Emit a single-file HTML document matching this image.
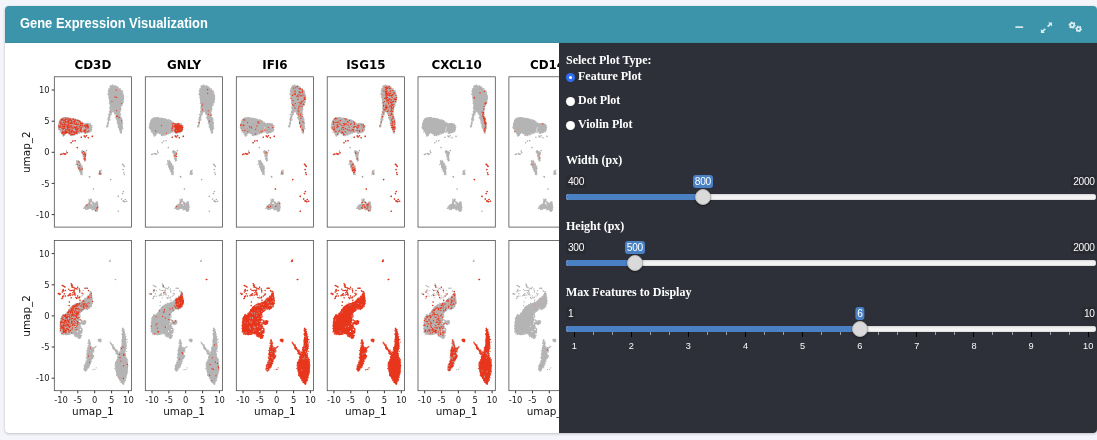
<!DOCTYPE html>
<html lang="en">
<head>
<meta charset="utf-8">
<title>Gene Expression Visualization</title>
<style>
html,body{margin:0;padding:0;}
body{width:1097px;height:440px;overflow:hidden;background:#f4f5fa;position:relative;font-family:"Liberation Sans",sans-serif;}
.card{will-change:transform;position:absolute;left:5px;top:6px;width:1092px;height:426.5px;background:#fff;border-radius:4px;box-shadow:0 0 1px rgba(0,0,0,.13),0 1px 3px rgba(0,0,0,.2);overflow:hidden;}
.hdr{position:absolute;left:0;top:0;right:0;height:37px;background:#3c94ab;border-bottom:1px solid #3a8ba1;box-sizing:border-box;}
.title{position:absolute;left:15px;top:7.6px;color:#fff;font-family:"Liberation Sans",sans-serif;font-weight:bold;font-size:14.6px;line-height:18px;white-space:nowrap;transform-origin:0 50%;transform:scaleX(.885);}
.tools svg{position:absolute;}
.plot{position:absolute;left:-5px;top:37px;}
.side{position:absolute;left:554px;top:37px;right:0;bottom:0;background:#2e3039;color:#fff;font-family:"Liberation Serif",serif;font-weight:bold;font-size:12px;}
.lab{position:absolute;left:7px;white-space:nowrap;line-height:14px;}
.radio{position:absolute;left:6.9px;width:9px;height:9px;border-radius:50%;background:#fff;box-sizing:border-box;}
.radio.on{background:#2f6df6;}
.radio.on:after{content:"";position:absolute;left:3px;top:3px;width:3px;height:3px;border-radius:50%;background:#fff;}
.rl{position:absolute;left:19px;white-space:nowrap;line-height:14px;}
.irs{position:absolute;left:7.2px;width:530px;height:50px;font-family:"Liberation Sans",sans-serif;font-weight:normal;}
.irs .mm{position:absolute;top:-.3px;height:12.2px;line-height:14px;font-size:10.2px;letter-spacing:-.3px;color:#fafafa;background:#292a32;border-radius:3px;padding:0 1.5px 0 1.8px;overflow:hidden;}
.irs .min{left:0;}
.irs .max{right:0;}
.irs .val{position:absolute;top:-.3px;height:12.2px;line-height:14px;font-size:10.2px;letter-spacing:-.3px;color:#fff;background:#4a80c4;border-radius:3px;padding:0 1.8px 0 2.1px;transform:translateX(-50%);overflow:hidden;}
.irs .line{position:absolute;left:0;right:0;top:18.3px;height:6px;border-radius:4px;background:linear-gradient(#e4e4e4,#f4f4f4 50%,#f0f0f0);box-shadow:inset 0 0 0 .5px #d0d0d0;}
.irs .bar{position:absolute;left:0;top:18.3px;height:6px;border-radius:4px 0 0 4px;background:#4a80c4;}
.irs .h{position:absolute;top:13.2px;width:16px;height:16px;margin-left:-8px;border-radius:50%;background:#dadada;box-sizing:border-box;border:1px solid #b9b9b9;box-shadow:0 1px 2px rgba(0,0,0,.45);}
.tk{position:absolute;top:24.4px;width:1px;}
.tk.M{height:5.2px;background:#000;}
.tk.m{height:3px;background:#9a9a9a;}
.tl{position:absolute;top:33.6px;font-size:9.2px;line-height:10px;color:#fafafa;transform:translateX(-50%);}
</style>
</head>
<body>
<div class="card">
  <div class="hdr">
    <div class="title">Gene Expression Visualization</div>
    <div class="tools">
      <svg style="left:1009.5px;top:19.8px" width="9" height="3" viewBox="0 0 9 3"><rect x=".3" y=".3" width="7.9" height="1.7" rx=".5" fill="#cfe6ec"/></svg>
      <svg style="left:1035px;top:15.5px" width="13" height="12" viewBox="0 0 13 12"><g fill="#dcedf1"><path d="M8.1.5H12V4.4zM.9 7.1V11H4.8z"/></g><path d="M10.4 2.1L7.6 4.7M2.5 9.4L5.3 6.8" stroke="#dcedf1" stroke-width="1.6" fill="none"/></svg>
      <svg style="left:1063px;top:15.3px" width="15" height="12" viewBox="0 0 15 12"><g fill="none" stroke="#dcedf1"><circle cx="4.2" cy="4.2" r="2" stroke-width="1.7"/><circle cx="4.2" cy="4.2" r="3" stroke-width="1.2" stroke-dasharray="1.57 1.57" stroke-dashoffset=".4"/><circle cx="10.6" cy="7.9" r="1.85" stroke-width="1.6"/><circle cx="10.6" cy="7.9" r="2.8" stroke-width="1.1" stroke-dasharray="1.466 1.466" stroke-dashoffset=".4"/></g></svg>
    </div>
  </div>
<svg class="plot" width="560" height="390" viewBox="0 43 560 390" font-family="'DejaVu Sans',sans-serif" fill="#000">
<defs><clipPath id="cl"><rect x="0" y="43" width="559.5" height="389"/></clipPath></defs><g clip-path="url(#cl)">
<text x="92.9" y="69" font-size="11.9" font-weight="bold" text-anchor="middle">CD3D</text>
<text x="184.0" y="69" font-size="11.9" font-weight="bold" text-anchor="middle">GNLY</text>
<text x="274.9" y="69" font-size="11.9" font-weight="bold" text-anchor="middle">IFI6</text>
<text x="365.8" y="69" font-size="11.9" font-weight="bold" text-anchor="middle">ISG15</text>
<text x="456.6" y="69" font-size="11.9" font-weight="bold" text-anchor="middle">CXCL10</text>
<text x="547.5" y="69" font-size="11.9" font-weight="bold" text-anchor="middle">CD14</text>
<text transform="translate(30.3 152.2) rotate(-90)" font-size="10.45" text-anchor="middle" fill="#111">umap_2</text>
<text x="49.6" y="93.1" font-size="8.4" text-anchor="end" fill="#222">10</text>
<path d="M51.7 90.0H54.3" stroke="#000" stroke-width=".8"/>
<text x="49.6" y="124.2" font-size="8.4" text-anchor="end" fill="#222">5</text>
<path d="M51.7 121.2H54.3" stroke="#000" stroke-width=".8"/>
<text x="49.6" y="155.4" font-size="8.4" text-anchor="end" fill="#222">0</text>
<path d="M51.7 152.3H54.3" stroke="#000" stroke-width=".8"/>
<text x="49.6" y="186.5" font-size="8.4" text-anchor="end" fill="#222">-5</text>
<path d="M51.7 183.4H54.3" stroke="#000" stroke-width=".8"/>
<text x="49.6" y="217.7" font-size="8.4" text-anchor="end" fill="#222">-10</text>
<path d="M51.7 214.6H54.3" stroke="#000" stroke-width=".8"/>
<text transform="translate(30.3 315.9) rotate(-90)" font-size="10.45" text-anchor="middle" fill="#111">umap_2</text>
<text x="49.6" y="256.7" font-size="8.4" text-anchor="end" fill="#222">10</text>
<path d="M51.7 253.6H54.3" stroke="#000" stroke-width=".8"/>
<text x="49.6" y="287.9" font-size="8.4" text-anchor="end" fill="#222">5</text>
<path d="M51.7 284.8H54.3" stroke="#000" stroke-width=".8"/>
<text x="49.6" y="319.0" font-size="8.4" text-anchor="end" fill="#222">0</text>
<path d="M51.7 315.9H54.3" stroke="#000" stroke-width=".8"/>
<text x="49.6" y="350.1" font-size="8.4" text-anchor="end" fill="#222">-5</text>
<path d="M51.7 347.0H54.3" stroke="#000" stroke-width=".8"/>
<text x="49.6" y="381.3" font-size="8.4" text-anchor="end" fill="#222">-10</text>
<path d="M51.7 378.2H54.3" stroke="#000" stroke-width=".8"/>
<path d="M61.0 390.7V393.3" stroke="#000" stroke-width=".8"/>
<text x="61.0" y="402.6" font-size="8.4" text-anchor="middle" fill="#222">-10</text>
<path d="M77.8 390.7V393.3" stroke="#000" stroke-width=".8"/>
<text x="77.8" y="402.6" font-size="8.4" text-anchor="middle" fill="#222">-5</text>
<path d="M94.7 390.7V393.3" stroke="#000" stroke-width=".8"/>
<text x="94.7" y="402.6" font-size="8.4" text-anchor="middle" fill="#222">0</text>
<path d="M111.6 390.7V393.3" stroke="#000" stroke-width=".8"/>
<text x="111.6" y="402.6" font-size="8.4" text-anchor="middle" fill="#222">5</text>
<path d="M128.4 390.7V393.3" stroke="#000" stroke-width=".8"/>
<text x="128.4" y="402.6" font-size="8.4" text-anchor="middle" fill="#222">10</text>
<text x="92.9" y="414.5" font-size="10.45" text-anchor="middle" fill="#111">umap_1</text>
<path d="M152.0 390.7V393.3" stroke="#000" stroke-width=".8"/>
<text x="152.0" y="402.6" font-size="8.4" text-anchor="middle" fill="#222">-10</text>
<path d="M168.8 390.7V393.3" stroke="#000" stroke-width=".8"/>
<text x="168.8" y="402.6" font-size="8.4" text-anchor="middle" fill="#222">-5</text>
<path d="M185.7 390.7V393.3" stroke="#000" stroke-width=".8"/>
<text x="185.7" y="402.6" font-size="8.4" text-anchor="middle" fill="#222">0</text>
<path d="M202.6 390.7V393.3" stroke="#000" stroke-width=".8"/>
<text x="202.6" y="402.6" font-size="8.4" text-anchor="middle" fill="#222">5</text>
<path d="M219.4 390.7V393.3" stroke="#000" stroke-width=".8"/>
<text x="219.4" y="402.6" font-size="8.4" text-anchor="middle" fill="#222">10</text>
<text x="184.0" y="414.5" font-size="10.45" text-anchor="middle" fill="#111">umap_1</text>
<path d="M243.0 390.7V393.3" stroke="#000" stroke-width=".8"/>
<text x="243.0" y="402.6" font-size="8.4" text-anchor="middle" fill="#222">-10</text>
<path d="M259.9 390.7V393.3" stroke="#000" stroke-width=".8"/>
<text x="259.9" y="402.6" font-size="8.4" text-anchor="middle" fill="#222">-5</text>
<path d="M276.7 390.7V393.3" stroke="#000" stroke-width=".8"/>
<text x="276.7" y="402.6" font-size="8.4" text-anchor="middle" fill="#222">0</text>
<path d="M293.6 390.7V393.3" stroke="#000" stroke-width=".8"/>
<text x="293.6" y="402.6" font-size="8.4" text-anchor="middle" fill="#222">5</text>
<path d="M310.4 390.7V393.3" stroke="#000" stroke-width=".8"/>
<text x="310.4" y="402.6" font-size="8.4" text-anchor="middle" fill="#222">10</text>
<text x="274.9" y="414.5" font-size="10.45" text-anchor="middle" fill="#111">umap_1</text>
<path d="M333.9 390.7V393.3" stroke="#000" stroke-width=".8"/>
<text x="333.9" y="402.6" font-size="8.4" text-anchor="middle" fill="#222">-10</text>
<path d="M350.8 390.7V393.3" stroke="#000" stroke-width=".8"/>
<text x="350.8" y="402.6" font-size="8.4" text-anchor="middle" fill="#222">-5</text>
<path d="M367.6 390.7V393.3" stroke="#000" stroke-width=".8"/>
<text x="367.6" y="402.6" font-size="8.4" text-anchor="middle" fill="#222">0</text>
<path d="M384.4 390.7V393.3" stroke="#000" stroke-width=".8"/>
<text x="384.4" y="402.6" font-size="8.4" text-anchor="middle" fill="#222">5</text>
<path d="M401.3 390.7V393.3" stroke="#000" stroke-width=".8"/>
<text x="401.3" y="402.6" font-size="8.4" text-anchor="middle" fill="#222">10</text>
<text x="365.8" y="414.5" font-size="10.45" text-anchor="middle" fill="#111">umap_1</text>
<path d="M424.7 390.7V393.3" stroke="#000" stroke-width=".8"/>
<text x="424.7" y="402.6" font-size="8.4" text-anchor="middle" fill="#222">-10</text>
<path d="M441.6 390.7V393.3" stroke="#000" stroke-width=".8"/>
<text x="441.6" y="402.6" font-size="8.4" text-anchor="middle" fill="#222">-5</text>
<path d="M458.4 390.7V393.3" stroke="#000" stroke-width=".8"/>
<text x="458.4" y="402.6" font-size="8.4" text-anchor="middle" fill="#222">0</text>
<path d="M475.2 390.7V393.3" stroke="#000" stroke-width=".8"/>
<text x="475.2" y="402.6" font-size="8.4" text-anchor="middle" fill="#222">5</text>
<path d="M492.1 390.7V393.3" stroke="#000" stroke-width=".8"/>
<text x="492.1" y="402.6" font-size="8.4" text-anchor="middle" fill="#222">10</text>
<text x="456.6" y="414.5" font-size="10.45" text-anchor="middle" fill="#111">umap_1</text>
<path d="M515.6 390.7V393.3" stroke="#000" stroke-width=".8"/>
<text x="515.6" y="402.6" font-size="8.4" text-anchor="middle" fill="#222">-10</text>
<path d="M532.5 390.7V393.3" stroke="#000" stroke-width=".8"/>
<text x="532.5" y="402.6" font-size="8.4" text-anchor="middle" fill="#222">-5</text>
<path d="M549.3 390.7V393.3" stroke="#000" stroke-width=".8"/>
<text x="549.3" y="402.6" font-size="8.4" text-anchor="middle" fill="#222">0</text>
<path d="M566.1 390.7V393.3" stroke="#000" stroke-width=".8"/>
<text x="566.1" y="402.6" font-size="8.4" text-anchor="middle" fill="#222">5</text>
<path d="M583.0 390.7V393.3" stroke="#000" stroke-width=".8"/>
<text x="583.0" y="402.6" font-size="8.4" text-anchor="middle" fill="#222">10</text>
<text x="547.5" y="414.5" font-size="10.45" text-anchor="middle" fill="#111">umap_1</text>
<path d="M112.3 85.2C113.4 85.2 114.8 85.4 116.2 86.1C117.6 86.8 119.0 87.9 120.2 89.2C121.4 90.5 122.1 91.6 122.8 93.2C123.5 94.7 123.8 96.0 123.9 97.7C123.9 99.4 123.5 100.8 123.1 102.4C122.6 104.0 121.9 104.9 121.4 106.4C120.8 108.0 120.3 109.1 120.1 110.6C119.8 112.2 120.0 113.3 120.3 114.9C120.5 116.4 121.0 117.4 121.4 119.0C121.8 120.6 122.3 122.0 122.5 123.8C122.7 125.5 122.6 126.7 122.5 128.3C122.3 130.0 121.7 132.2 121.4 133.0C121.1 133.8 121.3 133.5 120.9 132.6C120.4 131.8 119.4 129.9 118.8 128.2C118.2 126.6 118.0 125.3 117.5 123.6C117.1 121.9 117.0 120.6 116.5 118.8C116.1 117.0 115.8 115.5 115.1 113.9C114.5 112.4 113.8 110.4 113.1 110.3C112.4 110.1 111.8 111.8 111.2 113.2C110.6 114.7 110.3 116.3 109.8 118.1C109.3 119.8 109.0 121.3 108.5 122.9C108.0 124.5 107.4 126.2 107.1 126.8C106.9 127.5 106.8 127.5 107.0 126.4C107.1 125.3 107.6 122.8 107.9 121.0C108.3 119.1 108.6 118.0 108.9 116.3C109.3 114.5 109.5 113.1 109.7 111.5C110.0 109.8 110.3 108.8 110.2 107.3C110.2 105.8 110.0 104.6 109.7 103.1C109.5 101.6 109.2 100.6 108.9 99.0C108.7 97.4 108.4 96.0 108.3 94.3C108.3 92.6 108.6 91.1 108.9 89.6C109.3 88.2 109.5 87.2 110.1 86.4C110.8 85.6 111.2 85.3 112.3 85.2ZM58.5 125.5C58.6 124.1 58.9 122.4 59.4 121.1C60.0 119.8 60.6 119.2 61.6 118.6C62.5 117.9 63.3 117.6 64.5 117.5C65.8 117.5 67.1 118.0 68.4 118.1C69.8 118.3 70.7 118.2 72.1 118.4C73.5 118.7 74.8 119.1 76.2 119.5C77.5 120.0 78.6 120.3 79.7 120.9C80.8 121.5 81.4 122.1 82.4 122.7C83.3 123.3 83.9 123.9 84.8 124.0C85.8 124.2 86.6 123.4 87.6 123.4C88.5 123.5 89.4 123.9 90.1 124.5C90.9 125.0 91.5 125.6 91.8 126.5C92.0 127.4 91.9 128.5 91.6 129.4C91.3 130.3 90.9 130.9 90.1 131.4C89.4 132.0 88.4 132.0 87.5 132.3C86.5 132.5 85.8 132.9 85.0 132.8C84.2 132.6 83.9 131.4 83.2 131.4C82.5 131.3 82.0 132.0 81.2 132.3C80.3 132.5 79.3 132.5 78.4 132.8C77.5 133.0 77.0 133.3 76.1 133.7C75.2 134.1 74.4 134.8 73.4 135.1C72.4 135.3 71.3 135.3 70.5 135.1C69.8 134.8 69.9 134.1 69.2 133.7C68.5 133.3 67.5 133.0 66.6 133.2C65.7 133.3 64.7 134.1 64.2 134.7C63.7 135.2 64.0 136.1 63.7 136.0C63.4 135.8 63.1 134.6 62.6 133.8C62.0 133.1 61.4 132.9 60.8 132.0C60.1 131.1 59.3 130.1 58.9 129.0C58.5 127.8 58.5 127.0 58.5 125.5ZM81.9 151.5C82.1 151.1 83.0 150.9 83.7 151.1C84.5 151.3 85.6 151.6 85.9 152.4C86.3 153.3 85.7 154.5 85.6 155.8C85.5 157.0 85.3 158.3 85.2 159.3C85.1 160.2 85.1 160.7 84.9 160.9C84.8 161.0 84.7 160.9 84.4 160.2C84.1 159.4 83.8 157.9 83.4 156.7C83.0 155.5 82.7 154.7 82.4 153.7C82.1 152.8 81.6 152.0 81.9 151.5ZM76.5 161.0C76.7 160.0 77.6 160.4 78.4 160.9C79.1 161.3 79.8 162.4 80.5 163.5C81.3 164.6 82.0 165.5 82.3 166.9C82.6 168.2 82.4 169.5 82.4 170.8C82.4 172.1 82.4 173.4 82.1 173.9C81.7 174.4 81.1 174.3 80.5 173.6C80.0 172.9 79.6 171.5 79.1 170.2C78.5 168.8 77.9 168.0 77.4 166.3C76.9 164.6 76.3 162.0 76.5 161.0ZM99.1 170.8C99.4 170.1 100.4 169.9 100.8 170.3C101.2 170.7 101.4 172.0 101.3 172.8C101.2 173.6 100.9 174.4 100.5 174.6C100.1 174.8 99.4 174.7 99.1 174.0C98.8 173.3 98.8 171.5 99.1 170.8ZM84.4 207.5C84.7 206.8 85.1 205.6 85.8 204.8C86.6 204.0 87.9 203.9 88.6 203.0C89.2 202.0 89.0 200.5 89.5 199.8C89.9 199.1 90.5 198.7 91.1 199.1C91.6 199.5 91.6 201.3 92.4 202.1C93.1 202.9 94.2 203.6 95.0 203.5C95.7 203.5 95.9 201.9 96.5 201.7C97.0 201.6 97.5 202.0 97.8 202.9C98.1 203.7 98.3 205.0 98.3 206.4C98.2 207.8 97.9 209.8 97.4 210.7C96.9 211.6 96.3 211.6 95.6 211.4C95.0 211.1 94.8 209.7 93.8 209.2C92.8 208.7 91.3 208.7 90.0 208.7C88.7 208.6 87.5 209.2 86.4 209.2C85.4 209.1 84.7 208.5 84.3 208.2C83.9 207.9 84.1 208.1 84.4 207.5Z" fill="#b4b4b4"/>
<path d="M117.5 121.4h.01M108.8 91.4h.01M108.6 94.3h.01M108.3 91.6h.01M122.1 120.8h.01M108.6 117.4h.01M121.7 90.6h.01M109.0 91.3h.01M110.2 105.3h.01M121.4 118.6h.01M120.0 130.9h.01M110.8 114.8h.01M110.5 108.7h.01M120.2 88.7h.01M122.2 127.4h.01M120.6 110.1h.01M115.2 113.2h.01M108.5 93.5h.01M121.0 119.3h.01M120.0 110.8h.01M108.0 124.9h.01M116.5 118.9h.01M123.0 92.9h.01M117.1 118.2h.01M109.8 120.4h.01M107.9 118.8h.01M121.0 108.9h.01M109.7 103.8h.01M109.3 103.2h.01M115.7 85.9h.01M108.5 118.0h.01M107.7 124.4h.01M113.8 111.2h.01M120.0 89.5h.01M109.8 119.5h.01M115.6 117.8h.01M120.0 88.9h.01M110.7 85.9h.01M121.6 131.4h.01M108.4 122.4h.01M122.4 123.9h.01M109.6 101.9h.01M121.5 132.5h.01M114.5 112.5h.01M106.6 126.8h.01M114.0 112.0h.01M109.5 111.4h.01M109.7 89.1h.01M110.6 104.9h.01M122.4 91.7h.01M112.6 111.4h.01M112.9 110.7h.01M112.8 84.8h.01M122.8 93.0h.01M111.3 114.5h.01M123.5 97.2h.01M114.5 113.9h.01M123.3 95.2h.01M120.3 110.5h.01M121.7 118.3h.01M108.9 116.3h.01M109.9 107.7h.01M123.7 96.7h.01M109.0 89.6h.01M111.3 85.9h.01M108.3 117.8h.01M120.7 132.7h.01M115.0 86.0h.01M121.9 128.7h.01M109.3 118.2h.01M122.6 94.9h.01M110.2 107.5h.01M119.7 130.1h.01M110.2 106.4h.01M109.8 119.5h.01M116.0 117.4h.01M108.6 117.4h.01M120.2 109.4h.01M116.9 119.9h.01M120.0 109.7h.01M107.9 126.7h.01M109.3 90.2h.01M123.1 102.1h.01M117.4 122.2h.01M123.5 95.5h.01M123.8 99.1h.01M108.4 114.5h.01M110.0 107.6h.01M110.6 107.9h.01M107.8 94.0h.01M122.4 123.3h.01M109.4 100.6h.01M120.4 132.9h.01M112.1 111.9h.01M113.2 110.9h.01M107.9 119.9h.01M109.5 91.6h.01M108.9 91.5h.01M118.0 86.9h.01M109.7 112.4h.01M117.3 123.6h.01M123.3 102.0h.01M121.3 133.1h.01M122.5 93.5h.01M110.1 119.3h.01M120.2 110.8h.01M107.0 126.3h.01M117.1 87.3h.01M119.5 129.4h.01M121.1 117.3h.01M110.8 106.3h.01M120.5 108.1h.01M107.5 122.8h.01M116.7 118.2h.01M120.1 113.5h.01M111.6 112.2h.01M122.0 119.5h.01M119.3 110.8h.01M109.8 108.8h.01M110.0 116.9h.01M121.1 131.7h.01M107.1 126.9h.01M120.0 115.0h.01M110.7 86.3h.01M123.7 99.2h.01M113.7 111.3h.01M120.2 111.8h.01M109.6 111.8h.01M122.4 122.6h.01M122.5 126.6h.01M113.3 109.6h.01M108.5 119.3h.01M110.0 86.2h.01M108.6 94.7h.01M120.1 109.3h.01M108.9 97.8h.01M112.3 85.3h.01M111.4 113.0h.01M122.4 105.0h.01M118.1 125.9h.01M108.4 123.7h.01M120.7 114.6h.01M122.0 91.7h.01M119.2 128.2h.01M118.3 126.1h.01M123.1 101.3h.01M108.4 90.9h.01M108.7 88.8h.01M109.2 114.2h.01M115.7 117.3h.01M109.4 115.2h.01M106.8 125.7h.01M120.4 132.3h.01M116.4 86.3h.01M122.8 128.7h.01M109.7 111.1h.01M122.2 90.9h.01M118.3 127.3h.01M107.5 125.5h.01M123.4 97.9h.01M88.5 132.0h.01M82.8 131.1h.01M91.0 125.3h.01M63.4 118.0h.01M61.2 118.5h.01M78.7 120.3h.01M65.7 133.1h.01M73.1 135.6h.01M91.6 127.5h.01M66.1 117.7h.01M64.7 135.1h.01M68.5 133.4h.01M73.4 119.0h.01M64.5 134.8h.01M83.2 131.4h.01M91.8 129.3h.01M65.9 133.3h.01M71.3 135.5h.01M64.4 135.0h.01M89.3 131.4h.01M90.4 125.1h.01M58.7 128.5h.01M64.1 118.3h.01M72.6 119.3h.01M65.7 117.6h.01M81.3 131.8h.01M89.3 124.2h.01M75.3 119.3h.01M78.6 132.7h.01M60.6 131.5h.01M62.3 133.8h.01M64.9 133.8h.01M72.7 135.5h.01M77.2 133.3h.01M58.9 123.3h.01M90.5 124.0h.01M70.8 135.3h.01M77.2 134.0h.01M60.0 120.3h.01M77.3 119.7h.01M79.8 120.7h.01M58.9 126.2h.01M79.8 120.6h.01M63.7 134.7h.01M60.3 120.2h.01M64.9 117.9h.01M61.4 119.6h.01M84.0 123.5h.01M78.8 120.7h.01M87.1 123.6h.01M85.3 131.7h.01M63.6 136.0h.01M86.0 123.7h.01M80.8 121.3h.01M88.7 132.3h.01M68.6 133.5h.01M70.8 118.4h.01M60.1 121.0h.01M92.0 125.5h.01M60.5 120.2h.01M60.6 131.1h.01M66.3 118.4h.01M86.4 132.6h.01M91.7 129.4h.01M64.7 134.6h.01M64.0 134.8h.01M88.9 124.2h.01M59.6 123.6h.01M88.5 131.1h.01M62.2 133.8h.01M75.9 134.5h.01M62.8 135.0h.01M89.4 132.0h.01M84.5 133.0h.01M90.9 130.8h.01M79.9 132.7h.01M83.4 131.9h.01M64.9 134.9h.01M89.6 124.6h.01M63.2 135.4h.01M75.1 119.0h.01M60.9 120.1h.01M89.0 124.0h.01M91.4 129.9h.01M82.2 122.0h.01M67.7 117.5h.01M63.7 133.7h.01M70.4 135.4h.01M82.9 123.0h.01M85.6 133.4h.01M74.5 119.3h.01M59.3 125.1h.01M73.3 118.6h.01M69.1 118.0h.01M91.4 128.8h.01M58.9 124.4h.01M70.3 118.1h.01M60.1 127.8h.01M86.3 133.1h.01M87.5 132.0h.01M68.3 132.8h.01M79.7 132.4h.01M70.5 118.1h.01M77.7 132.4h.01M87.6 123.3h.01M84.8 124.2h.01M60.4 119.9h.01M59.0 125.1h.01M78.6 132.5h.01M62.6 117.9h.01M79.3 133.0h.01M90.7 125.5h.01M64.9 134.3h.01M63.6 135.2h.01M72.0 118.6h.01M89.4 124.6h.01M83.0 123.4h.01M61.9 133.2h.01M77.8 133.1h.01M77.3 133.8h.01M92.1 127.3h.01M60.9 119.4h.01M61.8 133.1h.01M90.7 125.7h.01M74.6 134.9h.01M87.8 124.1h.01M71.8 118.8h.01M75.4 119.4h.01M81.9 132.2h.01M63.2 136.1h.01M66.8 117.7h.01M71.7 118.7h.01M63.8 135.3h.01M64.7 135.2h.01M74.2 119.2h.01M74.6 133.9h.01M90.8 129.5h.01M60.0 132.0h.01M88.2 123.5h.01M91.1 131.0h.01M74.3 133.9h.01M78.6 120.4h.01M85.4 132.5h.01M79.2 133.3h.01M62.4 134.1h.01M88.1 131.9h.01M85.3 123.6h.01M90.7 126.3h.01M58.6 126.5h.01M89.7 131.6h.01M78.1 120.0h.01M68.8 118.7h.01M91.3 129.5h.01M88.3 124.4h.01M62.9 134.8h.01M80.2 121.5h.01M69.2 133.5h.01M85.8 123.7h.01M70.4 134.4h.01M80.2 120.8h.01M82.5 132.0h.01M90.4 123.8h.01M87.6 132.7h.01M90.7 131.5h.01M87.1 132.4h.01M71.9 118.9h.01M71.0 118.6h.01M61.9 133.1h.01M58.3 127.4h.01M62.5 134.2h.01M81.6 152.1h.01M85.8 160.1h.01M84.5 161.0h.01M84.5 160.7h.01M84.7 160.2h.01M84.9 152.2h.01M83.0 156.4h.01M83.4 158.7h.01M83.0 155.1h.01M83.1 151.0h.01M82.0 152.7h.01M85.0 160.6h.01M84.8 159.1h.01M85.0 159.6h.01M81.7 151.4h.01M84.9 159.7h.01M85.7 152.4h.01M83.6 156.2h.01M85.7 152.7h.01M82.7 153.2h.01M83.7 158.1h.01M83.6 159.1h.01M84.6 159.7h.01M82.3 151.0h.01M85.2 158.4h.01M76.8 160.5h.01M82.3 174.7h.01M79.4 161.9h.01M77.3 164.0h.01M81.8 170.7h.01M80.5 163.3h.01M75.9 164.6h.01M78.6 169.1h.01M82.1 172.9h.01M80.8 174.6h.01M78.5 161.0h.01M76.8 163.6h.01M82.4 168.6h.01M82.2 167.9h.01M81.0 174.0h.01M82.4 168.0h.01M81.3 174.0h.01M79.5 170.9h.01M79.7 171.2h.01M78.9 168.8h.01M82.4 166.0h.01M80.6 164.2h.01M79.2 162.2h.01M81.0 173.6h.01M78.4 160.3h.01M76.9 161.6h.01M78.5 169.2h.01M79.1 161.8h.01M82.5 168.1h.01M77.8 166.4h.01M82.3 172.4h.01M79.0 161.8h.01M80.9 174.0h.01M76.6 161.0h.01M77.9 167.5h.01M101.1 174.0h.01M100.7 171.8h.01M98.8 174.1h.01M101.4 173.4h.01M100.5 173.8h.01M100.5 174.5h.01M99.9 174.1h.01M101.3 170.2h.01M85.3 205.6h.01M91.7 209.2h.01M87.7 209.0h.01M95.0 204.2h.01M91.5 199.6h.01M88.9 199.2h.01M98.1 209.0h.01M91.1 199.1h.01M83.5 208.3h.01M97.7 204.6h.01M93.2 209.3h.01M96.3 202.2h.01M97.3 210.6h.01M97.7 209.5h.01M93.4 208.6h.01M97.7 202.1h.01M89.1 200.7h.01M94.6 208.8h.01M90.2 199.9h.01M92.6 209.9h.01M95.7 203.1h.01M89.0 202.4h.01M94.2 209.4h.01M90.6 199.5h.01M97.0 211.2h.01M90.6 199.1h.01M96.8 211.1h.01M84.3 208.2h.01M93.5 202.4h.01M96.0 202.3h.01M94.6 209.6h.01M84.5 207.8h.01M98.3 207.2h.01M92.9 202.1h.01M89.2 201.8h.01M96.0 211.3h.01M92.9 208.8h.01M94.7 208.4h.01M86.7 209.0h.01M89.2 201.0h.01M89.4 200.9h.01M85.5 209.1h.01M94.5 203.3h.01M97.6 209.6h.01M96.0 202.2h.01M89.8 208.4h.01M88.0 209.5h.01M97.5 210.3h.01M93.4 203.5h.01M97.0 202.0h.01M96.8 210.7h.01M96.1 210.9h.01M86.0 208.7h.01M96.3 201.9h.01M95.3 210.6h.01M97.6 205.1h.01M84.4 206.9h.01M97.9 206.1h.01M86.0 209.4h.01M92.5 201.8h.01" stroke="#b4b4b4" stroke-width="1.25" stroke-linecap="round" fill="none"/>
<path d="M60.7 154.5h.01M62.0 154.0h.01M63.8 153.6h.01M65.6 154.0h.01M67.1 152.7h.01M64.7 154.2h.01M81.3 137.3h.01M84.3 136.1h.01M86.5 135.7h.01M88.3 137.8h.01M92.3 136.4h.01M85.3 137.0h.01M72.8 141.0h.01M75.1 140.7h.01M71.1 142.8h.01M77.3 147.6h.01M66.6 151.1h.01M82.6 151.1h.01M86.5 150.6h.01M122.5 164.2h.01M124.3 166.4h.01M123.1 169.6h.01M123.8 172.7h.01M124.3 174.5h.01M123.3 165.1h.01M123.4 191.5h.01M122.5 193.6h.01M118.3 196.4h.01M121.6 199.1h.01M123.1 200.9h.01M124.9 201.8h.01M126.7 201.3h.01M125.3 199.5h.01M124.1 201.4h.01M118.3 211.3h.01M89.4 176.5h.01M89.8 177.1h.01M110.7 179.6h.01M93.4 189.1h.01" stroke="#ababab" stroke-width="1.6" stroke-linecap="round" fill="none"/>
<path d="M60.7 154.5h.01M62.0 154.0h.01M63.8 153.6h.01M65.6 154.0h.01M67.1 152.7h.01M64.7 154.2h.01M81.3 137.3h.01M84.3 136.1h.01M86.5 135.7h.01M88.3 137.8h.01M92.3 136.4h.01M85.3 137.0h.01M72.8 141.0h.01M75.1 140.7h.01M71.1 142.8h.01M77.3 147.6h.01" stroke="#e8361d" stroke-width="1.6" stroke-linecap="round" fill="none"/>
<path d="M67.1 129.7h.01M72.3 125.2h.01M74.2 131.6h.01M66.8 132.1h.01M80.0 124.3h.01M77.7 130.6h.01M81.1 123.0h.01M78.8 124.1h.01M76.3 131.0h.01M65.0 120.9h.01M68.6 131.9h.01M66.1 132.8h.01M76.4 131.3h.01M67.0 130.8h.01M71.4 120.4h.01M64.8 118.5h.01M73.7 132.8h.01M81.6 129.2h.01M67.2 120.6h.01M73.7 132.4h.01M79.4 130.8h.01M77.2 124.3h.01M79.9 123.4h.01M63.9 125.5h.01M78.5 127.0h.01M63.4 133.7h.01M75.8 130.9h.01M66.6 121.4h.01M85.2 132.2h.01M79.6 124.2h.01M80.1 129.8h.01M64.1 119.2h.01M70.3 130.6h.01M68.6 126.5h.01M69.7 130.6h.01M64.3 125.1h.01M80.7 123.3h.01M70.2 131.3h.01M66.5 124.2h.01M66.5 123.7h.01M70.3 133.6h.01M59.9 122.2h.01M73.5 126.2h.01M80.6 123.2h.01M84.1 131.2h.01M78.3 131.2h.01M67.9 118.1h.01M81.3 126.6h.01M72.2 121.2h.01M61.5 121.5h.01M76.3 120.8h.01M67.6 118.4h.01M86.6 131.4h.01M67.5 125.9h.01M66.3 122.1h.01M79.4 128.6h.01M71.9 125.6h.01M75.7 132.7h.01M73.3 126.8h.01M64.0 121.4h.01M62.4 119.9h.01M86.5 129.1h.01M84.2 130.5h.01M81.4 126.8h.01M87.3 126.3h.01M74.3 126.6h.01M72.6 127.1h.01M67.8 126.5h.01M74.8 127.8h.01M70.9 126.8h.01M65.9 129.9h.01M63.7 127.2h.01M64.7 118.9h.01M70.1 119.6h.01M71.7 128.5h.01M60.6 121.1h.01M88.2 125.0h.01M62.7 126.4h.01M63.5 132.0h.01M81.8 123.3h.01M73.9 123.1h.01M73.4 129.9h.01M74.8 119.3h.01M77.4 129.5h.01M62.1 126.0h.01M67.1 119.6h.01M63.3 118.6h.01M74.9 127.5h.01M74.3 124.7h.01M85.4 130.2h.01M67.2 130.8h.01M72.2 130.3h.01M64.0 133.7h.01M70.9 121.2h.01M60.8 119.5h.01M75.8 130.6h.01M64.4 125.9h.01M74.3 125.3h.01M63.2 119.3h.01M72.4 131.1h.01M73.8 125.1h.01M67.7 120.9h.01M83.9 126.0h.01M72.0 132.4h.01M71.4 121.4h.01M61.8 124.3h.01M65.7 130.5h.01M69.1 131.6h.01M59.3 128.6h.01M75.6 123.2h.01M71.4 132.1h.01M71.5 132.0h.01M59.0 127.6h.01M69.6 126.1h.01M71.7 129.7h.01M62.8 119.4h.01M78.8 130.4h.01M68.6 121.2h.01M61.7 128.8h.01M75.5 129.3h.01M59.8 129.6h.01M71.6 126.1h.01M60.9 126.4h.01M63.1 132.7h.01M110.3 111.8h.01M120.2 108.6h.01M85.4 156.9h.01M85.6 155.0h.01M84.1 156.0h.01M84.7 160.1h.01M83.0 152.9h.01M78.3 168.0h.01M77.1 162.4h.01M97.5 204.0h.01M91.2 200.6h.01" stroke="#e38a73" stroke-width="1.05" stroke-linecap="round" fill="none"/>
<path d="M67.5 121.0h.01M74.5 123.3h.01M71.5 120.3h.01M76.8 132.3h.01M72.2 126.5h.01M66.5 132.3h.01M61.1 122.4h.01M69.7 120.3h.01M70.1 126.2h.01M69.5 133.5h.01M58.8 125.7h.01M65.0 123.7h.01M70.9 133.9h.01M82.7 125.4h.01M60.4 123.4h.01M76.7 124.4h.01M81.3 128.2h.01M67.0 127.8h.01M78.8 126.8h.01M61.3 120.1h.01M69.2 129.5h.01M65.6 132.2h.01M60.2 121.7h.01M68.6 130.9h.01M65.6 119.4h.01M69.7 127.5h.01M87.5 124.7h.01M60.4 121.4h.01M63.1 126.4h.01M64.5 126.0h.01M71.4 123.0h.01M87.5 125.1h.01M76.2 124.6h.01M71.8 121.4h.01M74.0 131.9h.01M60.8 125.0h.01M59.5 126.7h.01M73.7 123.0h.01M63.8 132.9h.01M78.3 128.2h.01M68.0 129.3h.01M71.4 131.8h.01M76.7 127.0h.01M67.2 119.6h.01M70.4 129.2h.01M63.4 123.2h.01M77.3 124.2h.01M70.4 120.5h.01M65.5 122.3h.01M76.0 122.8h.01M72.0 127.7h.01M87.4 127.8h.01M63.7 134.7h.01M65.6 117.9h.01M71.9 124.1h.01M61.9 127.0h.01M60.7 125.0h.01M69.2 121.8h.01M67.5 129.0h.01M73.1 134.3h.01M80.5 122.3h.01M70.6 119.2h.01M65.1 133.6h.01M67.7 125.0h.01M62.2 133.5h.01M75.0 124.2h.01M62.8 128.5h.01M74.8 124.1h.01M82.3 127.4h.01M68.0 119.9h.01M71.2 133.5h.01M80.4 129.5h.01M75.9 128.1h.01M66.8 132.1h.01M64.0 118.2h.01M63.8 128.1h.01M69.8 128.4h.01M81.8 132.0h.01M70.0 123.0h.01M75.6 129.0h.01M76.5 129.5h.01M61.5 123.1h.01M87.5 126.8h.01M76.8 133.0h.01M72.4 130.2h.01M69.9 118.9h.01M62.3 131.8h.01M62.2 132.9h.01M78.1 120.7h.01M69.6 129.9h.01M85.5 125.1h.01M80.7 125.6h.01M74.1 132.9h.01M65.2 120.2h.01M64.6 132.6h.01M62.8 127.3h.01M78.7 131.5h.01M62.8 120.0h.01M77.1 124.5h.01M69.4 128.8h.01M65.0 133.2h.01M69.4 132.8h.01M75.4 127.2h.01M66.3 124.5h.01M76.7 127.1h.01M81.9 129.9h.01M73.3 118.9h.01M79.2 121.0h.01M71.0 123.4h.01M75.2 121.4h.01M68.1 123.7h.01M70.7 124.0h.01M67.0 118.8h.01M70.1 133.0h.01M73.6 122.2h.01M67.5 132.5h.01M74.6 127.5h.01M73.2 134.6h.01M71.1 134.8h.01M79.6 121.7h.01M73.0 119.1h.01M64.0 119.8h.01M74.4 121.7h.01M75.7 119.5h.01M76.7 122.9h.01M80.1 125.6h.01M82.6 123.5h.01M63.9 127.3h.01M80.2 131.6h.01M69.4 129.1h.01M60.0 127.2h.01M64.8 121.1h.01M74.1 126.9h.01M80.2 125.8h.01M63.3 132.3h.01M81.1 127.6h.01M61.8 133.0h.01M64.3 128.4h.01M63.6 120.3h.01M66.0 128.2h.01M85.9 130.8h.01M62.7 131.6h.01M87.0 126.6h.01M59.3 122.1h.01M63.5 122.2h.01M75.4 120.1h.01M81.3 129.5h.01M76.6 127.9h.01M67.2 127.9h.01M64.3 119.3h.01M77.3 132.9h.01M71.9 134.4h.01M70.5 125.3h.01M75.6 133.1h.01M77.2 125.0h.01M61.1 127.0h.01M75.7 122.6h.01M77.3 120.6h.01M74.0 123.0h.01M76.8 125.5h.01M86.5 124.8h.01M66.7 132.5h.01M62.4 119.3h.01M63.7 127.7h.01M66.1 122.0h.01M63.0 131.3h.01M63.9 126.1h.01M69.1 133.7h.01M68.6 124.2h.01M82.1 127.9h.01M62.7 124.2h.01M73.2 121.3h.01M65.0 123.8h.01M75.3 123.6h.01M76.8 123.9h.01M66.5 131.7h.01M68.6 125.5h.01M81.4 131.2h.01M75.9 130.8h.01M60.0 127.4h.01M80.2 130.5h.01M68.3 118.3h.01M71.2 122.4h.01M64.6 124.2h.01M69.2 132.5h.01M74.6 120.2h.01M59.0 126.8h.01M81.3 129.1h.01M67.4 126.6h.01M60.2 121.1h.01M65.1 118.5h.01M63.1 129.6h.01M86.8 125.9h.01M64.7 132.3h.01M63.7 127.3h.01M69.5 125.2h.01M66.0 130.7h.01M78.1 123.2h.01M82.7 127.1h.01M68.3 128.4h.01M73.0 128.2h.01M63.9 122.5h.01M87.5 125.4h.01M84.7 125.9h.01M83.0 126.8h.01M63.7 122.7h.01M74.9 122.6h.01M72.6 127.1h.01M84.8 125.3h.01M76.3 129.4h.01M71.7 126.7h.01M67.7 126.5h.01M88.7 130.9h.01M85.5 127.0h.01M66.0 122.4h.01M82.3 126.4h.01M59.2 129.5h.01M78.0 129.2h.01M80.8 124.0h.01M64.2 127.7h.01M85.4 129.7h.01M80.1 121.9h.01M61.8 127.8h.01M76.8 127.9h.01M67.4 121.1h.01M68.1 123.7h.01M67.7 122.8h.01M71.8 125.9h.01M62.1 120.0h.01M70.1 126.4h.01M88.3 127.7h.01M79.9 125.2h.01M68.1 125.0h.01M65.0 130.9h.01M62.5 125.1h.01M75.2 131.2h.01M72.5 134.5h.01M75.7 123.2h.01M76.6 131.7h.01M80.6 123.1h.01M64.8 120.6h.01M71.7 132.4h.01M64.6 126.8h.01M75.3 132.7h.01M62.0 119.1h.01M63.8 123.2h.01M82.3 131.1h.01M68.4 127.4h.01M66.2 129.5h.01M65.1 131.8h.01M72.2 126.9h.01M72.9 121.8h.01M76.9 131.5h.01M87.5 131.8h.01M78.8 128.2h.01M69.3 129.7h.01M79.5 126.8h.01M68.3 121.7h.01M65.9 133.0h.01M62.8 132.5h.01M70.1 131.2h.01M67.3 130.9h.01M69.5 127.4h.01M71.8 120.2h.01M65.2 118.1h.01M85.5 131.2h.01M83.7 131.1h.01M67.0 126.2h.01M69.0 130.4h.01M61.5 127.8h.01M68.0 127.4h.01M64.4 126.7h.01M84.5 131.2h.01M64.1 119.5h.01M59.3 129.2h.01M66.6 132.5h.01M71.6 130.9h.01M74.4 127.8h.01M78.3 124.2h.01M82.1 125.3h.01M77.6 130.0h.01M77.1 126.8h.01M70.0 127.7h.01M67.8 122.6h.01M64.1 119.4h.01M82.4 127.5h.01M64.1 124.4h.01M86.4 127.8h.01M68.7 121.1h.01M66.3 118.8h.01M76.4 133.4h.01M71.9 129.8h.01M68.6 121.1h.01M65.6 125.7h.01M74.3 134.2h.01M61.4 119.4h.01M77.6 131.0h.01M70.8 120.7h.01M73.0 126.3h.01M84.5 131.8h.01M73.0 119.6h.01M65.9 130.0h.01M74.1 127.6h.01M75.2 124.1h.01M80.8 127.9h.01M73.4 119.1h.01M62.2 120.8h.01M61.3 124.9h.01M64.4 119.8h.01M68.8 123.7h.01M63.0 124.3h.01M70.4 127.8h.01M81.9 123.7h.01M77.2 127.7h.01M87.8 125.1h.01M84.4 130.2h.01M82.7 123.2h.01M63.1 129.5h.01M85.5 132.5h.01M88.2 126.4h.01M72.3 123.1h.01M69.2 120.0h.01M65.6 124.6h.01M70.5 129.5h.01M72.2 132.0h.01M73.6 131.6h.01M65.3 118.5h.01M67.6 126.2h.01M86.4 126.4h.01M59.2 125.9h.01M65.7 129.6h.01M65.7 121.3h.01M77.2 120.5h.01M87.6 125.3h.01M76.3 129.3h.01M63.0 129.4h.01M111.9 101.6h.01M116.5 116.2h.01M116.3 90.1h.01M121.8 103.6h.01M117.5 116.2h.01M115.0 96.9h.01M116.5 110.6h.01M116.5 97.4h.01M119.1 117.5h.01M121.7 120.9h.01M84.6 158.8h.01M84.4 153.1h.01M84.6 154.1h.01M85.0 159.8h.01M85.8 154.1h.01M85.1 158.9h.01M84.5 158.8h.01M85.6 154.8h.01M85.1 155.6h.01M85.5 155.6h.01M84.3 158.6h.01M83.6 154.3h.01M84.8 157.1h.01M83.6 151.6h.01M85.6 155.2h.01M82.3 152.9h.01M85.4 156.1h.01M79.0 162.0h.01M82.3 168.8h.01M81.7 169.6h.01M78.6 168.1h.01M77.2 164.6h.01M79.8 167.9h.01M80.0 169.7h.01M79.7 165.3h.01M99.3 173.6h.01M100.1 173.9h.01M99.6 171.8h.01M96.8 208.2h.01M86.9 205.0h.01M95.7 210.6h.01M97.4 207.4h.01M90.2 203.4h.01" stroke="#e8361d" stroke-width="1.35" stroke-linecap="round" fill="none"/>
<path d="M78.1 127.4h.01M59.9 121.2h.01M73.8 122.0h.01M64.1 119.2h.01M86.7 127.3h.01M79.0 125.4h.01M59.9 121.9h.01M61.4 127.0h.01M66.5 128.5h.01M66.5 123.2h.01M74.4 125.5h.01M62.3 120.7h.01M63.0 127.4h.01M76.4 125.2h.01M59.3 129.3h.01M65.7 125.1h.01M67.7 119.9h.01M59.1 124.3h.01M71.7 124.7h.01M63.6 123.6h.01M78.5 127.8h.01M75.4 131.0h.01M59.5 128.4h.01M78.4 130.8h.01M70.3 124.6h.01M65.9 118.1h.01M70.7 129.6h.01M77.8 122.9h.01M72.6 126.3h.01M82.2 126.6h.01M71.3 133.5h.01M66.4 128.2h.01M75.1 123.1h.01M78.2 130.8h.01M71.5 118.8h.01M79.8 131.4h.01M72.4 120.9h.01M74.2 130.5h.01M64.8 118.4h.01M70.1 121.1h.01M77.7 123.8h.01M67.1 130.6h.01M69.9 125.0h.01M70.1 127.9h.01M77.9 131.0h.01M75.9 122.8h.01M67.8 124.2h.01M85.6 132.0h.01M69.0 128.6h.01M73.2 127.1h.01" stroke="#b4b4b4" stroke-width="1.05" stroke-linecap="round" fill="none"/>
<path d="M82.9 127.0q-1.3 2.6 -.6 5.6" stroke="#fff" stroke-width=".7" fill="none" opacity=".75"/>
<path d="M91.1 203.2h.01" stroke="#fff" stroke-width="1.7" stroke-linecap="round"/>
<path d="M92.3 205.0h.01" stroke="#fff" stroke-width="1" stroke-linecap="round"/>
<rect x="54.3" y="76.8" width="77.3" height="150.3" fill="none" stroke="#444" stroke-width=".75"/>
<path d="M90.7 292.5C90.9 292.7 91.1 294.8 91.5 296.3C91.9 297.9 92.7 299.4 92.7 301.1C92.7 302.8 92.3 304.6 91.6 305.8C90.9 307.0 89.8 307.1 89.0 307.7C88.1 308.3 87.9 309.0 87.2 309.0C86.5 309.0 85.9 307.4 85.0 307.6C84.1 307.8 83.4 309.0 82.5 309.9C81.7 310.9 81.1 311.7 80.4 312.8C79.7 313.9 79.0 314.7 78.9 315.8C78.8 317.0 79.1 318.0 79.7 319.0C80.3 320.0 81.2 321.1 82.1 321.4C83.1 321.7 84.2 320.5 84.9 320.7C85.5 320.8 85.8 321.5 85.6 322.2C85.5 322.9 84.8 323.8 84.0 324.3C83.2 324.9 82.1 324.7 81.3 325.3C80.5 325.8 79.5 326.7 79.6 327.3C79.7 328.0 81.3 328.2 81.8 328.9C82.3 329.7 82.5 330.4 82.4 331.3C82.3 332.3 81.4 332.9 81.0 334.0C80.7 335.1 80.8 336.6 80.4 337.4C80.0 338.2 79.4 338.5 78.8 338.3C78.2 338.2 77.9 337.3 77.0 336.5C76.1 335.8 75.4 334.9 74.0 334.3C72.7 333.8 71.2 333.6 69.6 333.6C68.0 333.6 66.8 334.3 65.4 334.3C64.0 334.3 63.1 334.4 62.2 333.7C61.2 333.0 60.7 332.1 60.3 330.6C59.9 329.0 60.0 327.1 60.1 325.1C60.2 323.1 60.2 321.3 60.6 319.5C61.0 317.8 61.2 316.7 62.2 315.6C63.2 314.6 64.8 314.9 66.0 313.9C67.2 312.8 67.6 311.4 68.6 310.1C69.6 308.7 70.2 307.7 71.3 306.6C72.4 305.6 73.3 305.2 74.7 304.5C76.0 303.9 77.3 303.9 78.9 303.1C80.4 302.4 81.7 301.3 83.2 300.3C84.8 299.3 86.2 298.4 87.5 297.5C88.7 296.5 89.6 296.0 90.2 295.1C90.8 294.2 90.4 292.3 90.7 292.5ZM88.9 339.0C89.1 339.2 89.8 341.2 90.3 342.8C90.7 344.4 90.7 346.8 91.4 347.7C92.1 348.6 93.1 348.1 93.9 347.8C94.7 347.6 95.5 345.9 95.6 346.3C95.6 346.6 94.5 348.4 94.0 349.7C93.4 350.9 92.7 351.8 92.7 353.0C92.6 354.2 93.6 355.0 93.5 356.2C93.3 357.3 92.5 358.1 91.9 359.2C91.3 360.4 90.7 361.3 90.3 362.5C89.9 363.6 90.2 364.6 89.8 365.6C89.3 366.6 88.5 367.0 87.9 367.9C87.3 368.8 86.9 369.7 86.4 370.2C85.8 370.8 85.3 371.2 84.9 371.0C84.4 370.7 83.9 370.0 83.8 368.9C83.8 367.8 84.2 366.4 84.6 365.1C85.1 363.8 85.7 363.2 86.1 361.9C86.6 360.6 86.9 359.3 86.9 357.8C87.0 356.3 86.6 355.3 86.6 353.8C86.7 352.4 87.0 351.3 87.3 349.9C87.7 348.4 88.2 347.4 88.5 346.0C88.8 344.5 88.9 343.2 88.9 341.9C89.0 340.7 88.6 338.9 88.9 339.0ZM101.7 340.1C101.7 340.5 101.4 341.0 101.1 341.3C100.8 341.6 100.3 341.9 99.9 341.9C99.5 341.9 99.0 341.6 98.7 341.3C98.4 341.0 98.2 340.5 98.2 340.1C98.2 339.7 98.4 339.2 98.7 338.9C99.0 338.6 99.5 338.4 99.9 338.4C100.3 338.4 100.8 338.6 101.1 338.9C101.4 339.2 101.7 339.7 101.7 340.1ZM122.9 327.2C123.2 327.2 123.6 329.1 124.1 330.8C124.6 332.5 125.3 334.2 125.7 336.4C126.1 338.6 126.2 340.4 126.3 342.7C126.4 345.0 126.2 346.9 126.0 349.0C125.8 351.0 125.1 351.9 125.2 353.8C125.4 355.8 126.3 357.7 126.8 359.5C127.3 361.3 127.7 361.7 127.9 363.4C128.1 365.2 128.1 366.9 127.9 368.9C127.7 370.9 127.3 372.4 126.8 374.4C126.3 376.4 125.9 378.3 125.2 380.0C124.6 381.7 124.0 383.1 123.4 383.7C122.7 384.2 122.7 383.8 121.9 382.9C121.1 382.1 120.1 380.7 119.1 379.1C118.1 377.5 117.2 376.2 116.5 374.4C115.8 372.5 115.5 370.9 115.4 368.9C115.3 366.9 115.3 365.3 115.7 363.5C116.0 361.6 116.8 360.2 117.3 358.7C117.7 357.2 118.4 356.5 118.1 355.3C117.8 354.1 116.6 353.4 115.6 352.0C114.7 350.5 113.7 348.9 112.7 347.3C111.8 345.7 110.8 344.2 110.4 343.4C110.0 342.6 110.0 342.5 110.6 343.0C111.1 343.5 112.3 344.7 113.4 346.1C114.5 347.6 115.5 349.5 116.6 350.8C117.7 352.2 118.7 353.7 119.5 353.4C120.2 353.0 120.4 351.0 120.8 349.1C121.2 347.1 121.5 345.1 121.7 342.7C121.9 340.4 121.9 338.5 122.0 336.3C122.1 334.1 122.3 332.4 122.5 330.8C122.7 329.1 122.6 327.2 122.9 327.2Z" fill="#b4b4b4"/>
<path d="M84.5 320.5h.01M83.6 300.2h.01M74.0 305.2h.01M68.0 311.3h.01M81.7 331.9h.01M80.1 336.9h.01M89.4 308.2h.01M88.5 308.2h.01M80.7 320.1h.01M80.0 326.2h.01M91.5 296.8h.01M79.0 317.5h.01M75.5 335.6h.01M65.9 333.9h.01M85.0 308.0h.01M83.2 309.8h.01M60.1 331.9h.01M80.2 326.6h.01M82.0 329.6h.01M74.3 333.7h.01M89.7 294.1h.01M67.7 334.3h.01M83.0 324.4h.01M81.0 320.6h.01M65.9 313.4h.01M60.9 320.8h.01M81.8 328.5h.01M85.7 323.5h.01M84.8 299.0h.01M66.9 333.8h.01M75.2 336.5h.01M90.5 293.4h.01M63.4 334.5h.01M72.3 305.9h.01M80.2 325.5h.01M81.5 311.4h.01M89.2 295.7h.01M76.9 304.2h.01M79.9 315.7h.01M83.7 320.9h.01M68.5 334.4h.01M89.5 295.5h.01M76.5 336.3h.01M89.9 307.0h.01M64.5 333.8h.01M89.5 297.0h.01M87.2 308.8h.01M81.1 327.8h.01M76.0 335.7h.01M79.2 338.2h.01M83.3 300.6h.01M84.8 308.7h.01M80.6 319.9h.01M83.2 310.2h.01M60.8 331.4h.01M87.7 309.1h.01M85.3 321.5h.01M87.2 308.9h.01M80.5 325.8h.01M89.3 307.8h.01M74.2 334.4h.01M92.1 298.2h.01M83.2 309.1h.01M78.9 337.9h.01M91.4 297.9h.01M81.6 325.4h.01M90.8 293.6h.01M72.7 306.6h.01M61.5 334.1h.01M76.4 303.8h.01M62.6 315.5h.01M91.0 292.8h.01M61.2 318.2h.01M76.1 335.6h.01M80.4 337.6h.01M81.1 332.9h.01M91.7 295.2h.01M69.0 334.3h.01M76.4 335.7h.01M88.3 296.4h.01M68.4 333.5h.01M70.4 307.4h.01M73.0 305.8h.01M82.2 324.6h.01M81.4 333.3h.01M83.8 301.3h.01M70.1 334.2h.01M60.2 322.6h.01M66.1 334.7h.01M90.4 293.7h.01M67.0 334.5h.01M82.0 310.1h.01M63.2 315.6h.01M66.5 313.1h.01M90.0 294.8h.01M79.6 314.7h.01M63.2 315.4h.01M60.2 326.3h.01M61.3 333.1h.01M84.3 321.3h.01M74.9 335.7h.01M88.2 296.8h.01M66.7 334.1h.01M82.0 328.9h.01M80.0 338.2h.01M91.4 294.0h.01M79.3 302.9h.01M69.0 309.8h.01M91.6 297.9h.01M79.1 303.2h.01M81.7 311.0h.01M84.6 320.6h.01M75.8 335.9h.01M83.2 321.3h.01M84.2 324.3h.01M80.2 336.1h.01M65.3 334.4h.01M84.0 300.1h.01M82.1 320.7h.01M85.2 298.1h.01M85.8 321.1h.01M81.4 325.1h.01M90.8 293.8h.01M72.3 333.8h.01M80.4 334.9h.01M82.8 309.3h.01M80.4 328.3h.01M80.2 335.4h.01M84.2 309.0h.01M83.3 321.4h.01M81.8 329.3h.01M79.8 327.7h.01M79.7 316.8h.01M71.9 306.5h.01M85.6 309.0h.01M82.2 310.6h.01M79.3 314.4h.01M79.8 338.3h.01M87.7 309.2h.01M74.4 304.4h.01M69.7 309.1h.01M91.3 306.6h.01M79.9 302.1h.01M76.9 336.3h.01M84.7 323.5h.01M61.0 330.5h.01M81.2 324.9h.01M69.6 309.2h.01M90.0 293.2h.01M91.8 299.9h.01M82.0 320.9h.01M91.5 297.5h.01M90.0 294.7h.01M71.3 306.6h.01M66.2 313.7h.01M60.4 330.3h.01M78.5 338.3h.01M74.3 334.3h.01M90.0 293.3h.01M62.9 334.2h.01M87.1 297.3h.01M83.9 321.2h.01M88.5 308.4h.01M65.2 334.0h.01M91.0 294.3h.01M89.4 295.5h.01M84.6 307.6h.01M82.5 310.8h.01M89.5 294.9h.01M66.9 313.2h.01M87.8 296.2h.01M74.3 334.9h.01M84.9 321.5h.01M81.9 330.9h.01M61.0 318.9h.01M60.6 322.2h.01M76.0 335.9h.01M80.1 327.5h.01M89.0 307.8h.01M89.9 295.2h.01M91.5 296.3h.01M61.1 318.0h.01M90.3 293.2h.01M84.7 321.7h.01M85.3 321.2h.01M87.3 309.6h.01M81.1 336.8h.01M81.3 311.4h.01M81.5 325.5h.01M80.6 326.4h.01M79.7 315.1h.01M89.3 306.7h.01M60.1 328.6h.01M90.0 294.2h.01M79.4 326.4h.01M90.1 295.1h.01M79.7 302.7h.01M86.3 307.9h.01M77.0 337.3h.01M79.9 314.0h.01M73.0 306.0h.01M84.4 299.5h.01M86.0 298.2h.01M85.4 321.5h.01M74.1 304.4h.01M77.3 303.7h.01M84.3 323.4h.01M90.4 294.8h.01M84.9 298.4h.01M68.9 334.2h.01M90.5 294.5h.01M91.1 306.8h.01M60.5 318.5h.01M76.3 335.5h.01M90.8 294.9h.01M76.0 303.2h.01M90.8 296.5h.01M85.0 307.5h.01M81.3 328.8h.01M82.8 309.4h.01M78.3 303.4h.01M80.6 333.3h.01M91.7 296.9h.01M59.9 328.3h.01M87.2 297.0h.01M85.5 322.5h.01M85.1 307.6h.01M80.2 337.2h.01M92.4 300.6h.01M92.3 303.6h.01M84.3 307.4h.01M85.3 322.8h.01M63.3 314.4h.01M92.0 301.7h.01M87.2 308.9h.01M59.9 325.0h.01M71.4 333.3h.01M61.9 316.7h.01M69.6 333.5h.01M61.9 317.6h.01M80.5 312.6h.01M85.2 308.4h.01M62.6 315.1h.01M81.7 329.0h.01M81.6 332.9h.01M82.0 332.5h.01M68.6 309.7h.01M87.7 308.8h.01M68.6 310.6h.01M83.9 324.5h.01M70.5 307.9h.01M79.3 326.5h.01M84.2 300.0h.01M80.3 316.8h.01M86.0 321.5h.01M74.9 336.0h.01M81.4 335.4h.01M92.3 298.0h.01M86.7 308.6h.01M82.1 329.0h.01M92.0 358.4h.01M90.6 343.5h.01M88.0 347.6h.01M91.0 346.8h.01M84.5 366.9h.01M87.0 357.5h.01M84.6 369.9h.01M84.5 368.3h.01M93.5 356.6h.01M86.1 360.9h.01M85.8 370.7h.01M89.9 362.4h.01M87.6 358.4h.01M85.4 370.9h.01M84.4 368.0h.01M89.3 341.6h.01M91.5 361.2h.01M94.4 347.6h.01M88.9 343.8h.01M89.5 342.1h.01M93.5 355.5h.01M88.3 345.3h.01M87.0 368.8h.01M93.9 350.9h.01M86.6 350.5h.01M84.4 369.5h.01M88.5 367.8h.01M90.0 363.5h.01M84.3 365.6h.01M93.0 347.5h.01M93.3 356.3h.01M93.7 352.0h.01M86.8 369.7h.01M93.3 350.7h.01M86.7 354.6h.01M83.8 369.1h.01M96.0 346.3h.01M92.6 350.9h.01M90.7 363.3h.01M87.5 348.2h.01M90.5 361.6h.01M90.7 346.7h.01M86.2 357.2h.01M87.7 357.4h.01M87.2 357.2h.01M90.0 363.9h.01M89.3 342.2h.01M85.0 370.3h.01M94.8 347.1h.01M84.6 369.8h.01M93.7 356.9h.01M87.0 357.6h.01M89.1 366.9h.01M89.5 365.5h.01M91.9 353.0h.01M91.8 347.8h.01M92.8 357.9h.01M92.4 358.7h.01M90.1 363.8h.01M88.5 340.3h.01M90.5 342.1h.01M85.5 362.5h.01M95.3 347.1h.01M89.1 342.2h.01M92.8 347.6h.01M90.9 359.0h.01M84.9 364.5h.01M84.3 366.2h.01M89.1 340.9h.01M88.1 346.0h.01M92.9 347.9h.01M92.2 353.6h.01M90.6 361.2h.01M85.2 371.1h.01M88.1 348.4h.01M93.7 355.5h.01M90.5 363.7h.01M89.0 339.9h.01M87.0 353.9h.01M87.9 349.4h.01M88.2 342.0h.01M88.5 347.3h.01M84.0 369.2h.01M86.6 358.6h.01M88.0 343.3h.01M89.3 339.9h.01M95.1 347.3h.01M91.9 347.8h.01M93.9 350.5h.01M86.9 370.0h.01M100.4 341.4h.01M98.6 339.3h.01M100.3 341.9h.01M100.6 339.5h.01M100.8 341.4h.01M98.5 339.8h.01M98.1 340.1h.01M98.8 341.0h.01M116.2 361.6h.01M116.6 375.3h.01M119.6 352.1h.01M126.9 373.9h.01M126.2 345.0h.01M122.8 333.6h.01M126.3 359.3h.01M125.4 334.0h.01M112.7 346.6h.01M113.0 345.2h.01M121.5 341.0h.01M126.1 358.7h.01M113.6 347.5h.01M125.9 339.7h.01M115.4 364.2h.01M122.1 330.8h.01M121.7 382.7h.01M112.7 347.7h.01M110.2 342.2h.01M117.0 359.7h.01M123.7 331.1h.01M111.6 344.5h.01M120.0 379.9h.01M120.3 350.8h.01M122.3 328.7h.01M124.2 329.6h.01M122.1 330.3h.01M112.5 345.0h.01M117.5 356.8h.01M117.9 357.4h.01M126.7 357.9h.01M123.6 329.7h.01M127.7 371.3h.01M116.4 350.2h.01M113.2 348.4h.01M114.0 347.7h.01M117.7 357.7h.01M122.8 328.9h.01M115.3 363.2h.01M127.9 365.4h.01M127.3 342.1h.01M117.9 356.2h.01M116.7 374.5h.01M114.7 368.3h.01M120.8 348.0h.01M110.4 343.0h.01M122.6 328.4h.01M123.6 383.3h.01M113.9 348.7h.01M112.5 345.0h.01M111.2 343.3h.01M127.5 359.6h.01M127.3 372.9h.01M125.6 355.5h.01M118.8 378.6h.01M122.9 329.9h.01M118.8 351.9h.01M126.3 351.3h.01M115.6 362.4h.01M125.5 348.7h.01M116.2 363.0h.01M121.0 348.4h.01M116.4 353.3h.01M127.0 339.6h.01M125.9 376.7h.01M114.9 365.8h.01M117.5 354.3h.01M125.6 379.5h.01M116.0 353.4h.01M125.1 356.0h.01M116.8 361.6h.01M116.2 352.1h.01M127.2 362.4h.01M125.2 354.8h.01M113.3 345.0h.01M113.2 346.6h.01M125.9 336.5h.01M120.8 347.5h.01M126.3 348.3h.01M119.8 380.7h.01M126.2 377.7h.01M124.4 331.7h.01M127.3 372.8h.01M123.9 383.0h.01M127.0 369.9h.01M111.5 344.2h.01M125.2 376.3h.01M119.9 352.3h.01M124.0 332.9h.01M122.5 383.7h.01M115.8 367.4h.01M120.5 349.3h.01M118.3 353.9h.01M126.3 375.2h.01M116.6 361.0h.01M113.2 344.9h.01M120.8 382.2h.01M112.8 348.2h.01M126.3 346.7h.01M117.1 351.9h.01M118.1 356.0h.01M126.0 339.0h.01M115.7 362.1h.01M125.6 353.6h.01M122.2 334.6h.01M113.0 347.9h.01M127.8 365.6h.01M115.6 367.9h.01M125.9 343.4h.01M120.8 348.2h.01M122.1 333.5h.01M127.0 362.4h.01M123.4 382.9h.01M114.3 347.5h.01M119.1 352.6h.01M123.8 384.0h.01M115.8 351.3h.01M124.8 381.2h.01M126.2 344.9h.01M122.9 331.1h.01M111.3 344.1h.01M117.0 350.1h.01M113.5 349.0h.01M117.0 354.4h.01M120.0 380.6h.01M123.2 329.4h.01M117.3 351.8h.01M124.3 332.9h.01M123.3 384.3h.01M127.2 365.7h.01M111.9 344.8h.01M125.8 377.5h.01M125.6 380.3h.01M121.4 381.4h.01M114.3 349.5h.01M115.8 369.8h.01M117.4 350.8h.01M122.0 334.5h.01M115.1 349.0h.01M115.8 365.3h.01M121.4 381.9h.01M113.1 345.6h.01M123.2 384.0h.01M127.7 360.9h.01M124.0 382.6h.01M125.2 337.7h.01M120.7 347.4h.01M122.2 339.4h.01M121.7 347.1h.01M117.3 376.1h.01M109.8 260.6h.01M110.4 260.0h.01M109.5 261.4h.01M110.2 261.3h.01M115.3 279.4h.01M115.8 279.5h.01M96.2 367.8h.01M94.9 369.4h.01M93.0 369.7h.01" stroke="#b4b4b4" stroke-width="1.25" stroke-linecap="round" fill="none"/>
<path d="M90.6 291.6h.01M80.0 300.2h.01M59.6 294.4h.01M70.1 295.4h.01M75.9 297.4h.01M62.3 292.0h.01M71.5 285.6h.01M69.1 305.6h.01M81.4 296.1h.01M77.6 287.2h.01M69.4 301.9h.01M73.9 291.6h.01M79.7 290.6h.01M62.6 296.4h.01M74.6 292.7h.01M75.2 295.1h.01M72.0 286.9h.01M83.4 294.0h.01M70.1 290.6h.01M89.6 294.4h.01M58.9 293.3h.01M63.3 289.6h.01M73.2 287.5h.01M69.1 294.7h.01M68.1 295.7h.01M91.3 293.3h.01M68.8 289.3h.01M79.7 292.0h.01M63.6 296.1h.01M74.9 293.8h.01M69.7 294.2h.01M63.6 291.0h.01M88.5 290.6h.01M86.2 288.2h.01M64.3 293.7h.01M70.5 293.7h.01M63.3 286.0h.01M65.4 290.6h.01M77.0 288.9h.01M89.2 291.6h.01M65.0 286.9h.01M71.2 283.8h.01M72.2 295.1h.01M62.3 285.4h.01M79.7 297.1h.01M75.9 288.4h.01M85.1 288.2h.01M61.9 298.5h.01M82.7 295.1h.01M79.3 288.9h.01M79.3 297.8h.01M74.6 289.9h.01M65.4 296.1h.01M64.3 286.5h.01M62.6 297.8h.01M83.1 290.6h.01M87.2 288.2h.01M73.9 294.4h.01M72.0 284.8h.01M74.6 288.1h.01M60.2 294.0h.01M72.9 292.7h.01M72.4 286.0h.01M62.8 290.3h.01M78.0 297.8h.01M74.0 290.8h.01M71.5 290.6h.01M72.9 290.3h.01M58.2 293.8h.01M82.1 293.3h.01M76.6 298.5h.01M77.6 295.9h.01M71.2 297.8h.01" stroke="#b0b0b0" stroke-width="1.35" stroke-linecap="round" fill="none"/>
<path d="M80.0 300.2h.01M59.6 294.4h.01M70.1 295.4h.01M75.9 297.4h.01M62.3 292.0h.01M71.5 285.6h.01M69.1 305.6h.01M77.6 287.2h.01M69.4 301.9h.01M73.9 291.6h.01M79.7 290.6h.01M62.6 296.4h.01M74.6 292.7h.01M75.2 295.1h.01M72.0 286.9h.01M70.1 290.6h.01M58.9 293.3h.01M63.3 289.6h.01M73.2 287.5h.01M69.1 294.7h.01M68.1 295.7h.01M91.3 293.3h.01M68.8 289.3h.01M79.7 292.0h.01M63.6 296.1h.01M74.9 293.8h.01M69.7 294.2h.01M63.6 291.0h.01M88.5 290.6h.01M64.3 293.7h.01M70.5 293.7h.01M63.3 286.0h.01M65.4 290.6h.01M77.0 288.9h.01M65.0 286.9h.01M71.2 283.8h.01M72.2 295.1h.01M62.3 285.4h.01M79.7 297.1h.01M75.9 288.4h.01M85.1 288.2h.01M61.9 298.5h.01M79.3 288.9h.01M79.3 297.8h.01M74.6 289.9h.01M65.4 296.1h.01M64.3 286.5h.01M62.6 297.8h.01M87.2 288.2h.01M73.9 294.4h.01M72.0 284.8h.01M74.6 288.1h.01M60.2 294.0h.01M72.9 292.7h.01M72.4 286.0h.01M62.8 290.3h.01M78.0 297.8h.01M74.0 290.8h.01M71.5 290.6h.01M72.9 290.3h.01M58.2 293.8h.01M82.1 293.3h.01M76.6 298.5h.01M77.6 295.9h.01M71.2 297.8h.01" stroke="#e8361d" stroke-width="1.5" stroke-linecap="round" fill="none"/>
<path d="M76.7 318.9h.01M75.2 318.0h.01M68.4 328.8h.01M88.5 298.6h.01M90.8 306.0h.01M61.8 332.8h.01M72.6 310.5h.01M72.3 320.8h.01M71.8 310.9h.01M70.6 309.9h.01M76.6 324.9h.01M67.6 323.0h.01M81.3 320.7h.01M65.6 320.6h.01M72.1 325.5h.01M70.2 322.5h.01M69.8 317.5h.01M77.7 312.3h.01M70.0 322.9h.01M70.3 324.3h.01M68.2 327.0h.01M76.6 314.3h.01M64.2 321.4h.01M86.0 306.1h.01M61.4 328.3h.01M88.6 303.9h.01M64.0 333.8h.01M61.5 327.8h.01M62.0 329.8h.01M70.8 311.3h.01M68.7 322.5h.01M78.1 328.1h.01M71.4 319.7h.01M63.8 330.7h.01M75.8 307.7h.01M84.5 304.2h.01M69.4 315.4h.01M70.6 308.7h.01M73.3 306.2h.01M77.9 310.7h.01M74.6 307.4h.01M69.7 321.6h.01M75.3 316.3h.01M67.9 314.6h.01M76.9 308.4h.01M74.9 314.3h.01M78.3 312.7h.01M66.1 323.8h.01M63.6 332.3h.01M76.7 323.3h.01M84.3 306.5h.01M80.2 305.9h.01M64.4 321.8h.01M72.2 309.8h.01M91.2 298.9h.01M66.5 314.7h.01M77.2 319.3h.01M74.8 327.1h.01M65.6 322.4h.01M74.7 309.1h.01M90.0 295.5h.01M65.8 330.8h.01M64.4 327.3h.01M76.5 323.7h.01M74.0 306.0h.01M70.5 326.6h.01M70.3 328.3h.01M79.5 319.6h.01M70.8 315.1h.01M76.7 310.6h.01M65.6 324.7h.01M74.0 305.4h.01M76.3 309.2h.01M77.1 309.1h.01M78.0 327.7h.01M76.4 313.2h.01M75.9 316.4h.01M69.4 318.3h.01M70.4 323.6h.01M82.7 303.0h.01M89.8 298.6h.01M77.5 303.7h.01M63.9 328.7h.01M64.3 314.9h.01M71.9 319.6h.01M66.6 320.0h.01M66.1 315.5h.01M72.2 332.8h.01M74.6 310.6h.01M71.7 311.0h.01M67.7 314.8h.01M65.2 331.3h.01M68.4 328.6h.01M64.2 328.4h.01M61.7 318.8h.01M69.3 329.5h.01M64.0 315.8h.01M73.8 325.4h.01M79.8 309.2h.01M66.4 316.5h.01M70.9 318.5h.01M60.3 329.9h.01M67.2 326.8h.01M64.3 316.5h.01M77.5 309.1h.01M85.5 304.1h.01M72.3 310.7h.01M86.1 303.7h.01M77.1 312.7h.01M88.2 296.8h.01M62.6 318.0h.01M68.9 326.2h.01M71.9 307.2h.01M69.1 309.5h.01M65.3 321.5h.01M74.9 306.7h.01M67.5 333.7h.01M73.0 308.3h.01M75.0 305.9h.01M75.2 322.6h.01M70.9 308.4h.01M66.9 320.8h.01M71.4 311.5h.01M75.0 316.7h.01M77.3 320.8h.01M64.3 315.0h.01M70.3 311.9h.01M78.4 305.5h.01M76.4 308.4h.01M63.2 326.3h.01M67.6 314.7h.01M78.3 321.9h.01M70.0 316.5h.01M81.4 310.0h.01M74.0 313.9h.01M73.7 307.2h.01M74.3 314.4h.01M66.5 330.1h.01M73.4 323.3h.01M91.4 296.3h.01M87.5 302.8h.01M70.6 325.2h.01M64.7 324.8h.01M88.3 302.9h.01M84.5 306.7h.01M65.1 322.0h.01M65.6 321.6h.01M76.4 322.3h.01M70.9 307.8h.01M61.9 321.4h.01M69.6 320.5h.01M62.8 325.6h.01M70.1 323.5h.01M66.3 321.5h.01M68.5 319.7h.01M70.0 313.3h.01M64.9 329.8h.01M69.5 324.0h.01M63.2 320.9h.01M74.3 324.2h.01M74.4 330.4h.01M64.5 316.4h.01M85.8 301.6h.01M62.2 323.5h.01M83.3 307.2h.01M75.0 313.4h.01M70.0 321.5h.01M91.2 356.0h.01M89.7 359.3h.01M90.9 346.5h.01M88.9 353.3h.01M121.4 353.2h.01M116.0 350.2h.01M119.1 378.1h.01M119.9 377.8h.01M124.3 365.3h.01M127.4 367.0h.01M126.2 362.7h.01" stroke="#e38a73" stroke-width="1.05" stroke-linecap="round" fill="none"/>
<path d="M67.0 328.5h.01M67.7 324.3h.01M69.4 319.9h.01M64.6 330.9h.01M71.3 318.7h.01M72.7 308.0h.01M82.0 304.2h.01M79.0 304.4h.01M60.7 324.5h.01M66.5 328.4h.01M68.7 324.8h.01M74.3 321.4h.01M61.6 327.9h.01M88.9 302.6h.01M64.4 328.8h.01M70.8 325.7h.01M75.3 308.7h.01M78.5 312.5h.01M76.6 311.7h.01M75.0 306.0h.01M77.6 313.5h.01M83.7 306.3h.01M78.1 312.0h.01M70.1 330.8h.01M75.6 305.5h.01M86.8 305.1h.01M63.1 317.6h.01M72.7 311.3h.01M63.7 332.4h.01M79.2 309.9h.01M72.5 309.5h.01M60.8 321.3h.01M72.0 322.9h.01M61.9 318.2h.01M70.6 330.6h.01M76.7 308.6h.01M64.9 321.2h.01M62.2 320.1h.01M79.2 311.9h.01M63.1 329.8h.01M76.7 320.8h.01M64.8 331.7h.01M63.4 328.7h.01M69.4 315.1h.01M72.8 306.9h.01M63.7 322.3h.01M78.0 314.5h.01M72.4 328.0h.01M70.2 319.0h.01M71.2 311.7h.01M62.8 317.8h.01M70.3 323.7h.01M78.9 305.0h.01M83.0 309.3h.01M68.9 330.7h.01M76.3 320.6h.01M63.6 331.9h.01M71.1 312.4h.01M68.8 322.9h.01M77.9 325.2h.01M68.2 313.8h.01M78.9 323.7h.01M65.8 320.4h.01M67.9 314.7h.01M64.9 321.7h.01M63.0 319.5h.01M67.7 317.5h.01M88.5 297.4h.01M68.3 316.3h.01M73.5 320.1h.01M71.2 309.9h.01M72.7 324.4h.01M61.1 325.2h.01M72.0 321.6h.01M92.6 301.5h.01M85.3 305.8h.01M68.6 329.4h.01M67.0 316.1h.01M63.3 330.4h.01M67.6 327.5h.01M64.2 315.3h.01M91.1 297.4h.01M73.2 305.9h.01M71.2 321.5h.01M65.0 315.7h.01M67.8 325.2h.01M75.4 319.0h.01M79.0 317.5h.01M68.8 326.2h.01M66.3 320.1h.01M72.7 314.0h.01M82.8 306.7h.01M66.1 318.4h.01M69.5 327.2h.01M91.1 295.1h.01M76.5 317.4h.01M83.9 304.5h.01M75.3 310.8h.01M65.9 314.6h.01M71.5 315.1h.01M81.4 310.7h.01M74.3 312.4h.01M65.3 317.0h.01M68.1 324.6h.01M83.9 303.3h.01M76.2 326.5h.01M69.0 332.0h.01M72.3 314.1h.01M68.5 312.2h.01M78.3 322.8h.01M77.9 318.2h.01M79.8 303.6h.01M65.6 315.7h.01M67.4 312.1h.01M78.0 304.0h.01M63.6 325.6h.01M77.6 305.0h.01M63.9 327.9h.01M64.6 325.4h.01M65.7 317.2h.01M64.8 316.4h.01M75.8 312.9h.01M72.6 318.4h.01M77.8 324.2h.01M69.7 311.1h.01M68.9 311.0h.01M67.4 324.2h.01M76.6 317.5h.01M71.2 310.5h.01M79.4 322.7h.01M70.7 312.6h.01M70.4 316.9h.01M82.6 301.1h.01M75.2 322.8h.01M72.9 315.6h.01M75.6 307.4h.01M74.8 306.5h.01M81.2 309.5h.01M60.7 322.2h.01M65.9 332.7h.01M76.2 316.5h.01M73.0 308.6h.01M63.1 323.8h.01M65.7 331.5h.01M66.1 325.6h.01M85.3 303.8h.01M76.5 315.0h.01M61.3 326.6h.01M75.3 325.8h.01M67.8 325.1h.01M67.5 329.0h.01M74.7 311.2h.01M71.8 321.2h.01M74.3 314.7h.01M76.2 304.5h.01M68.1 320.7h.01M66.1 332.0h.01M77.3 304.5h.01M64.1 327.6h.01M65.2 329.4h.01M69.9 326.5h.01M70.9 315.4h.01M68.9 321.5h.01M64.4 321.0h.01M62.4 316.9h.01M87.9 306.3h.01M71.4 308.7h.01M64.8 320.2h.01M74.7 306.7h.01M61.3 326.1h.01M66.6 316.8h.01M76.1 312.8h.01M62.9 326.6h.01M70.5 316.7h.01M77.9 313.0h.01M77.4 323.2h.01M75.5 306.9h.01M61.3 327.0h.01M86.8 307.8h.01M67.9 312.6h.01M64.1 322.2h.01M77.5 329.8h.01M70.0 316.9h.01M70.7 312.0h.01M66.7 322.2h.01M67.5 320.0h.01M67.8 318.6h.01M63.6 324.3h.01M82.2 302.0h.01M63.4 326.3h.01M76.9 305.8h.01M68.9 321.9h.01M77.8 312.9h.01M61.8 322.3h.01M75.9 308.4h.01M73.3 324.8h.01M61.1 322.6h.01M82.3 306.4h.01M65.4 315.6h.01M73.1 306.0h.01M67.7 321.0h.01M75.0 315.5h.01M65.3 331.1h.01M66.5 322.3h.01M71.7 322.7h.01M69.5 311.0h.01M70.3 311.4h.01M89.2 302.7h.01M73.6 315.8h.01M73.7 305.7h.01M76.9 304.5h.01M67.1 324.5h.01M83.6 300.7h.01M85.2 304.5h.01M79.5 303.7h.01M62.2 333.4h.01M67.5 317.4h.01M62.1 327.4h.01M87.1 305.2h.01M65.6 330.5h.01M89.3 297.3h.01M84.2 308.2h.01M71.7 316.8h.01M77.9 303.6h.01M65.5 316.7h.01M73.5 307.9h.01M74.5 319.3h.01M78.0 308.9h.01M89.0 296.2h.01M77.1 317.1h.01M78.5 308.3h.01M77.7 322.7h.01M67.7 329.4h.01M76.3 313.6h.01M72.9 309.2h.01M71.1 323.4h.01M74.7 325.2h.01M63.7 326.5h.01M65.1 325.1h.01M75.6 309.0h.01M72.4 312.4h.01M65.4 321.8h.01M75.3 315.6h.01M76.5 307.0h.01M77.6 308.9h.01M75.6 327.3h.01M60.7 326.7h.01M72.2 314.9h.01M71.9 309.7h.01M88.4 296.9h.01M72.2 322.7h.01M80.5 319.8h.01M60.6 323.1h.01M71.5 332.8h.01M70.5 311.8h.01M72.5 314.0h.01M63.4 331.1h.01M69.4 314.9h.01M77.4 321.7h.01M73.8 323.4h.01M80.7 305.9h.01M65.5 317.0h.01M77.0 305.1h.01M87.7 298.1h.01M60.8 328.3h.01M71.7 322.7h.01M66.0 326.5h.01M76.0 329.6h.01M77.4 306.0h.01M63.0 325.3h.01M66.5 328.6h.01M73.2 314.0h.01M83.8 301.4h.01M62.0 328.0h.01M63.3 315.5h.01M77.2 303.9h.01M71.3 310.6h.01M70.2 313.2h.01M81.5 306.1h.01M63.1 322.4h.01M81.0 310.5h.01M73.4 310.2h.01M66.2 317.6h.01M65.7 318.2h.01M74.3 319.1h.01M83.8 307.4h.01M86.4 306.1h.01M78.3 313.4h.01M64.8 319.9h.01M66.4 324.1h.01M75.2 307.7h.01M69.0 317.4h.01M66.3 330.4h.01M83.9 303.7h.01M74.6 318.8h.01M70.3 311.7h.01M61.8 321.7h.01M83.5 305.6h.01M77.0 315.5h.01M76.1 314.0h.01M87.1 304.0h.01M78.0 322.1h.01M65.2 314.7h.01M79.2 323.8h.01M64.6 323.3h.01M60.4 330.2h.01M62.7 327.8h.01M74.0 315.7h.01M72.7 325.5h.01M63.3 319.5h.01M76.9 317.3h.01M62.3 318.1h.01M72.0 329.3h.01M88.5 356.0h.01M90.5 348.1h.01M89.6 362.3h.01M119.5 354.2h.01M121.5 348.3h.01M124.3 354.8h.01M123.0 347.0h.01M123.6 354.2h.01M123.5 365.9h.01M127.4 364.4h.01M120.0 357.7h.01M123.8 355.2h.01M123.4 378.4h.01M120.9 361.1h.01" stroke="#e8361d" stroke-width="1.35" stroke-linecap="round" fill="none"/>
<path d="M89.6 302.0h.01M75.0 334.2h.01M70.7 323.6h.01M67.4 327.2h.01M87.5 304.8h.01M76.2 333.1h.01M77.7 330.4h.01M70.5 321.3h.01M73.3 322.8h.01M78.7 321.1h.01M80.0 312.1h.01M82.0 323.1h.01M76.5 332.4h.01M77.9 307.1h.01M68.6 318.2h.01M73.4 325.8h.01M80.7 302.0h.01M76.3 321.1h.01M82.7 307.0h.01M77.8 320.0h.01M77.0 307.4h.01M86.9 300.7h.01M81.9 329.8h.01M85.8 304.5h.01M70.1 318.6h.01M80.9 309.1h.01M71.1 333.1h.01M75.1 332.3h.01M68.9 328.2h.01M75.4 307.2h.01M66.0 327.4h.01M77.4 320.2h.01M73.0 326.4h.01M89.5 297.0h.01M83.6 302.5h.01M89.8 299.5h.01M68.5 317.4h.01M78.0 329.5h.01M78.3 325.2h.01M90.6 305.1h.01M71.7 312.9h.01M71.0 325.3h.01M88.0 301.2h.01M78.1 304.8h.01M87.9 302.6h.01M78.6 332.6h.01M91.3 302.3h.01M70.6 315.9h.01M74.5 313.3h.01M82.7 301.6h.01M75.0 315.0h.01M78.9 322.3h.01M79.0 306.2h.01M78.7 325.1h.01M80.4 311.2h.01M77.4 316.6h.01M82.3 306.4h.01M81.4 310.5h.01M68.3 318.7h.01M62.2 317.3h.01" stroke="#b4b4b4" stroke-width="1.05" stroke-linecap="round" fill="none"/>
<path d="M79.9 321.6h.01" stroke="#fff" stroke-width="2.0" stroke-linecap="round"/>
<path d="M81.6 325.3h.01" stroke="#fff" stroke-width="2.2" stroke-linecap="round"/>
<path d="M80.3 318.2h.01" stroke="#fff" stroke-width="1.1" stroke-linecap="round"/>
<path d="M77.5 331.4h.01" stroke="#fff" stroke-width="1.2" stroke-linecap="round"/>
<path d="M80.5 329.4h.01" stroke="#fff" stroke-width="1.5" stroke-linecap="round"/>
<path d="M81.1 334.0h.01" stroke="#fff" stroke-width="1.2" stroke-linecap="round"/>
<path d="M75.6 326.4h.01" stroke="#fff" stroke-width="0.9" stroke-linecap="round"/>
<path d="M82.9 327.4h.01" stroke="#fff" stroke-width="1.3" stroke-linecap="round"/>
<path d="M78.9 323.8h.01" stroke="#fff" stroke-width="1.2" stroke-linecap="round"/>
<rect x="54.3" y="240.4" width="77.3" height="150.3" fill="none" stroke="#444" stroke-width=".75"/>
<path d="M203.3 85.2C204.4 85.2 205.8 85.4 207.2 86.1C208.6 86.8 210.0 87.9 211.2 89.2C212.4 90.5 213.1 91.6 213.8 93.2C214.5 94.7 214.8 96.0 214.9 97.7C214.9 99.4 214.5 100.8 214.1 102.4C213.6 104.0 212.9 104.9 212.4 106.4C211.8 108.0 211.3 109.1 211.1 110.6C210.8 112.2 211.0 113.3 211.3 114.9C211.5 116.4 212.0 117.4 212.4 119.0C212.8 120.6 213.3 122.0 213.5 123.8C213.7 125.5 213.6 126.7 213.5 128.3C213.3 130.0 212.7 132.2 212.4 133.0C212.1 133.8 212.3 133.5 211.9 132.6C211.4 131.8 210.4 129.9 209.8 128.2C209.2 126.6 209.0 125.3 208.5 123.6C208.1 121.9 208.0 120.6 207.5 118.8C207.1 117.0 206.8 115.5 206.1 113.9C205.5 112.4 204.8 110.4 204.1 110.3C203.4 110.1 202.8 111.8 202.2 113.2C201.6 114.7 201.3 116.3 200.8 118.1C200.3 119.8 200.0 121.3 199.5 122.9C199.0 124.5 198.4 126.2 198.1 126.8C197.9 127.5 197.8 127.5 198.0 126.4C198.1 125.3 198.6 122.8 198.9 121.0C199.3 119.1 199.6 118.0 199.9 116.3C200.3 114.5 200.5 113.1 200.7 111.5C201.0 109.8 201.3 108.8 201.2 107.3C201.2 105.8 201.0 104.6 200.7 103.1C200.5 101.6 200.2 100.6 199.9 99.0C199.7 97.4 199.4 96.0 199.4 94.3C199.3 92.6 199.6 91.1 199.9 89.6C200.3 88.2 200.5 87.2 201.1 86.4C201.8 85.6 202.2 85.3 203.3 85.2ZM149.5 125.5C149.6 124.1 149.9 122.4 150.4 121.1C151.0 119.8 151.6 119.2 152.6 118.6C153.5 117.9 154.3 117.6 155.5 117.5C156.8 117.5 158.1 118.0 159.4 118.1C160.8 118.3 161.7 118.2 163.1 118.4C164.5 118.7 165.8 119.1 167.2 119.5C168.5 120.0 169.6 120.3 170.7 120.9C171.8 121.5 172.4 122.1 173.4 122.7C174.3 123.3 174.9 123.9 175.8 124.0C176.8 124.2 177.6 123.4 178.6 123.4C179.5 123.5 180.4 123.9 181.1 124.5C181.9 125.0 182.5 125.6 182.8 126.5C183.0 127.4 182.9 128.5 182.6 129.4C182.3 130.3 181.9 130.9 181.1 131.4C180.4 132.0 179.4 132.0 178.5 132.3C177.5 132.5 176.8 132.9 176.0 132.8C175.2 132.6 174.9 131.4 174.2 131.4C173.5 131.3 173.0 132.0 172.2 132.3C171.3 132.5 170.3 132.5 169.4 132.8C168.5 133.0 168.0 133.3 167.1 133.7C166.2 134.1 165.4 134.8 164.4 135.1C163.4 135.3 162.3 135.3 161.5 135.1C160.8 134.8 160.9 134.1 160.2 133.7C159.5 133.3 158.5 133.0 157.6 133.2C156.7 133.3 155.7 134.1 155.2 134.7C154.7 135.2 155.0 136.1 154.7 136.0C154.4 135.8 154.1 134.6 153.6 133.8C153.0 133.1 152.4 132.9 151.8 132.0C151.1 131.1 150.3 130.1 149.9 129.0C149.5 127.8 149.5 127.0 149.5 125.5ZM172.9 151.5C173.1 151.1 174.0 150.9 174.7 151.1C175.5 151.3 176.6 151.6 176.9 152.4C177.3 153.3 176.7 154.5 176.6 155.8C176.5 157.0 176.3 158.3 176.2 159.3C176.1 160.2 176.1 160.7 175.9 160.9C175.8 161.0 175.7 160.9 175.4 160.2C175.1 159.4 174.8 157.9 174.4 156.7C174.0 155.5 173.7 154.7 173.4 153.7C173.1 152.8 172.6 152.0 172.9 151.5ZM167.5 161.0C167.7 160.0 168.6 160.4 169.4 160.9C170.1 161.3 170.8 162.4 171.5 163.5C172.3 164.6 173.0 165.5 173.3 166.9C173.6 168.2 173.4 169.5 173.4 170.8C173.4 172.1 173.4 173.4 173.1 173.9C172.7 174.4 172.1 174.3 171.5 173.6C171.0 172.9 170.6 171.5 170.1 170.2C169.5 168.8 168.9 168.0 168.4 166.3C167.9 164.6 167.3 162.0 167.5 161.0ZM190.1 170.8C190.4 170.1 191.4 169.9 191.8 170.3C192.2 170.7 192.4 172.0 192.3 172.8C192.2 173.6 191.9 174.4 191.5 174.6C191.1 174.8 190.4 174.7 190.1 174.0C189.8 173.3 189.8 171.5 190.1 170.8ZM175.4 207.5C175.7 206.8 176.1 205.6 176.8 204.8C177.6 204.0 178.9 203.9 179.6 203.0C180.2 202.0 180.0 200.5 180.5 199.8C180.9 199.1 181.5 198.7 182.1 199.1C182.6 199.5 182.6 201.3 183.4 202.1C184.1 202.9 185.2 203.6 186.0 203.5C186.7 203.5 186.9 201.9 187.5 201.7C188.0 201.6 188.5 202.0 188.8 202.9C189.1 203.7 189.3 205.0 189.3 206.4C189.2 207.8 188.9 209.8 188.4 210.7C187.9 211.6 187.3 211.6 186.6 211.4C186.0 211.1 185.8 209.7 184.8 209.2C183.8 208.7 182.3 208.7 181.0 208.7C179.7 208.6 178.5 209.2 177.4 209.2C176.4 209.1 175.7 208.5 175.3 208.2C174.9 207.9 175.1 208.1 175.4 207.5Z" fill="#b4b4b4"/>
<path d="M208.5 121.4h.01M199.8 91.4h.01M199.6 94.3h.01M199.3 91.6h.01M213.1 120.8h.01M199.6 117.4h.01M212.7 90.6h.01M200.0 91.3h.01M201.2 105.3h.01M212.4 118.6h.01M211.0 130.9h.01M201.8 114.8h.01M201.5 108.7h.01M211.2 88.7h.01M213.2 127.4h.01M211.6 110.1h.01M206.2 113.2h.01M199.5 93.5h.01M212.0 119.3h.01M211.0 110.8h.01M199.0 124.9h.01M207.5 118.9h.01M214.0 92.9h.01M208.1 118.2h.01M200.8 120.4h.01M198.9 118.8h.01M212.0 108.9h.01M200.7 103.8h.01M200.3 103.2h.01M206.7 85.9h.01M199.5 118.0h.01M198.7 124.4h.01M204.8 111.2h.01M211.0 89.5h.01M200.8 119.5h.01M206.6 117.8h.01M211.0 88.9h.01M201.7 85.9h.01M212.6 131.4h.01M199.4 122.4h.01M213.4 123.9h.01M200.6 101.9h.01M212.5 132.5h.01M205.5 112.5h.01M197.6 126.8h.01M205.0 112.0h.01M200.5 111.4h.01M200.7 89.1h.01M201.6 104.9h.01M213.4 91.7h.01M203.6 111.4h.01M203.9 110.7h.01M203.8 84.8h.01M213.8 93.0h.01M202.3 114.5h.01M214.5 97.2h.01M205.5 113.9h.01M214.3 95.2h.01M211.3 110.5h.01M212.7 118.3h.01M199.9 116.3h.01M200.9 107.7h.01M214.7 96.7h.01M200.0 89.6h.01M202.3 85.9h.01M199.3 117.8h.01M211.7 132.7h.01M206.0 86.0h.01M212.9 128.7h.01M200.3 118.2h.01M213.6 94.9h.01M201.2 107.5h.01M210.7 130.1h.01M201.2 106.4h.01M200.8 119.5h.01M207.0 117.4h.01M199.6 117.4h.01M211.2 109.4h.01M207.9 119.9h.01M211.0 109.7h.01M198.9 126.7h.01M200.3 90.2h.01M214.1 102.1h.01M208.4 122.2h.01M214.5 95.5h.01M214.8 99.1h.01M199.4 114.5h.01M201.0 107.6h.01M201.6 107.9h.01M198.8 94.0h.01M213.4 123.3h.01M200.4 100.6h.01M211.4 132.9h.01M203.1 111.9h.01M204.2 110.9h.01M198.9 119.9h.01M200.5 91.6h.01M199.9 91.5h.01M209.0 86.9h.01M200.7 112.4h.01M208.3 123.6h.01M214.3 102.0h.01M212.3 133.1h.01M213.5 93.5h.01M201.1 119.3h.01M211.2 110.8h.01M198.0 126.3h.01M208.1 87.3h.01M210.5 129.4h.01M212.1 117.3h.01M201.8 106.3h.01M211.5 108.1h.01M198.5 122.8h.01M207.7 118.2h.01M211.1 113.5h.01M202.6 112.2h.01M213.0 119.5h.01M210.3 110.8h.01M200.8 108.8h.01M201.0 116.9h.01M212.1 131.7h.01M198.1 126.9h.01M211.0 115.0h.01M201.7 86.3h.01M214.7 99.2h.01M204.7 111.3h.01M211.2 111.8h.01M200.6 111.8h.01M213.4 122.6h.01M213.5 126.6h.01M204.3 109.6h.01M199.5 119.3h.01M201.0 86.2h.01M199.6 94.7h.01M211.1 109.3h.01M199.9 97.8h.01M203.3 85.3h.01M202.4 113.0h.01M213.4 105.0h.01M209.1 125.9h.01M199.4 123.7h.01M211.7 114.6h.01M213.0 91.7h.01M210.2 128.2h.01M209.3 126.1h.01M214.1 101.3h.01M199.4 90.9h.01M199.7 88.8h.01M200.2 114.2h.01M206.7 117.3h.01M200.4 115.2h.01M197.8 125.7h.01M211.4 132.3h.01M207.4 86.3h.01M213.8 128.7h.01M200.7 111.1h.01M213.2 90.9h.01M209.3 127.3h.01M198.5 125.5h.01M214.4 97.9h.01M179.5 132.0h.01M173.8 131.1h.01M182.0 125.3h.01M154.4 118.0h.01M152.2 118.5h.01M169.7 120.3h.01M156.7 133.1h.01M164.1 135.6h.01M182.6 127.5h.01M157.1 117.7h.01M155.7 135.1h.01M159.5 133.4h.01M164.4 119.0h.01M155.5 134.8h.01M174.2 131.4h.01M182.8 129.3h.01M156.9 133.3h.01M162.3 135.5h.01M155.4 135.0h.01M180.3 131.4h.01M181.4 125.1h.01M149.7 128.5h.01M155.1 118.3h.01M163.6 119.3h.01M156.7 117.6h.01M172.3 131.8h.01M180.3 124.2h.01M166.3 119.3h.01M169.6 132.7h.01M151.6 131.5h.01M153.3 133.8h.01M155.9 133.8h.01M163.7 135.5h.01M168.2 133.3h.01M149.9 123.3h.01M181.5 124.0h.01M161.8 135.3h.01M168.2 134.0h.01M151.0 120.3h.01M168.3 119.7h.01M170.8 120.7h.01M149.9 126.2h.01M170.8 120.6h.01M154.7 134.7h.01M151.3 120.2h.01M155.9 117.9h.01M152.4 119.6h.01M175.0 123.5h.01M169.8 120.7h.01M178.1 123.6h.01M176.3 131.7h.01M154.6 136.0h.01M177.0 123.7h.01M171.8 121.3h.01M179.7 132.3h.01M159.6 133.5h.01M161.8 118.4h.01M151.1 121.0h.01M183.0 125.5h.01M151.5 120.2h.01M151.6 131.1h.01M157.3 118.4h.01M177.4 132.6h.01M182.7 129.4h.01M155.7 134.6h.01M155.0 134.8h.01M179.9 124.2h.01M150.6 123.6h.01M179.5 131.1h.01M153.2 133.8h.01M166.9 134.5h.01M153.8 135.0h.01M180.4 132.0h.01M175.5 133.0h.01M181.9 130.8h.01M170.9 132.7h.01M174.4 131.9h.01M155.9 134.9h.01M180.6 124.6h.01M154.2 135.4h.01M166.1 119.0h.01M151.9 120.1h.01M180.0 124.0h.01M182.4 129.9h.01M173.2 122.0h.01M158.7 117.5h.01M154.7 133.7h.01M161.4 135.4h.01M173.9 123.0h.01M176.6 133.4h.01M165.5 119.3h.01M150.3 125.1h.01M164.3 118.6h.01M160.1 118.0h.01M182.4 128.8h.01M149.9 124.4h.01M161.3 118.1h.01M151.1 127.8h.01M177.3 133.1h.01M178.5 132.0h.01M159.3 132.8h.01M170.7 132.4h.01M161.5 118.1h.01M168.7 132.4h.01M178.6 123.3h.01M175.8 124.2h.01M151.4 119.9h.01M150.0 125.1h.01M169.6 132.5h.01M153.6 117.9h.01M170.3 133.0h.01M181.7 125.5h.01M155.9 134.3h.01M154.6 135.2h.01M163.0 118.6h.01M180.4 124.6h.01M174.0 123.4h.01M152.9 133.2h.01M168.8 133.1h.01M168.3 133.8h.01M183.1 127.3h.01M151.9 119.4h.01M152.8 133.1h.01M181.7 125.7h.01M165.6 134.9h.01M178.8 124.1h.01M162.8 118.8h.01M166.4 119.4h.01M172.9 132.2h.01M154.2 136.1h.01M157.8 117.7h.01M162.7 118.7h.01M154.8 135.3h.01M155.7 135.2h.01M165.2 119.2h.01M165.6 133.9h.01M181.8 129.5h.01M151.0 132.0h.01M179.2 123.5h.01M182.1 131.0h.01M165.3 133.9h.01M169.6 120.4h.01M176.4 132.5h.01M170.2 133.3h.01M153.4 134.1h.01M179.1 131.9h.01M176.3 123.6h.01M181.7 126.3h.01M149.6 126.5h.01M180.7 131.6h.01M169.1 120.0h.01M159.8 118.7h.01M182.3 129.5h.01M179.3 124.4h.01M153.9 134.8h.01M171.2 121.5h.01M160.2 133.5h.01M176.8 123.7h.01M161.4 134.4h.01M171.2 120.8h.01M173.5 132.0h.01M181.4 123.8h.01M178.6 132.7h.01M181.7 131.5h.01M178.1 132.4h.01M162.9 118.9h.01M162.0 118.6h.01M152.9 133.1h.01M149.3 127.4h.01M153.5 134.2h.01M172.6 152.1h.01M176.8 160.1h.01M175.5 161.0h.01M175.5 160.7h.01M175.7 160.2h.01M175.9 152.2h.01M174.0 156.4h.01M174.4 158.7h.01M174.0 155.1h.01M174.1 151.0h.01M173.0 152.7h.01M176.0 160.6h.01M175.8 159.1h.01M176.0 159.6h.01M172.7 151.4h.01M175.9 159.7h.01M176.7 152.4h.01M174.6 156.2h.01M176.7 152.7h.01M173.7 153.2h.01M174.7 158.1h.01M174.6 159.1h.01M175.6 159.7h.01M173.3 151.0h.01M176.2 158.4h.01M167.8 160.5h.01M173.3 174.7h.01M170.4 161.9h.01M168.3 164.0h.01M172.8 170.7h.01M171.5 163.3h.01M166.9 164.6h.01M169.6 169.1h.01M173.1 172.9h.01M171.8 174.6h.01M169.5 161.0h.01M167.8 163.6h.01M173.4 168.6h.01M173.2 167.9h.01M172.0 174.0h.01M173.4 168.0h.01M172.3 174.0h.01M170.5 170.9h.01M170.7 171.2h.01M169.9 168.8h.01M173.4 166.0h.01M171.6 164.2h.01M170.2 162.2h.01M172.0 173.6h.01M169.4 160.3h.01M167.9 161.6h.01M169.5 169.2h.01M170.1 161.8h.01M173.5 168.1h.01M168.8 166.4h.01M173.3 172.4h.01M170.0 161.8h.01M171.9 174.0h.01M167.6 161.0h.01M168.9 167.5h.01M192.1 174.0h.01M191.7 171.8h.01M189.8 174.1h.01M192.4 173.4h.01M191.5 173.8h.01M191.5 174.5h.01M190.9 174.1h.01M192.3 170.2h.01M176.3 205.6h.01M182.7 209.2h.01M178.7 209.0h.01M186.0 204.2h.01M182.5 199.6h.01M179.9 199.2h.01M189.1 209.0h.01M182.1 199.1h.01M174.5 208.3h.01M188.7 204.6h.01M184.2 209.3h.01M187.3 202.2h.01M188.3 210.6h.01M188.7 209.5h.01M184.4 208.6h.01M188.7 202.1h.01M180.1 200.7h.01M185.6 208.8h.01M181.2 199.9h.01M183.6 209.9h.01M186.7 203.1h.01M180.0 202.4h.01M185.2 209.4h.01M181.6 199.5h.01M188.0 211.2h.01M181.6 199.1h.01M187.8 211.1h.01M175.3 208.2h.01M184.5 202.4h.01M187.0 202.3h.01M185.6 209.6h.01M175.5 207.8h.01M189.3 207.2h.01M183.9 202.1h.01M180.2 201.8h.01M187.0 211.3h.01M183.9 208.8h.01M185.7 208.4h.01M177.7 209.0h.01M180.2 201.0h.01M180.4 200.9h.01M176.5 209.1h.01M185.5 203.3h.01M188.6 209.6h.01M187.0 202.2h.01M180.8 208.4h.01M179.0 209.5h.01M188.5 210.3h.01M184.4 203.5h.01M188.0 202.0h.01M187.8 210.7h.01M187.1 210.9h.01M177.0 208.7h.01M187.3 201.9h.01M186.3 210.6h.01M188.6 205.1h.01M175.4 206.9h.01M188.9 206.1h.01M177.0 209.4h.01M183.5 201.8h.01" stroke="#b4b4b4" stroke-width="1.25" stroke-linecap="round" fill="none"/>
<path d="M151.7 154.5h.01M153.0 154.0h.01M154.8 153.6h.01M156.6 154.0h.01M158.1 152.7h.01M155.7 154.2h.01M172.3 137.3h.01M175.3 136.1h.01M177.5 135.7h.01M179.3 137.8h.01M183.3 136.4h.01M176.3 137.0h.01M163.8 141.0h.01M166.1 140.7h.01M162.1 142.8h.01M168.3 147.6h.01M157.6 151.1h.01M173.6 151.1h.01M177.5 150.6h.01M213.5 164.2h.01M215.3 166.4h.01M214.1 169.6h.01M214.8 172.7h.01M215.3 174.5h.01M214.3 165.1h.01M214.4 191.5h.01M213.5 193.6h.01M209.3 196.4h.01M212.6 199.1h.01M214.1 200.9h.01M215.9 201.8h.01M217.7 201.3h.01M216.3 199.5h.01M215.1 201.4h.01M209.3 211.3h.01M180.4 176.5h.01M180.8 177.1h.01M201.7 179.6h.01M184.4 189.1h.01" stroke="#ababab" stroke-width="1.6" stroke-linecap="round" fill="none"/>
<path d="M172.3 137.3h.01M175.3 136.1h.01M177.5 135.7h.01M179.3 137.8h.01M183.3 136.4h.01M176.3 137.0h.01" stroke="#e8361d" stroke-width="1.6" stroke-linecap="round" fill="none"/>
<path d="M177.0 126.4h.01M177.5 130.3h.01M181.3 126.5h.01M175.0 125.5h.01M176.9 127.4h.01M179.0 128.2h.01M176.8 124.7h.01M177.8 128.7h.01M182.2 128.8h.01M177.4 130.5h.01M176.0 129.5h.01M176.9 129.8h.01M175.5 128.8h.01M181.1 130.0h.01M177.5 132.0h.01M178.2 126.8h.01M175.3 128.4h.01M181.3 130.1h.01M175.6 130.0h.01M172.5 127.5h.01M180.3 130.1h.01M181.8 129.1h.01M181.2 131.1h.01M177.5 129.9h.01M179.4 125.1h.01M176.9 130.8h.01M174.6 125.8h.01M175.9 128.8h.01M205.2 90.1h.01M175.3 156.3h.01M176.4 153.3h.01M170.1 165.9h.01M180.5 202.7h.01" stroke="#e38a73" stroke-width="1.05" stroke-linecap="round" fill="none"/>
<path d="M180.7 126.6h.01M175.3 131.8h.01M181.6 126.3h.01M178.9 130.0h.01M177.1 126.6h.01M174.9 126.4h.01M181.6 129.5h.01M175.3 127.9h.01M177.8 127.9h.01M179.3 131.4h.01M179.5 127.9h.01M176.7 128.1h.01M182.1 127.8h.01M176.9 131.3h.01M179.0 129.8h.01M177.8 128.3h.01M175.0 131.5h.01M176.7 125.6h.01M181.9 129.6h.01M180.2 129.7h.01M178.9 128.9h.01M179.0 127.0h.01M181.2 130.4h.01M178.9 123.7h.01M178.0 127.4h.01M173.9 123.4h.01M173.7 127.5h.01M174.1 127.1h.01M175.3 129.8h.01M175.4 124.9h.01M178.1 127.7h.01M178.4 124.3h.01M177.1 123.9h.01M181.5 126.9h.01M178.0 126.2h.01M177.5 129.1h.01M178.6 123.5h.01M180.0 128.3h.01M179.5 126.6h.01M180.0 131.6h.01M180.0 126.3h.01M177.0 129.6h.01M176.5 126.0h.01M179.5 125.6h.01M181.0 125.3h.01M181.0 125.4h.01M175.3 130.4h.01M182.1 128.2h.01M175.7 126.4h.01M182.4 128.0h.01M177.7 130.5h.01M179.8 130.9h.01M155.7 130.9h.01M176.0 126.4h.01M175.9 132.6h.01M176.8 129.5h.01M174.6 126.9h.01M182.6 127.4h.01M175.0 123.9h.01M173.8 126.8h.01M179.8 131.8h.01M173.8 127.0h.01M175.3 124.7h.01M177.3 128.4h.01M181.8 127.8h.01M172.8 126.2h.01M172.9 128.3h.01M172.1 130.5h.01M173.0 130.3h.01M166.7 133.3h.01M175.1 127.2h.01M176.5 129.4h.01M181.9 130.3h.01M173.7 130.0h.01M175.5 131.5h.01M175.2 123.9h.01M181.0 127.9h.01M176.0 126.3h.01M177.0 126.2h.01M178.1 124.2h.01M180.5 130.9h.01M179.0 125.4h.01M174.8 125.4h.01M177.8 130.8h.01M175.9 131.3h.01M172.4 123.8h.01M179.9 125.5h.01M177.9 126.1h.01M176.2 126.2h.01M175.6 130.3h.01M176.8 128.9h.01M181.0 128.1h.01M181.5 129.9h.01M175.3 129.6h.01M176.7 125.9h.01M175.8 126.2h.01M180.1 130.6h.01M177.8 130.0h.01M174.9 126.5h.01M176.1 132.4h.01M172.2 128.0h.01M178.5 130.4h.01M177.2 132.0h.01M179.0 131.3h.01M179.8 126.0h.01M182.2 129.2h.01M177.2 132.0h.01M179.3 130.5h.01M176.6 128.0h.01M175.6 132.1h.01M172.0 128.8h.01M178.0 131.1h.01M178.0 131.8h.01M178.9 124.0h.01M177.3 126.8h.01M178.7 129.9h.01M180.7 125.8h.01M181.2 131.0h.01M177.9 126.8h.01M178.1 128.1h.01M177.0 129.2h.01M181.4 126.8h.01M177.0 127.7h.01M175.0 126.8h.01M177.2 129.3h.01M176.1 128.5h.01M174.7 126.7h.01M174.9 130.9h.01M172.3 123.8h.01M176.2 126.9h.01M177.9 126.9h.01M178.8 126.4h.01M176.1 128.4h.01M180.1 127.5h.01M175.9 128.6h.01M182.0 128.6h.01M172.9 125.3h.01M176.4 125.1h.01M177.6 129.1h.01M180.1 130.8h.01M178.5 130.7h.01M182.3 126.2h.01M182.2 127.7h.01M176.5 132.4h.01M161.5 125.6h.01M177.1 125.2h.01M177.5 128.7h.01M208.4 114.3h.01M207.6 89.5h.01M210.9 115.3h.01M207.6 93.3h.01M202.5 109.9h.01M208.2 110.8h.01M199.0 122.5h.01M209.3 121.2h.01M202.7 104.1h.01M201.9 105.9h.01M174.8 155.7h.01M176.5 156.4h.01M175.0 155.2h.01M176.5 154.0h.01M176.5 206.6h.01" stroke="#e8361d" stroke-width="1.35" stroke-linecap="round" fill="none"/>
<path d="M173.9 127.0q-1.3 2.6 -.6 5.6" stroke="#fff" stroke-width=".7" fill="none" opacity=".75"/>
<path d="M182.1 203.2h.01" stroke="#fff" stroke-width="1.7" stroke-linecap="round"/>
<path d="M183.3 205.0h.01" stroke="#fff" stroke-width="1" stroke-linecap="round"/>
<rect x="145.3" y="76.8" width="77.3" height="150.3" fill="none" stroke="#444" stroke-width=".75"/>
<path d="M181.7 292.5C181.9 292.7 182.1 294.8 182.5 296.3C182.9 297.9 183.7 299.4 183.7 301.1C183.7 302.8 183.3 304.6 182.6 305.8C181.9 307.0 180.8 307.1 180.0 307.7C179.1 308.3 178.9 309.0 178.2 309.0C177.5 309.0 176.9 307.4 176.0 307.6C175.1 307.8 174.4 309.0 173.5 309.9C172.7 310.9 172.1 311.7 171.4 312.8C170.7 313.9 170.0 314.7 169.9 315.8C169.8 317.0 170.1 318.0 170.7 319.0C171.3 320.0 172.2 321.1 173.1 321.4C174.1 321.7 175.2 320.5 175.9 320.7C176.5 320.8 176.8 321.5 176.6 322.2C176.5 322.9 175.8 323.8 175.0 324.3C174.2 324.9 173.1 324.7 172.3 325.3C171.5 325.8 170.5 326.7 170.6 327.3C170.7 328.0 172.3 328.2 172.8 328.9C173.3 329.7 173.5 330.4 173.4 331.3C173.3 332.3 172.4 332.9 172.0 334.0C171.7 335.1 171.8 336.6 171.4 337.4C171.0 338.2 170.4 338.5 169.8 338.3C169.2 338.2 168.9 337.3 168.0 336.5C167.1 335.8 166.4 334.9 165.0 334.3C163.7 333.8 162.2 333.6 160.6 333.6C159.0 333.6 157.8 334.3 156.4 334.3C155.0 334.3 154.1 334.4 153.2 333.7C152.2 333.0 151.7 332.1 151.3 330.6C150.9 329.0 151.0 327.1 151.1 325.1C151.2 323.1 151.2 321.3 151.6 319.5C152.0 317.8 152.2 316.7 153.2 315.6C154.2 314.6 155.8 314.9 157.0 313.9C158.2 312.8 158.6 311.4 159.6 310.1C160.6 308.7 161.2 307.7 162.3 306.6C163.4 305.6 164.3 305.2 165.7 304.5C167.0 303.9 168.3 303.9 169.9 303.1C171.4 302.4 172.7 301.3 174.2 300.3C175.8 299.3 177.2 298.4 178.5 297.5C179.7 296.5 180.6 296.0 181.2 295.1C181.8 294.2 181.4 292.3 181.7 292.5ZM179.9 339.0C180.1 339.2 180.8 341.2 181.3 342.8C181.7 344.4 181.7 346.8 182.4 347.7C183.1 348.6 184.1 348.1 184.9 347.8C185.7 347.6 186.5 345.9 186.6 346.3C186.6 346.6 185.5 348.4 185.0 349.7C184.4 350.9 183.7 351.8 183.7 353.0C183.6 354.2 184.6 355.0 184.5 356.2C184.3 357.3 183.5 358.1 182.9 359.2C182.3 360.4 181.7 361.3 181.3 362.5C180.9 363.6 181.2 364.6 180.8 365.6C180.3 366.6 179.5 367.0 178.9 367.9C178.3 368.8 177.9 369.7 177.4 370.2C176.8 370.8 176.3 371.2 175.9 371.0C175.4 370.7 174.9 370.0 174.8 368.9C174.8 367.8 175.2 366.4 175.6 365.1C176.1 363.8 176.7 363.2 177.1 361.9C177.6 360.6 177.9 359.3 177.9 357.8C178.0 356.3 177.6 355.3 177.6 353.8C177.7 352.4 178.0 351.3 178.3 349.9C178.7 348.4 179.2 347.4 179.5 346.0C179.8 344.5 179.9 343.2 179.9 341.9C180.0 340.7 179.6 338.9 179.9 339.0ZM192.7 340.1C192.7 340.5 192.4 341.0 192.1 341.3C191.8 341.6 191.3 341.9 190.9 341.9C190.5 341.9 190.0 341.6 189.7 341.3C189.4 341.0 189.2 340.5 189.2 340.1C189.2 339.7 189.4 339.2 189.7 338.9C190.0 338.6 190.5 338.4 190.9 338.4C191.3 338.4 191.8 338.6 192.1 338.9C192.4 339.2 192.7 339.7 192.7 340.1ZM213.9 327.2C214.2 327.2 214.6 329.1 215.1 330.8C215.6 332.5 216.3 334.2 216.7 336.4C217.1 338.6 217.2 340.4 217.3 342.7C217.4 345.0 217.2 346.9 217.0 349.0C216.8 351.0 216.1 351.9 216.2 353.8C216.4 355.8 217.3 357.7 217.8 359.5C218.3 361.3 218.7 361.7 218.9 363.4C219.1 365.2 219.1 366.9 218.9 368.9C218.7 370.9 218.3 372.4 217.8 374.4C217.3 376.4 216.9 378.3 216.2 380.0C215.6 381.7 215.0 383.1 214.4 383.7C213.7 384.2 213.7 383.8 212.9 382.9C212.1 382.1 211.1 380.7 210.1 379.1C209.1 377.5 208.2 376.2 207.5 374.4C206.8 372.5 206.5 370.9 206.4 368.9C206.3 366.9 206.3 365.3 206.7 363.5C207.0 361.6 207.8 360.2 208.3 358.7C208.7 357.2 209.4 356.5 209.1 355.3C208.8 354.1 207.6 353.4 206.6 352.0C205.7 350.5 204.7 348.9 203.7 347.3C202.8 345.7 201.8 344.2 201.4 343.4C201.0 342.6 201.0 342.5 201.6 343.0C202.1 343.5 203.3 344.7 204.4 346.1C205.5 347.6 206.5 349.5 207.6 350.8C208.7 352.2 209.7 353.7 210.5 353.4C211.2 353.0 211.4 351.0 211.8 349.1C212.2 347.1 212.5 345.1 212.7 342.7C212.9 340.4 212.9 338.5 213.0 336.3C213.1 334.1 213.3 332.4 213.5 330.8C213.7 329.1 213.6 327.2 213.9 327.2Z" fill="#b4b4b4"/>
<path d="M175.5 320.5h.01M174.6 300.2h.01M165.0 305.2h.01M159.0 311.3h.01M172.7 331.9h.01M171.1 336.9h.01M180.4 308.2h.01M179.5 308.2h.01M171.7 320.1h.01M171.0 326.2h.01M182.5 296.8h.01M170.0 317.5h.01M166.5 335.6h.01M156.9 333.9h.01M176.0 308.0h.01M174.2 309.8h.01M151.1 331.9h.01M171.2 326.6h.01M173.0 329.6h.01M165.3 333.7h.01M180.7 294.1h.01M158.7 334.3h.01M174.0 324.4h.01M172.0 320.6h.01M156.9 313.4h.01M151.9 320.8h.01M172.8 328.5h.01M176.7 323.5h.01M175.8 299.0h.01M157.9 333.8h.01M166.2 336.5h.01M181.5 293.4h.01M154.4 334.5h.01M163.3 305.9h.01M171.2 325.5h.01M172.5 311.4h.01M180.2 295.7h.01M167.9 304.2h.01M170.9 315.7h.01M174.7 320.9h.01M159.5 334.4h.01M180.5 295.5h.01M167.5 336.3h.01M180.9 307.0h.01M155.5 333.8h.01M180.5 297.0h.01M178.2 308.8h.01M172.1 327.8h.01M167.0 335.7h.01M170.2 338.2h.01M174.3 300.6h.01M175.8 308.7h.01M171.6 319.9h.01M174.2 310.2h.01M151.8 331.4h.01M178.7 309.1h.01M176.3 321.5h.01M178.2 308.9h.01M171.5 325.8h.01M180.3 307.8h.01M165.2 334.4h.01M183.1 298.2h.01M174.2 309.1h.01M169.9 337.9h.01M182.4 297.9h.01M172.6 325.4h.01M181.8 293.6h.01M163.7 306.6h.01M152.5 334.1h.01M167.4 303.8h.01M153.6 315.5h.01M182.0 292.8h.01M152.2 318.2h.01M167.1 335.6h.01M171.4 337.6h.01M172.1 332.9h.01M182.7 295.2h.01M160.0 334.3h.01M167.4 335.7h.01M179.3 296.4h.01M159.4 333.5h.01M161.4 307.4h.01M164.0 305.8h.01M173.2 324.6h.01M172.4 333.3h.01M174.8 301.3h.01M161.1 334.2h.01M151.2 322.6h.01M157.1 334.7h.01M181.4 293.7h.01M158.0 334.5h.01M173.0 310.1h.01M154.2 315.6h.01M157.5 313.1h.01M181.0 294.8h.01M170.6 314.7h.01M154.2 315.4h.01M151.2 326.3h.01M152.3 333.1h.01M175.3 321.3h.01M165.9 335.7h.01M179.2 296.8h.01M157.7 334.1h.01M173.0 328.9h.01M171.0 338.2h.01M182.4 294.0h.01M170.3 302.9h.01M160.0 309.8h.01M182.6 297.9h.01M170.1 303.2h.01M172.7 311.0h.01M175.6 320.6h.01M166.8 335.9h.01M174.2 321.3h.01M175.2 324.3h.01M171.2 336.1h.01M156.3 334.4h.01M175.0 300.1h.01M173.1 320.7h.01M176.2 298.1h.01M176.8 321.1h.01M172.4 325.1h.01M181.8 293.8h.01M163.3 333.8h.01M171.4 334.9h.01M173.8 309.3h.01M171.4 328.3h.01M171.2 335.4h.01M175.2 309.0h.01M174.3 321.4h.01M172.8 329.3h.01M170.8 327.7h.01M170.7 316.8h.01M162.9 306.5h.01M176.6 309.0h.01M173.2 310.6h.01M170.3 314.4h.01M170.8 338.3h.01M178.7 309.2h.01M165.4 304.4h.01M160.7 309.1h.01M182.3 306.6h.01M170.9 302.1h.01M167.9 336.3h.01M175.7 323.5h.01M152.0 330.5h.01M172.2 324.9h.01M160.6 309.2h.01M181.0 293.2h.01M182.8 299.9h.01M173.0 320.9h.01M182.5 297.5h.01M181.0 294.7h.01M162.3 306.6h.01M157.2 313.7h.01M151.4 330.3h.01M169.5 338.3h.01M165.3 334.3h.01M181.0 293.3h.01M153.9 334.2h.01M178.1 297.3h.01M174.9 321.2h.01M179.5 308.4h.01M156.2 334.0h.01M182.0 294.3h.01M180.4 295.5h.01M175.6 307.6h.01M173.5 310.8h.01M180.5 294.9h.01M157.9 313.2h.01M178.8 296.2h.01M165.3 334.9h.01M175.9 321.5h.01M172.9 330.9h.01M152.0 318.9h.01M151.6 322.2h.01M167.0 335.9h.01M171.1 327.5h.01M180.0 307.8h.01M180.9 295.2h.01M182.5 296.3h.01M152.1 318.0h.01M181.3 293.2h.01M175.7 321.7h.01M176.3 321.2h.01M178.3 309.6h.01M172.1 336.8h.01M172.3 311.4h.01M172.5 325.5h.01M171.6 326.4h.01M170.7 315.1h.01M180.3 306.7h.01M151.1 328.6h.01M181.0 294.2h.01M170.4 326.4h.01M181.1 295.1h.01M170.7 302.7h.01M177.3 307.9h.01M168.0 337.3h.01M170.9 314.0h.01M164.0 306.0h.01M175.4 299.5h.01M177.0 298.2h.01M176.4 321.5h.01M165.1 304.4h.01M168.3 303.7h.01M175.3 323.4h.01M181.4 294.8h.01M175.9 298.4h.01M159.9 334.2h.01M181.5 294.5h.01M182.1 306.8h.01M151.5 318.5h.01M167.3 335.5h.01M181.8 294.9h.01M167.0 303.2h.01M181.8 296.5h.01M176.0 307.5h.01M172.3 328.8h.01M173.8 309.4h.01M169.3 303.4h.01M171.6 333.3h.01M182.7 296.9h.01M150.9 328.3h.01M178.2 297.0h.01M176.5 322.5h.01M176.1 307.6h.01M171.2 337.2h.01M183.4 300.6h.01M183.3 303.6h.01M175.3 307.4h.01M176.3 322.8h.01M154.3 314.4h.01M183.0 301.7h.01M178.2 308.9h.01M150.9 325.0h.01M162.4 333.3h.01M152.9 316.7h.01M160.6 333.5h.01M152.9 317.6h.01M171.5 312.6h.01M176.2 308.4h.01M153.6 315.1h.01M172.7 329.0h.01M172.6 332.9h.01M173.0 332.5h.01M159.6 309.7h.01M178.7 308.8h.01M159.6 310.6h.01M174.9 324.5h.01M161.5 307.9h.01M170.3 326.5h.01M175.2 300.0h.01M171.3 316.8h.01M177.0 321.5h.01M165.9 336.0h.01M172.4 335.4h.01M183.3 298.0h.01M177.7 308.6h.01M173.1 329.0h.01M183.0 358.4h.01M181.6 343.5h.01M179.0 347.6h.01M182.0 346.8h.01M175.5 366.9h.01M178.0 357.5h.01M175.6 369.9h.01M175.5 368.3h.01M184.5 356.6h.01M177.1 360.9h.01M176.8 370.7h.01M180.9 362.4h.01M178.6 358.4h.01M176.4 370.9h.01M175.4 368.0h.01M180.3 341.6h.01M182.5 361.2h.01M185.4 347.6h.01M179.9 343.8h.01M180.5 342.1h.01M184.5 355.5h.01M179.3 345.3h.01M178.0 368.8h.01M184.9 350.9h.01M177.6 350.5h.01M175.4 369.5h.01M179.5 367.8h.01M181.0 363.5h.01M175.3 365.6h.01M184.0 347.5h.01M184.3 356.3h.01M184.7 352.0h.01M177.8 369.7h.01M184.3 350.7h.01M177.7 354.6h.01M174.8 369.1h.01M187.0 346.3h.01M183.6 350.9h.01M181.7 363.3h.01M178.5 348.2h.01M181.5 361.6h.01M181.7 346.7h.01M177.2 357.2h.01M178.7 357.4h.01M178.2 357.2h.01M181.0 363.9h.01M180.3 342.2h.01M176.0 370.3h.01M185.8 347.1h.01M175.6 369.8h.01M184.7 356.9h.01M178.0 357.6h.01M180.1 366.9h.01M180.5 365.5h.01M182.9 353.0h.01M182.8 347.8h.01M183.8 357.9h.01M183.4 358.7h.01M181.1 363.8h.01M179.5 340.3h.01M181.5 342.1h.01M176.5 362.5h.01M186.3 347.1h.01M180.1 342.2h.01M183.8 347.6h.01M181.9 359.0h.01M175.9 364.5h.01M175.3 366.2h.01M180.1 340.9h.01M179.1 346.0h.01M183.9 347.9h.01M183.2 353.6h.01M181.6 361.2h.01M176.2 371.1h.01M179.1 348.4h.01M184.7 355.5h.01M181.5 363.7h.01M180.0 339.9h.01M178.0 353.9h.01M178.9 349.4h.01M179.2 342.0h.01M179.5 347.3h.01M175.0 369.2h.01M177.6 358.6h.01M179.0 343.3h.01M180.3 339.9h.01M186.1 347.3h.01M182.9 347.8h.01M184.9 350.5h.01M177.9 370.0h.01M191.4 341.4h.01M189.6 339.3h.01M191.3 341.9h.01M191.6 339.5h.01M191.8 341.4h.01M189.5 339.8h.01M189.1 340.1h.01M189.8 341.0h.01M207.2 361.6h.01M207.6 375.3h.01M210.6 352.1h.01M217.9 373.9h.01M217.2 345.0h.01M213.8 333.6h.01M217.3 359.3h.01M216.4 334.0h.01M203.7 346.6h.01M204.0 345.2h.01M212.5 341.0h.01M217.1 358.7h.01M204.6 347.5h.01M216.9 339.7h.01M206.4 364.2h.01M213.1 330.8h.01M212.7 382.7h.01M203.7 347.7h.01M201.2 342.2h.01M208.0 359.7h.01M214.7 331.1h.01M202.6 344.5h.01M211.0 379.9h.01M211.3 350.8h.01M213.3 328.7h.01M215.2 329.6h.01M213.1 330.3h.01M203.5 345.0h.01M208.5 356.8h.01M208.9 357.4h.01M217.7 357.9h.01M214.6 329.7h.01M218.7 371.3h.01M207.4 350.2h.01M204.2 348.4h.01M205.0 347.7h.01M208.7 357.7h.01M213.8 328.9h.01M206.3 363.2h.01M218.9 365.4h.01M218.3 342.1h.01M208.9 356.2h.01M207.7 374.5h.01M205.7 368.3h.01M211.8 348.0h.01M201.4 343.0h.01M213.6 328.4h.01M214.6 383.3h.01M204.9 348.7h.01M203.5 345.0h.01M202.2 343.3h.01M218.5 359.6h.01M218.3 372.9h.01M216.6 355.5h.01M209.8 378.6h.01M213.9 329.9h.01M209.8 351.9h.01M217.3 351.3h.01M206.6 362.4h.01M216.5 348.7h.01M207.2 363.0h.01M212.0 348.4h.01M207.4 353.3h.01M218.0 339.6h.01M216.9 376.7h.01M205.9 365.8h.01M208.5 354.3h.01M216.6 379.5h.01M207.0 353.4h.01M216.1 356.0h.01M207.8 361.6h.01M207.2 352.1h.01M218.2 362.4h.01M216.2 354.8h.01M204.3 345.0h.01M204.2 346.6h.01M216.9 336.5h.01M211.8 347.5h.01M217.3 348.3h.01M210.8 380.7h.01M217.2 377.7h.01M215.4 331.7h.01M218.3 372.8h.01M214.9 383.0h.01M218.0 369.9h.01M202.5 344.2h.01M216.2 376.3h.01M210.9 352.3h.01M215.0 332.9h.01M213.5 383.7h.01M206.8 367.4h.01M211.5 349.3h.01M209.3 353.9h.01M217.3 375.2h.01M207.6 361.0h.01M204.2 344.9h.01M211.8 382.2h.01M203.8 348.2h.01M217.3 346.7h.01M208.1 351.9h.01M209.1 356.0h.01M217.0 339.0h.01M206.7 362.1h.01M216.6 353.6h.01M213.2 334.6h.01M204.0 347.9h.01M218.8 365.6h.01M206.6 367.9h.01M216.9 343.4h.01M211.8 348.2h.01M213.1 333.5h.01M218.0 362.4h.01M214.4 382.9h.01M205.3 347.5h.01M210.1 352.6h.01M214.8 384.0h.01M206.8 351.3h.01M215.8 381.2h.01M217.2 344.9h.01M213.9 331.1h.01M202.3 344.1h.01M208.0 350.1h.01M204.5 349.0h.01M208.0 354.4h.01M211.0 380.6h.01M214.2 329.4h.01M208.3 351.8h.01M215.3 332.9h.01M214.3 384.3h.01M218.2 365.7h.01M202.9 344.8h.01M216.8 377.5h.01M216.6 380.3h.01M212.4 381.4h.01M205.3 349.5h.01M206.8 369.8h.01M208.4 350.8h.01M213.0 334.5h.01M206.1 349.0h.01M206.8 365.3h.01M212.4 381.9h.01M204.1 345.6h.01M214.2 384.0h.01M218.7 360.9h.01M215.0 382.6h.01M216.2 337.7h.01M211.7 347.4h.01M213.2 339.4h.01M212.7 347.1h.01M208.3 376.1h.01M200.8 260.6h.01M201.4 260.0h.01M200.5 261.4h.01M201.2 261.3h.01M206.3 279.4h.01M206.8 279.5h.01M187.2 367.8h.01M185.9 369.4h.01M184.0 369.7h.01" stroke="#b4b4b4" stroke-width="1.25" stroke-linecap="round" fill="none"/>
<path d="M181.6 291.6h.01M171.0 300.2h.01M150.6 294.4h.01M161.1 295.4h.01M166.9 297.4h.01M153.3 292.0h.01M162.5 285.6h.01M160.1 305.6h.01M172.4 296.1h.01M168.6 287.2h.01M160.4 301.9h.01M164.9 291.6h.01M170.7 290.6h.01M153.6 296.4h.01M165.6 292.7h.01M166.2 295.1h.01M163.0 286.9h.01M174.4 294.0h.01M161.1 290.6h.01M180.6 294.4h.01M149.9 293.3h.01M154.3 289.6h.01M164.2 287.5h.01M160.1 294.7h.01M159.1 295.7h.01M182.3 293.3h.01M159.8 289.3h.01M170.7 292.0h.01M154.6 296.1h.01M165.9 293.8h.01M160.7 294.2h.01M154.6 291.0h.01M179.5 290.6h.01M177.2 288.2h.01M155.3 293.7h.01M161.5 293.7h.01M154.3 286.0h.01M156.4 290.6h.01M168.0 288.9h.01M180.2 291.6h.01M156.0 286.9h.01M162.2 283.8h.01M163.2 295.1h.01M153.3 285.4h.01M170.7 297.1h.01M166.9 288.4h.01M176.1 288.2h.01M152.9 298.5h.01M173.7 295.1h.01M170.3 288.9h.01M170.3 297.8h.01M165.6 289.9h.01M156.4 296.1h.01M155.3 286.5h.01M153.6 297.8h.01M174.1 290.6h.01M178.2 288.2h.01M164.9 294.4h.01M163.0 284.8h.01M165.6 288.1h.01M151.2 294.0h.01M163.9 292.7h.01M163.4 286.0h.01M153.8 290.3h.01M169.0 297.8h.01M165.0 290.8h.01M162.5 290.6h.01M163.9 290.3h.01M149.2 293.8h.01M173.1 293.3h.01M167.6 298.5h.01M168.6 295.9h.01M162.2 297.8h.01" stroke="#b0b0b0" stroke-width="1.35" stroke-linecap="round" fill="none"/>
<path d="M151.2 294.0h.01M163.9 292.7h.01M163.4 286.0h.01M153.8 290.3h.01M206.3 279.4h.01M206.8 279.5h.01" stroke="#e8361d" stroke-width="1.5" stroke-linecap="round" fill="none"/>
<path d="M179.2 304.3h.01M180.9 302.9h.01M180.6 297.1h.01M180.8 300.3h.01M182.3 305.5h.01M182.6 300.9h.01M181.9 299.6h.01M175.4 304.1h.01M181.7 297.5h.01M175.7 322.3h.01M179.1 301.9h.01M178.3 300.1h.01M179.9 307.6h.01M169.3 323.3h.01M181.9 306.2h.01M178.9 301.7h.01M182.3 305.1h.01M176.6 305.6h.01M175.7 307.7h.01M178.5 304.5h.01M158.2 317.1h.01M178.6 303.7h.01M179.4 305.0h.01M181.0 306.3h.01M178.0 300.8h.01M181.7 296.3h.01M181.5 297.6h.01M178.6 303.4h.01M180.8 299.4h.01M180.8 297.7h.01M179.2 298.8h.01M179.7 297.3h.01M182.6 303.9h.01M180.6 306.2h.01M178.4 306.1h.01M183.3 299.8h.01M181.2 298.4h.01M180.7 302.1h.01M182.1 296.4h.01M178.9 301.9h.01M180.0 301.0h.01M179.1 297.6h.01M179.6 306.3h.01M178.3 306.3h.01M176.9 303.1h.01M177.7 301.9h.01M178.1 307.2h.01M180.6 302.7h.01M177.9 305.1h.01M181.2 298.3h.01M182.2 296.0h.01M175.5 303.3h.01M179.7 349.9h.01M216.5 345.1h.01M213.5 341.5h.01M218.7 370.4h.01" stroke="#e38a73" stroke-width="1.05" stroke-linecap="round" fill="none"/>
<path d="M172.5 307.9h.01M182.1 300.4h.01M183.5 301.2h.01M180.3 301.9h.01M180.9 296.5h.01M176.3 302.4h.01M178.2 305.9h.01M182.7 304.2h.01M175.6 300.5h.01M180.2 302.9h.01M180.9 305.9h.01M180.3 303.0h.01M179.9 306.0h.01M183.2 300.9h.01M178.5 303.2h.01M177.8 305.4h.01M179.7 299.3h.01M182.7 301.2h.01M181.9 298.2h.01M176.1 299.2h.01M182.5 300.2h.01M177.7 299.0h.01M180.8 300.2h.01M181.0 299.1h.01M181.8 293.2h.01M179.5 307.0h.01M173.9 322.7h.01M178.3 305.1h.01M179.2 299.2h.01M177.3 301.7h.01M165.4 318.1h.01M179.4 299.4h.01M177.7 306.2h.01M178.8 305.6h.01M157.9 331.4h.01M181.3 304.5h.01M176.4 302.6h.01M181.3 300.4h.01M180.1 305.0h.01M176.4 305.7h.01M178.7 299.4h.01M180.9 306.9h.01M183.1 302.1h.01M180.4 303.7h.01M175.7 307.8h.01M182.2 302.5h.01M178.9 301.5h.01M151.3 326.3h.01M179.6 297.2h.01M181.0 300.0h.01M176.8 298.8h.01M178.2 306.5h.01M182.4 296.3h.01M181.5 295.2h.01M180.8 303.4h.01M158.5 332.0h.01M176.4 300.5h.01M178.6 297.8h.01M171.6 329.2h.01M176.5 301.6h.01M176.3 304.7h.01M181.3 295.8h.01M175.7 302.8h.01M177.8 299.7h.01M179.1 300.8h.01M177.7 305.4h.01M181.7 303.9h.01M172.0 321.0h.01M180.0 307.4h.01M169.5 314.5h.01M181.0 300.2h.01M168.7 319.6h.01M170.1 308.9h.01M180.1 305.5h.01M173.2 310.1h.01M180.6 300.7h.01M183.4 302.3h.01M183.1 300.3h.01M180.7 296.4h.01M181.0 304.7h.01M176.5 300.3h.01M182.3 301.8h.01M180.8 296.7h.01M181.3 306.7h.01M180.5 305.3h.01M181.9 293.5h.01M180.0 300.0h.01M180.3 296.6h.01M181.5 296.1h.01M181.1 295.4h.01M178.1 303.7h.01M181.1 300.1h.01M159.3 310.8h.01M182.1 300.9h.01M174.4 305.8h.01M180.6 304.5h.01M182.1 294.5h.01M177.1 302.8h.01M154.6 333.8h.01M164.0 311.3h.01M181.6 304.2h.01M163.8 312.6h.01M165.3 327.0h.01M180.5 306.0h.01M182.5 300.6h.01M182.3 303.8h.01M177.0 303.0h.01M180.3 301.6h.01M182.7 301.2h.01M181.6 300.2h.01M182.4 301.2h.01M182.4 302.3h.01M176.1 303.5h.01M165.6 326.7h.01M176.4 305.7h.01M177.4 300.2h.01M179.3 300.9h.01M178.1 302.6h.01M182.1 299.2h.01M178.9 298.4h.01M181.7 292.8h.01M178.2 308.1h.01M182.1 300.6h.01M179.3 297.6h.01M162.6 316.4h.01M182.7 302.7h.01M181.1 300.1h.01M178.1 298.3h.01M180.3 296.4h.01M176.5 299.2h.01M178.6 302.2h.01M181.4 296.7h.01M178.3 298.3h.01M180.6 303.0h.01M175.9 306.8h.01M177.9 305.7h.01M180.2 299.2h.01M183.4 300.3h.01M164.5 309.7h.01M179.4 304.6h.01M180.9 304.2h.01M182.0 302.6h.01M182.3 296.4h.01M157.3 328.1h.01M179.9 300.1h.01M180.3 298.3h.01M178.0 303.2h.01M183.0 303.6h.01M182.1 303.6h.01M182.3 297.7h.01M156.0 316.6h.01M182.7 298.3h.01M175.6 320.9h.01M181.7 293.3h.01M181.5 299.0h.01M178.4 299.1h.01M180.8 301.0h.01M182.2 303.2h.01M171.7 321.2h.01M182.4 304.6h.01M175.9 300.2h.01M181.1 295.9h.01M179.1 307.5h.01M180.7 297.2h.01M175.8 307.0h.01M180.6 297.1h.01M183.0 301.2h.01M178.7 298.1h.01M180.7 300.9h.01M156.0 324.9h.01M179.4 306.3h.01M181.8 306.1h.01M157.1 323.6h.01M177.2 308.2h.01M181.3 301.0h.01M179.7 297.3h.01M181.1 297.7h.01M182.0 299.9h.01M182.5 353.6h.01M179.5 359.1h.01M182.1 352.7h.01M209.6 375.2h.01M215.4 362.0h.01M213.4 369.4h.01M216.0 375.7h.01M210.1 364.5h.01M211.8 380.7h.01M212.1 368.7h.01M212.3 357.8h.01M217.5 363.4h.01M214.5 344.9h.01M218.5 367.4h.01M218.9 368.9h.01M218.3 366.6h.01" stroke="#e8361d" stroke-width="1.35" stroke-linecap="round" fill="none"/>
<path d="M170.9 321.6h.01" stroke="#fff" stroke-width="2.0" stroke-linecap="round"/>
<path d="M172.6 325.3h.01" stroke="#fff" stroke-width="2.2" stroke-linecap="round"/>
<path d="M171.3 318.2h.01" stroke="#fff" stroke-width="1.1" stroke-linecap="round"/>
<path d="M168.5 331.4h.01" stroke="#fff" stroke-width="1.2" stroke-linecap="round"/>
<path d="M171.5 329.4h.01" stroke="#fff" stroke-width="1.5" stroke-linecap="round"/>
<path d="M172.1 334.0h.01" stroke="#fff" stroke-width="1.2" stroke-linecap="round"/>
<path d="M166.6 326.4h.01" stroke="#fff" stroke-width="0.9" stroke-linecap="round"/>
<path d="M173.9 327.4h.01" stroke="#fff" stroke-width="1.3" stroke-linecap="round"/>
<path d="M169.9 323.8h.01" stroke="#fff" stroke-width="1.2" stroke-linecap="round"/>
<rect x="145.3" y="240.4" width="77.3" height="150.3" fill="none" stroke="#444" stroke-width=".75"/>
<path d="M294.3 85.2C295.4 85.2 296.8 85.4 298.2 86.1C299.6 86.8 301.0 87.9 302.2 89.2C303.4 90.5 304.1 91.6 304.8 93.2C305.5 94.7 305.8 96.0 305.9 97.7C305.9 99.4 305.5 100.8 305.1 102.4C304.6 104.0 303.9 104.9 303.4 106.4C302.8 108.0 302.3 109.1 302.1 110.6C301.8 112.2 302.0 113.3 302.3 114.9C302.5 116.4 303.0 117.4 303.4 119.0C303.8 120.6 304.3 122.0 304.5 123.8C304.7 125.5 304.6 126.7 304.5 128.3C304.3 130.0 303.7 132.2 303.4 133.0C303.1 133.8 303.3 133.5 302.9 132.6C302.4 131.8 301.4 129.9 300.8 128.2C300.2 126.6 300.0 125.3 299.5 123.6C299.1 121.9 299.0 120.6 298.5 118.8C298.1 117.0 297.8 115.5 297.1 113.9C296.5 112.4 295.8 110.4 295.1 110.3C294.4 110.1 293.8 111.8 293.2 113.2C292.6 114.7 292.3 116.3 291.8 118.1C291.3 119.8 291.0 121.3 290.5 122.9C290.0 124.5 289.4 126.2 289.1 126.8C288.9 127.5 288.8 127.5 289.0 126.4C289.1 125.3 289.6 122.8 289.9 121.0C290.3 119.1 290.6 118.0 290.9 116.3C291.3 114.5 291.5 113.1 291.7 111.5C292.0 109.8 292.3 108.8 292.2 107.3C292.2 105.8 292.0 104.6 291.7 103.1C291.5 101.6 291.2 100.6 290.9 99.0C290.7 97.4 290.4 96.0 290.4 94.3C290.3 92.6 290.6 91.1 290.9 89.6C291.3 88.2 291.5 87.2 292.1 86.4C292.8 85.6 293.2 85.3 294.3 85.2ZM240.5 125.5C240.6 124.1 240.9 122.4 241.4 121.1C242.0 119.8 242.6 119.2 243.6 118.6C244.5 117.9 245.3 117.6 246.5 117.5C247.8 117.5 249.1 118.0 250.4 118.1C251.8 118.3 252.7 118.2 254.1 118.4C255.5 118.7 256.8 119.1 258.2 119.5C259.5 120.0 260.6 120.3 261.7 120.9C262.8 121.5 263.4 122.1 264.4 122.7C265.3 123.3 265.9 123.9 266.8 124.0C267.8 124.2 268.6 123.4 269.6 123.4C270.5 123.5 271.4 123.9 272.1 124.5C272.9 125.0 273.5 125.6 273.8 126.5C274.0 127.4 273.9 128.5 273.6 129.4C273.3 130.3 272.9 130.9 272.1 131.4C271.4 132.0 270.4 132.0 269.5 132.3C268.5 132.5 267.8 132.9 267.0 132.8C266.2 132.6 265.9 131.4 265.2 131.4C264.5 131.3 264.0 132.0 263.2 132.3C262.3 132.5 261.3 132.5 260.4 132.8C259.5 133.0 259.0 133.3 258.1 133.7C257.2 134.1 256.4 134.8 255.4 135.1C254.4 135.3 253.3 135.3 252.5 135.1C251.8 134.8 251.9 134.1 251.2 133.7C250.5 133.3 249.5 133.0 248.6 133.2C247.7 133.3 246.7 134.1 246.2 134.7C245.7 135.2 246.0 136.1 245.7 136.0C245.4 135.8 245.1 134.6 244.6 133.8C244.0 133.1 243.4 132.9 242.8 132.0C242.1 131.1 241.3 130.1 240.9 129.0C240.5 127.8 240.5 127.0 240.5 125.5ZM263.9 151.5C264.1 151.1 265.0 150.9 265.7 151.1C266.5 151.3 267.6 151.6 267.9 152.4C268.3 153.3 267.7 154.5 267.6 155.8C267.5 157.0 267.3 158.3 267.2 159.3C267.1 160.2 267.1 160.7 266.9 160.9C266.8 161.0 266.7 160.9 266.4 160.2C266.1 159.4 265.8 157.9 265.4 156.7C265.0 155.5 264.7 154.7 264.4 153.7C264.1 152.8 263.6 152.0 263.9 151.5ZM258.5 161.0C258.7 160.0 259.6 160.4 260.4 160.9C261.1 161.3 261.8 162.4 262.5 163.5C263.3 164.6 264.0 165.5 264.3 166.9C264.6 168.2 264.4 169.5 264.4 170.8C264.4 172.1 264.4 173.4 264.1 173.9C263.7 174.4 263.1 174.3 262.5 173.6C262.0 172.9 261.6 171.5 261.1 170.2C260.5 168.8 259.9 168.0 259.4 166.3C258.9 164.6 258.3 162.0 258.5 161.0ZM281.1 170.8C281.4 170.1 282.4 169.9 282.8 170.3C283.2 170.7 283.4 172.0 283.3 172.8C283.2 173.6 282.9 174.4 282.5 174.6C282.1 174.8 281.4 174.7 281.1 174.0C280.8 173.3 280.8 171.5 281.1 170.8ZM266.4 207.5C266.7 206.8 267.1 205.6 267.8 204.8C268.6 204.0 269.9 203.9 270.6 203.0C271.2 202.0 271.0 200.5 271.5 199.8C271.9 199.1 272.5 198.7 273.1 199.1C273.6 199.5 273.6 201.3 274.4 202.1C275.1 202.9 276.2 203.6 277.0 203.5C277.7 203.5 277.9 201.9 278.5 201.7C279.0 201.6 279.5 202.0 279.8 202.9C280.1 203.7 280.3 205.0 280.3 206.4C280.2 207.8 279.9 209.8 279.4 210.7C278.9 211.6 278.3 211.6 277.6 211.4C277.0 211.1 276.8 209.7 275.8 209.2C274.8 208.7 273.3 208.7 272.0 208.7C270.7 208.6 269.5 209.2 268.4 209.2C267.4 209.1 266.7 208.5 266.3 208.2C265.9 207.9 266.1 208.1 266.4 207.5Z" fill="#b4b4b4"/>
<path d="M299.5 121.4h.01M290.8 91.4h.01M290.6 94.3h.01M290.3 91.6h.01M304.1 120.8h.01M290.6 117.4h.01M303.7 90.6h.01M291.0 91.3h.01M292.2 105.3h.01M303.4 118.6h.01M302.0 130.9h.01M292.8 114.8h.01M292.5 108.7h.01M302.2 88.7h.01M304.2 127.4h.01M302.6 110.1h.01M297.2 113.2h.01M290.5 93.5h.01M303.0 119.3h.01M302.0 110.8h.01M290.0 124.9h.01M298.5 118.9h.01M305.0 92.9h.01M299.1 118.2h.01M291.8 120.4h.01M289.9 118.8h.01M303.0 108.9h.01M291.7 103.8h.01M291.3 103.2h.01M297.7 85.9h.01M290.5 118.0h.01M289.7 124.4h.01M295.8 111.2h.01M302.0 89.5h.01M291.8 119.5h.01M297.6 117.8h.01M302.0 88.9h.01M292.7 85.9h.01M303.6 131.4h.01M290.4 122.4h.01M304.4 123.9h.01M291.6 101.9h.01M303.5 132.5h.01M296.5 112.5h.01M288.6 126.8h.01M296.0 112.0h.01M291.5 111.4h.01M291.7 89.1h.01M292.6 104.9h.01M304.4 91.7h.01M294.6 111.4h.01M294.9 110.7h.01M294.8 84.8h.01M304.8 93.0h.01M293.3 114.5h.01M305.5 97.2h.01M296.5 113.9h.01M305.3 95.2h.01M302.3 110.5h.01M303.7 118.3h.01M290.9 116.3h.01M291.9 107.7h.01M305.7 96.7h.01M291.0 89.6h.01M293.3 85.9h.01M290.3 117.8h.01M302.7 132.7h.01M297.0 86.0h.01M303.9 128.7h.01M291.3 118.2h.01M304.6 94.9h.01M292.2 107.5h.01M301.7 130.1h.01M292.2 106.4h.01M291.8 119.5h.01M298.0 117.4h.01M290.6 117.4h.01M302.2 109.4h.01M298.9 119.9h.01M302.0 109.7h.01M289.9 126.7h.01M291.3 90.2h.01M305.1 102.1h.01M299.4 122.2h.01M305.5 95.5h.01M305.8 99.1h.01M290.4 114.5h.01M292.0 107.6h.01M292.6 107.9h.01M289.8 94.0h.01M304.4 123.3h.01M291.4 100.6h.01M302.4 132.9h.01M294.1 111.9h.01M295.2 110.9h.01M289.9 119.9h.01M291.5 91.6h.01M290.9 91.5h.01M300.0 86.9h.01M291.7 112.4h.01M299.3 123.6h.01M305.3 102.0h.01M303.3 133.1h.01M304.5 93.5h.01M292.1 119.3h.01M302.2 110.8h.01M289.0 126.3h.01M299.1 87.3h.01M301.5 129.4h.01M303.1 117.3h.01M292.8 106.3h.01M302.5 108.1h.01M289.5 122.8h.01M298.7 118.2h.01M302.1 113.5h.01M293.6 112.2h.01M304.0 119.5h.01M301.3 110.8h.01M291.8 108.8h.01M292.0 116.9h.01M303.1 131.7h.01M289.1 126.9h.01M302.0 115.0h.01M292.7 86.3h.01M305.7 99.2h.01M295.7 111.3h.01M302.2 111.8h.01M291.6 111.8h.01M304.4 122.6h.01M304.5 126.6h.01M295.3 109.6h.01M290.5 119.3h.01M292.0 86.2h.01M290.6 94.7h.01M302.1 109.3h.01M290.9 97.8h.01M294.3 85.3h.01M293.4 113.0h.01M304.4 105.0h.01M300.1 125.9h.01M290.4 123.7h.01M302.7 114.6h.01M304.0 91.7h.01M301.2 128.2h.01M300.3 126.1h.01M305.1 101.3h.01M290.4 90.9h.01M290.7 88.8h.01M291.2 114.2h.01M297.7 117.3h.01M291.4 115.2h.01M288.8 125.7h.01M302.4 132.3h.01M298.4 86.3h.01M304.8 128.7h.01M291.7 111.1h.01M304.2 90.9h.01M300.3 127.3h.01M289.5 125.5h.01M305.4 97.9h.01M270.5 132.0h.01M264.8 131.1h.01M273.0 125.3h.01M245.4 118.0h.01M243.2 118.5h.01M260.7 120.3h.01M247.7 133.1h.01M255.1 135.6h.01M273.6 127.5h.01M248.1 117.7h.01M246.7 135.1h.01M250.5 133.4h.01M255.4 119.0h.01M246.5 134.8h.01M265.2 131.4h.01M273.8 129.3h.01M247.9 133.3h.01M253.3 135.5h.01M246.4 135.0h.01M271.3 131.4h.01M272.4 125.1h.01M240.7 128.5h.01M246.1 118.3h.01M254.6 119.3h.01M247.7 117.6h.01M263.3 131.8h.01M271.3 124.2h.01M257.3 119.3h.01M260.6 132.7h.01M242.6 131.5h.01M244.3 133.8h.01M246.9 133.8h.01M254.7 135.5h.01M259.2 133.3h.01M240.9 123.3h.01M272.5 124.0h.01M252.8 135.3h.01M259.2 134.0h.01M242.0 120.3h.01M259.3 119.7h.01M261.8 120.7h.01M240.9 126.2h.01M261.8 120.6h.01M245.7 134.7h.01M242.3 120.2h.01M246.9 117.9h.01M243.4 119.6h.01M266.0 123.5h.01M260.8 120.7h.01M269.1 123.6h.01M267.3 131.7h.01M245.6 136.0h.01M268.0 123.7h.01M262.8 121.3h.01M270.7 132.3h.01M250.6 133.5h.01M252.8 118.4h.01M242.1 121.0h.01M274.0 125.5h.01M242.5 120.2h.01M242.6 131.1h.01M248.3 118.4h.01M268.4 132.6h.01M273.7 129.4h.01M246.7 134.6h.01M246.0 134.8h.01M270.9 124.2h.01M241.6 123.6h.01M270.5 131.1h.01M244.2 133.8h.01M257.9 134.5h.01M244.8 135.0h.01M271.4 132.0h.01M266.5 133.0h.01M272.9 130.8h.01M261.9 132.7h.01M265.4 131.9h.01M246.9 134.9h.01M271.6 124.6h.01M245.2 135.4h.01M257.1 119.0h.01M242.9 120.1h.01M271.0 124.0h.01M273.4 129.9h.01M264.2 122.0h.01M249.7 117.5h.01M245.7 133.7h.01M252.4 135.4h.01M264.9 123.0h.01M267.6 133.4h.01M256.5 119.3h.01M241.3 125.1h.01M255.3 118.6h.01M251.1 118.0h.01M273.4 128.8h.01M240.9 124.4h.01M252.3 118.1h.01M242.1 127.8h.01M268.3 133.1h.01M269.5 132.0h.01M250.3 132.8h.01M261.7 132.4h.01M252.5 118.1h.01M259.7 132.4h.01M269.6 123.3h.01M266.8 124.2h.01M242.4 119.9h.01M241.0 125.1h.01M260.6 132.5h.01M244.6 117.9h.01M261.3 133.0h.01M272.7 125.5h.01M246.9 134.3h.01M245.6 135.2h.01M254.0 118.6h.01M271.4 124.6h.01M265.0 123.4h.01M243.9 133.2h.01M259.8 133.1h.01M259.3 133.8h.01M274.1 127.3h.01M242.9 119.4h.01M243.8 133.1h.01M272.7 125.7h.01M256.6 134.9h.01M269.8 124.1h.01M253.8 118.8h.01M257.4 119.4h.01M263.9 132.2h.01M245.2 136.1h.01M248.8 117.7h.01M253.7 118.7h.01M245.8 135.3h.01M246.7 135.2h.01M256.2 119.2h.01M256.6 133.9h.01M272.8 129.5h.01M242.0 132.0h.01M270.2 123.5h.01M273.1 131.0h.01M256.3 133.9h.01M260.6 120.4h.01M267.4 132.5h.01M261.2 133.3h.01M244.4 134.1h.01M270.1 131.9h.01M267.3 123.6h.01M272.7 126.3h.01M240.6 126.5h.01M271.7 131.6h.01M260.1 120.0h.01M250.8 118.7h.01M273.3 129.5h.01M270.3 124.4h.01M244.9 134.8h.01M262.2 121.5h.01M251.2 133.5h.01M267.8 123.7h.01M252.4 134.4h.01M262.2 120.8h.01M264.5 132.0h.01M272.4 123.8h.01M269.6 132.7h.01M272.7 131.5h.01M269.1 132.4h.01M253.9 118.9h.01M253.0 118.6h.01M243.9 133.1h.01M240.3 127.4h.01M244.5 134.2h.01M263.6 152.1h.01M267.8 160.1h.01M266.5 161.0h.01M266.5 160.7h.01M266.7 160.2h.01M266.9 152.2h.01M265.0 156.4h.01M265.4 158.7h.01M265.0 155.1h.01M265.1 151.0h.01M264.0 152.7h.01M267.0 160.6h.01M266.8 159.1h.01M267.0 159.6h.01M263.7 151.4h.01M266.9 159.7h.01M267.7 152.4h.01M265.6 156.2h.01M267.7 152.7h.01M264.7 153.2h.01M265.7 158.1h.01M265.6 159.1h.01M266.6 159.7h.01M264.3 151.0h.01M267.2 158.4h.01M258.8 160.5h.01M264.3 174.7h.01M261.4 161.9h.01M259.3 164.0h.01M263.8 170.7h.01M262.5 163.3h.01M257.9 164.6h.01M260.6 169.1h.01M264.1 172.9h.01M262.8 174.6h.01M260.5 161.0h.01M258.8 163.6h.01M264.4 168.6h.01M264.2 167.9h.01M263.0 174.0h.01M264.4 168.0h.01M263.3 174.0h.01M261.5 170.9h.01M261.7 171.2h.01M260.9 168.8h.01M264.4 166.0h.01M262.6 164.2h.01M261.2 162.2h.01M263.0 173.6h.01M260.4 160.3h.01M258.9 161.6h.01M260.5 169.2h.01M261.1 161.8h.01M264.5 168.1h.01M259.8 166.4h.01M264.3 172.4h.01M261.0 161.8h.01M262.9 174.0h.01M258.6 161.0h.01M259.9 167.5h.01M283.1 174.0h.01M282.7 171.8h.01M280.8 174.1h.01M283.4 173.4h.01M282.5 173.8h.01M282.5 174.5h.01M281.9 174.1h.01M283.3 170.2h.01M267.3 205.6h.01M273.7 209.2h.01M269.7 209.0h.01M277.0 204.2h.01M273.5 199.6h.01M270.9 199.2h.01M280.1 209.0h.01M273.1 199.1h.01M265.5 208.3h.01M279.7 204.6h.01M275.2 209.3h.01M278.3 202.2h.01M279.3 210.6h.01M279.7 209.5h.01M275.4 208.6h.01M279.7 202.1h.01M271.1 200.7h.01M276.6 208.8h.01M272.2 199.9h.01M274.6 209.9h.01M277.7 203.1h.01M271.0 202.4h.01M276.2 209.4h.01M272.6 199.5h.01M279.0 211.2h.01M272.6 199.1h.01M278.8 211.1h.01M266.3 208.2h.01M275.5 202.4h.01M278.0 202.3h.01M276.6 209.6h.01M266.5 207.8h.01M280.3 207.2h.01M274.9 202.1h.01M271.2 201.8h.01M278.0 211.3h.01M274.9 208.8h.01M276.7 208.4h.01M268.7 209.0h.01M271.2 201.0h.01M271.4 200.9h.01M267.5 209.1h.01M276.5 203.3h.01M279.6 209.6h.01M278.0 202.2h.01M271.8 208.4h.01M270.0 209.5h.01M279.5 210.3h.01M275.4 203.5h.01M279.0 202.0h.01M278.8 210.7h.01M278.1 210.9h.01M268.0 208.7h.01M278.3 201.9h.01M277.3 210.6h.01M279.6 205.1h.01M266.4 206.9h.01M279.9 206.1h.01M268.0 209.4h.01M274.5 201.8h.01" stroke="#b4b4b4" stroke-width="1.25" stroke-linecap="round" fill="none"/>
<path d="M242.7 154.5h.01M244.0 154.0h.01M245.8 153.6h.01M247.6 154.0h.01M249.1 152.7h.01M246.7 154.2h.01M263.3 137.3h.01M266.3 136.1h.01M268.5 135.7h.01M270.3 137.8h.01M274.3 136.4h.01M267.3 137.0h.01M254.8 141.0h.01M257.1 140.7h.01M253.1 142.8h.01M259.3 147.6h.01M248.6 151.1h.01M264.6 151.1h.01M268.5 150.6h.01M304.5 164.2h.01M306.3 166.4h.01M305.1 169.6h.01M305.8 172.7h.01M306.3 174.5h.01M305.3 165.1h.01M305.4 191.5h.01M304.5 193.6h.01M300.3 196.4h.01M303.6 199.1h.01M305.1 200.9h.01M306.9 201.8h.01M308.7 201.3h.01M307.3 199.5h.01M306.1 201.4h.01M300.3 211.3h.01M271.4 176.5h.01M271.8 177.1h.01M292.7 179.6h.01M275.4 189.1h.01" stroke="#ababab" stroke-width="1.6" stroke-linecap="round" fill="none"/>
<path d="M242.7 154.5h.01M244.0 154.0h.01M245.8 153.6h.01M247.6 154.0h.01M249.1 152.7h.01M246.7 154.2h.01M263.3 137.3h.01M266.3 136.1h.01M268.5 135.7h.01M270.3 137.8h.01M274.3 136.4h.01M267.3 137.0h.01M254.8 141.0h.01M257.1 140.7h.01M253.1 142.8h.01M304.5 164.2h.01M306.3 166.4h.01M305.1 169.6h.01M305.8 172.7h.01M306.3 174.5h.01M305.3 165.1h.01M305.4 191.5h.01M304.5 193.6h.01M300.3 196.4h.01M303.6 199.1h.01M305.1 200.9h.01M306.9 201.8h.01M308.7 201.3h.01M307.3 199.5h.01M306.1 201.4h.01M300.3 211.3h.01M292.7 179.6h.01M275.4 189.1h.01" stroke="#e8361d" stroke-width="1.6" stroke-linecap="round" fill="none"/>
<path d="M266.4 130.1h.01M242.0 127.4h.01M265.1 124.7h.01M267.6 130.1h.01M272.1 125.3h.01M253.4 124.9h.01M256.2 127.8h.01M263.3 131.0h.01M260.6 121.5h.01M258.2 130.3h.01M269.7 131.7h.01M247.4 128.2h.01M241.8 128.2h.01M249.2 130.7h.01M243.7 127.1h.01M259.4 122.0h.01M267.5 124.1h.01M249.2 126.6h.01M269.4 129.2h.01M257.4 126.6h.01M244.6 121.2h.01M271.2 124.7h.01M259.9 132.6h.01M243.8 128.9h.01M247.0 128.9h.01M243.8 127.5h.01M257.7 132.0h.01M249.6 128.9h.01M243.2 121.7h.01M298.9 116.8h.01M302.0 112.5h.01M293.6 90.2h.01M294.0 94.0h.01M301.2 95.2h.01M290.5 119.8h.01M301.7 91.8h.01M296.0 105.6h.01M301.7 104.3h.01M298.5 114.5h.01M304.5 102.4h.01M298.4 114.4h.01M299.9 113.9h.01M301.6 90.1h.01M304.6 95.8h.01M305.5 96.9h.01M303.5 98.6h.01M301.4 89.3h.01M298.5 109.4h.01M295.1 92.7h.01M298.3 102.4h.01M297.9 86.8h.01M293.6 102.2h.01M299.9 89.3h.01M301.4 125.4h.01M291.8 87.4h.01M295.0 88.2h.01M299.6 116.8h.01M303.2 132.3h.01M303.1 97.4h.01M291.9 112.4h.01M301.2 125.2h.01M303.4 91.4h.01M302.0 125.1h.01M292.9 101.2h.01M292.4 91.9h.01M299.2 104.5h.01M300.7 114.8h.01M294.0 93.5h.01M302.9 96.7h.01M298.8 114.5h.01M302.3 100.6h.01M292.0 87.8h.01M293.0 93.8h.01M300.2 100.9h.01M300.1 107.5h.01M302.7 127.8h.01M300.7 109.4h.01M300.7 114.1h.01M302.0 120.9h.01M299.4 109.1h.01M291.8 96.1h.01M298.1 115.2h.01M300.0 120.6h.01M299.1 98.0h.01M303.8 122.2h.01M301.4 100.1h.01M302.3 121.3h.01M264.7 153.3h.01M266.1 153.4h.01M266.4 154.2h.01M263.1 169.2h.01M261.3 170.2h.01M259.1 161.1h.01M282.9 171.9h.01M277.2 203.4h.01M272.1 204.8h.01" stroke="#e38a73" stroke-width="1.05" stroke-linecap="round" fill="none"/>
<path d="M244.9 120.0h.01M264.4 129.2h.01M257.8 122.3h.01M262.3 130.9h.01M251.2 127.1h.01M261.0 131.9h.01M268.1 127.3h.01M249.6 126.7h.01M258.9 123.3h.01M240.6 125.2h.01M240.8 125.4h.01M243.2 125.2h.01M243.4 119.8h.01M243.9 125.5h.01M244.9 130.4h.01M247.8 131.6h.01M256.9 125.8h.01M251.6 127.9h.01M242.1 130.3h.01M264.7 130.4h.01M258.1 121.7h.01M247.6 122.6h.01M241.3 124.8h.01M272.8 127.5h.01M255.5 133.9h.01M255.6 129.3h.01M302.3 92.6h.01M303.2 104.2h.01M295.4 93.6h.01M295.0 94.5h.01M301.3 95.7h.01M300.9 118.4h.01M295.2 103.3h.01M304.0 104.3h.01M300.6 114.1h.01M297.7 95.3h.01M296.9 96.3h.01M299.1 102.6h.01M303.0 95.0h.01M299.0 94.5h.01M295.8 87.7h.01M301.9 101.7h.01M303.2 100.8h.01M297.9 99.5h.01M302.1 106.5h.01M303.4 131.1h.01M300.7 125.8h.01M294.4 94.4h.01M299.8 92.5h.01M297.3 86.5h.01M295.1 90.8h.01M305.2 99.1h.01M299.6 122.5h.01M294.9 108.0h.01M303.3 130.1h.01M300.0 106.0h.01M303.1 121.9h.01M292.7 104.5h.01M302.3 89.7h.01M304.4 99.4h.01M304.4 98.1h.01M299.2 91.7h.01M300.2 95.8h.01M298.4 108.8h.01M302.1 116.5h.01M300.3 103.8h.01M301.2 102.6h.01M298.0 110.7h.01M293.5 88.1h.01M300.5 92.6h.01M302.6 91.2h.01M294.9 91.8h.01M298.8 107.0h.01M298.2 96.9h.01M300.3 115.8h.01M299.1 88.7h.01M300.4 88.7h.01M300.9 103.4h.01M299.6 123.5h.01M300.6 126.9h.01M298.2 114.0h.01M293.0 100.4h.01M293.9 105.5h.01M292.5 95.4h.01M302.4 129.3h.01M304.6 97.5h.01M298.9 111.8h.01M290.9 98.3h.01M266.2 152.2h.01M281.8 173.0h.01M269.0 207.3h.01M279.8 203.5h.01M275.8 206.2h.01M268.0 206.6h.01M270.5 206.2h.01" stroke="#e8361d" stroke-width="1.35" stroke-linecap="round" fill="none"/>
<path d="M264.9 127.0q-1.3 2.6 -.6 5.6" stroke="#fff" stroke-width=".7" fill="none" opacity=".75"/>
<path d="M273.1 203.2h.01" stroke="#fff" stroke-width="1.7" stroke-linecap="round"/>
<path d="M274.3 205.0h.01" stroke="#fff" stroke-width="1" stroke-linecap="round"/>
<rect x="236.3" y="76.8" width="77.3" height="150.3" fill="none" stroke="#444" stroke-width=".75"/>
<path d="M272.7 292.5C272.9 292.7 273.1 294.8 273.5 296.3C273.9 297.9 274.7 299.4 274.7 301.1C274.7 302.8 274.3 304.6 273.6 305.8C272.9 307.0 271.8 307.1 271.0 307.7C270.1 308.3 269.9 309.0 269.2 309.0C268.5 309.0 267.9 307.4 267.0 307.6C266.1 307.8 265.4 309.0 264.5 309.9C263.7 310.9 263.1 311.7 262.4 312.8C261.7 313.9 261.0 314.7 260.9 315.8C260.8 317.0 261.1 318.0 261.7 319.0C262.3 320.0 263.2 321.1 264.1 321.4C265.1 321.7 266.2 320.5 266.9 320.7C267.5 320.8 267.8 321.5 267.6 322.2C267.5 322.9 266.8 323.8 266.0 324.3C265.2 324.9 264.1 324.7 263.3 325.3C262.5 325.8 261.5 326.7 261.6 327.3C261.7 328.0 263.3 328.2 263.8 328.9C264.3 329.7 264.5 330.4 264.4 331.3C264.3 332.3 263.4 332.9 263.0 334.0C262.7 335.1 262.8 336.6 262.4 337.4C262.0 338.2 261.4 338.5 260.8 338.3C260.2 338.2 259.9 337.3 259.0 336.5C258.1 335.8 257.4 334.9 256.0 334.3C254.7 333.8 253.2 333.6 251.6 333.6C250.0 333.6 248.8 334.3 247.4 334.3C246.0 334.3 245.1 334.4 244.2 333.7C243.2 333.0 242.7 332.1 242.3 330.6C241.9 329.0 242.0 327.1 242.1 325.1C242.2 323.1 242.2 321.3 242.6 319.5C243.0 317.8 243.2 316.7 244.2 315.6C245.2 314.6 246.8 314.9 248.0 313.9C249.2 312.8 249.6 311.4 250.6 310.1C251.6 308.7 252.2 307.7 253.3 306.6C254.4 305.6 255.3 305.2 256.7 304.5C258.0 303.9 259.3 303.9 260.9 303.1C262.4 302.4 263.7 301.3 265.2 300.3C266.8 299.3 268.2 298.4 269.5 297.5C270.7 296.5 271.6 296.0 272.2 295.1C272.8 294.2 272.4 292.3 272.7 292.5ZM270.9 339.0C271.1 339.2 271.8 341.2 272.3 342.8C272.7 344.4 272.7 346.8 273.4 347.7C274.1 348.6 275.1 348.1 275.9 347.8C276.7 347.6 277.5 345.9 277.6 346.3C277.6 346.6 276.5 348.4 276.0 349.7C275.4 350.9 274.7 351.8 274.7 353.0C274.6 354.2 275.6 355.0 275.5 356.2C275.3 357.3 274.5 358.1 273.9 359.2C273.3 360.4 272.7 361.3 272.3 362.5C271.9 363.6 272.2 364.6 271.8 365.6C271.3 366.6 270.5 367.0 269.9 367.9C269.3 368.8 268.9 369.7 268.4 370.2C267.8 370.8 267.3 371.2 266.9 371.0C266.4 370.7 265.9 370.0 265.8 368.9C265.8 367.8 266.2 366.4 266.6 365.1C267.1 363.8 267.7 363.2 268.1 361.9C268.6 360.6 268.9 359.3 268.9 357.8C269.0 356.3 268.6 355.3 268.6 353.8C268.7 352.4 269.0 351.3 269.3 349.9C269.7 348.4 270.2 347.4 270.5 346.0C270.8 344.5 270.9 343.2 270.9 341.9C271.0 340.7 270.6 338.9 270.9 339.0ZM283.7 340.1C283.7 340.5 283.4 341.0 283.1 341.3C282.8 341.6 282.3 341.9 281.9 341.9C281.5 341.9 281.0 341.6 280.7 341.3C280.4 341.0 280.2 340.5 280.2 340.1C280.2 339.7 280.4 339.2 280.7 338.9C281.0 338.6 281.5 338.4 281.9 338.4C282.3 338.4 282.8 338.6 283.1 338.9C283.4 339.2 283.7 339.7 283.7 340.1ZM304.9 327.2C305.2 327.2 305.6 329.1 306.1 330.8C306.6 332.5 307.3 334.2 307.7 336.4C308.1 338.6 308.2 340.4 308.3 342.7C308.4 345.0 308.2 346.9 308.0 349.0C307.8 351.0 307.1 351.9 307.2 353.8C307.4 355.8 308.3 357.7 308.8 359.5C309.3 361.3 309.7 361.7 309.9 363.4C310.1 365.2 310.1 366.9 309.9 368.9C309.7 370.9 309.3 372.4 308.8 374.4C308.3 376.4 307.9 378.3 307.2 380.0C306.6 381.7 306.0 383.1 305.4 383.7C304.7 384.2 304.7 383.8 303.9 382.9C303.1 382.1 302.1 380.7 301.1 379.1C300.1 377.5 299.2 376.2 298.5 374.4C297.8 372.5 297.5 370.9 297.4 368.9C297.3 366.9 297.3 365.3 297.7 363.5C298.0 361.6 298.8 360.2 299.3 358.7C299.7 357.2 300.4 356.5 300.1 355.3C299.8 354.1 298.6 353.4 297.6 352.0C296.7 350.5 295.7 348.9 294.7 347.3C293.8 345.7 292.8 344.2 292.4 343.4C292.0 342.6 292.0 342.5 292.6 343.0C293.1 343.5 294.3 344.7 295.4 346.1C296.5 347.6 297.5 349.5 298.6 350.8C299.7 352.2 300.7 353.7 301.5 353.4C302.2 353.0 302.4 351.0 302.8 349.1C303.2 347.1 303.5 345.1 303.7 342.7C303.9 340.4 303.9 338.5 304.0 336.3C304.1 334.1 304.3 332.4 304.5 330.8C304.7 329.1 304.6 327.2 304.9 327.2Z" fill="#e8361d"/>
<path d="M272.6 291.6h.01M262.0 300.2h.01M241.6 294.4h.01M252.1 295.4h.01M257.9 297.4h.01M244.3 292.0h.01M253.5 285.6h.01M251.1 305.6h.01M263.4 296.1h.01M259.6 287.2h.01M251.4 301.9h.01M255.9 291.6h.01M261.7 290.6h.01M244.6 296.4h.01M256.6 292.7h.01M257.2 295.1h.01M254.0 286.9h.01M265.4 294.0h.01M252.1 290.6h.01M271.6 294.4h.01M240.9 293.3h.01M245.3 289.6h.01M255.2 287.5h.01M251.1 294.7h.01M250.1 295.7h.01M273.3 293.3h.01M250.8 289.3h.01M261.7 292.0h.01M245.6 296.1h.01M256.9 293.8h.01M251.7 294.2h.01M245.6 291.0h.01M270.5 290.6h.01M268.2 288.2h.01M246.3 293.7h.01M252.5 293.7h.01M245.3 286.0h.01M247.4 290.6h.01M259.0 288.9h.01M271.2 291.6h.01M247.0 286.9h.01M253.2 283.8h.01M254.2 295.1h.01M244.3 285.4h.01M261.7 297.1h.01M257.9 288.4h.01M267.1 288.2h.01M243.9 298.5h.01M264.7 295.1h.01M261.3 288.9h.01M261.3 297.8h.01M256.6 289.9h.01M247.4 296.1h.01M246.3 286.5h.01M244.6 297.8h.01M265.1 290.6h.01M269.2 288.2h.01M255.9 294.4h.01M254.0 284.8h.01M256.6 288.1h.01M242.2 294.0h.01M254.9 292.7h.01M254.4 286.0h.01M244.8 290.3h.01M260.0 297.8h.01M256.0 290.8h.01M253.5 290.6h.01M254.9 290.3h.01M240.2 293.8h.01M264.1 293.3h.01M258.6 298.5h.01M259.6 295.9h.01M253.2 297.8h.01M291.8 260.6h.01M292.4 260.0h.01M291.5 261.4h.01M292.2 261.3h.01M297.3 279.4h.01M297.8 279.5h.01M278.2 367.8h.01M276.9 369.4h.01M275.0 369.7h.01" stroke="#b4b4b4" stroke-width="1.25" stroke-linecap="round" fill="none"/>
<path d="M266.5 320.5h.01M265.6 300.2h.01M256.0 305.2h.01M250.0 311.3h.01M263.7 331.9h.01M262.1 336.9h.01M271.4 308.2h.01M270.5 308.2h.01M262.7 320.1h.01M262.0 326.2h.01M273.5 296.8h.01M261.0 317.5h.01M257.5 335.6h.01M247.9 333.9h.01M267.0 308.0h.01M265.2 309.8h.01M242.1 331.9h.01M262.2 326.6h.01M264.0 329.6h.01M256.3 333.7h.01M271.7 294.1h.01M249.7 334.3h.01M265.0 324.4h.01M263.0 320.6h.01M247.9 313.4h.01M242.9 320.8h.01M263.8 328.5h.01M267.7 323.5h.01M266.8 299.0h.01M248.9 333.8h.01M257.2 336.5h.01M272.5 293.4h.01M245.4 334.5h.01M254.3 305.9h.01M262.2 325.5h.01M263.5 311.4h.01M271.2 295.7h.01M258.9 304.2h.01M261.9 315.7h.01M265.7 320.9h.01M250.5 334.4h.01M271.5 295.5h.01M258.5 336.3h.01M271.9 307.0h.01M246.5 333.8h.01M271.5 297.0h.01M269.2 308.8h.01M263.1 327.8h.01M258.0 335.7h.01M261.2 338.2h.01M265.3 300.6h.01M266.8 308.7h.01M262.6 319.9h.01M265.2 310.2h.01M242.8 331.4h.01M269.7 309.1h.01M267.3 321.5h.01M269.2 308.9h.01M262.5 325.8h.01M271.3 307.8h.01M256.2 334.4h.01M274.1 298.2h.01M265.2 309.1h.01M260.9 337.9h.01M273.4 297.9h.01M263.6 325.4h.01M272.8 293.6h.01M254.7 306.6h.01M243.5 334.1h.01M258.4 303.8h.01M244.6 315.5h.01M273.0 292.8h.01M243.2 318.2h.01M258.1 335.6h.01M262.4 337.6h.01M263.1 332.9h.01M273.7 295.2h.01M251.0 334.3h.01M258.4 335.7h.01M270.3 296.4h.01M250.4 333.5h.01M252.4 307.4h.01M255.0 305.8h.01M264.2 324.6h.01M263.4 333.3h.01M265.8 301.3h.01M252.1 334.2h.01M242.2 322.6h.01M248.1 334.7h.01M272.4 293.7h.01M249.0 334.5h.01M264.0 310.1h.01M245.2 315.6h.01M248.5 313.1h.01M272.0 294.8h.01M261.6 314.7h.01M245.2 315.4h.01M242.2 326.3h.01M243.3 333.1h.01M266.3 321.3h.01M256.9 335.7h.01M270.2 296.8h.01M248.7 334.1h.01M264.0 328.9h.01M262.0 338.2h.01M273.4 294.0h.01M261.3 302.9h.01M251.0 309.8h.01M273.6 297.9h.01M261.1 303.2h.01M263.7 311.0h.01M266.6 320.6h.01M257.8 335.9h.01M265.2 321.3h.01M266.2 324.3h.01M262.2 336.1h.01M247.3 334.4h.01M266.0 300.1h.01M264.1 320.7h.01M267.2 298.1h.01M267.8 321.1h.01M263.4 325.1h.01M272.8 293.8h.01M254.3 333.8h.01M262.4 334.9h.01M264.8 309.3h.01M262.4 328.3h.01M262.2 335.4h.01M266.2 309.0h.01M265.3 321.4h.01M263.8 329.3h.01M261.8 327.7h.01M261.7 316.8h.01M253.9 306.5h.01M267.6 309.0h.01M264.2 310.6h.01M261.3 314.4h.01M261.8 338.3h.01M269.7 309.2h.01M256.4 304.4h.01M251.7 309.1h.01M273.3 306.6h.01M261.9 302.1h.01M258.9 336.3h.01M266.7 323.5h.01M243.0 330.5h.01M263.2 324.9h.01M251.6 309.2h.01M272.0 293.2h.01M273.8 299.9h.01M264.0 320.9h.01M273.5 297.5h.01M272.0 294.7h.01M253.3 306.6h.01M248.2 313.7h.01M242.4 330.3h.01M260.5 338.3h.01M256.3 334.3h.01M272.0 293.3h.01M244.9 334.2h.01M269.1 297.3h.01M265.9 321.2h.01M270.5 308.4h.01M247.2 334.0h.01M273.0 294.3h.01M271.4 295.5h.01M266.6 307.6h.01M264.5 310.8h.01M271.5 294.9h.01M248.9 313.2h.01M269.8 296.2h.01M256.3 334.9h.01M266.9 321.5h.01M263.9 330.9h.01M243.0 318.9h.01M242.6 322.2h.01M258.0 335.9h.01M262.1 327.5h.01M271.0 307.8h.01M271.9 295.2h.01M273.5 296.3h.01M243.1 318.0h.01M272.3 293.2h.01M266.7 321.7h.01M267.3 321.2h.01M269.3 309.6h.01M263.1 336.8h.01M263.3 311.4h.01M263.5 325.5h.01M262.6 326.4h.01M261.7 315.1h.01M271.3 306.7h.01M242.1 328.6h.01M272.0 294.2h.01M261.4 326.4h.01M272.1 295.1h.01M261.7 302.7h.01M268.3 307.9h.01M259.0 337.3h.01M261.9 314.0h.01M255.0 306.0h.01M266.4 299.5h.01M268.0 298.2h.01M267.4 321.5h.01M256.1 304.4h.01M259.3 303.7h.01M266.3 323.4h.01M272.4 294.8h.01M266.9 298.4h.01M250.9 334.2h.01M272.5 294.5h.01M273.1 306.8h.01M242.5 318.5h.01M258.3 335.5h.01M272.8 294.9h.01M258.0 303.2h.01M272.8 296.5h.01M267.0 307.5h.01M263.3 328.8h.01M264.8 309.4h.01M260.3 303.4h.01M262.6 333.3h.01M273.7 296.9h.01M241.9 328.3h.01M269.2 297.0h.01M267.5 322.5h.01M267.1 307.6h.01M262.2 337.2h.01M274.4 300.6h.01M274.3 303.6h.01M266.3 307.4h.01M267.3 322.8h.01M245.3 314.4h.01M274.0 301.7h.01M269.2 308.9h.01M241.9 325.0h.01M253.4 333.3h.01M243.9 316.7h.01M251.6 333.5h.01M243.9 317.6h.01M262.5 312.6h.01M267.2 308.4h.01M244.6 315.1h.01M263.7 329.0h.01M263.6 332.9h.01M264.0 332.5h.01M250.6 309.7h.01M269.7 308.8h.01M250.6 310.6h.01M265.9 324.5h.01M252.5 307.9h.01M261.3 326.5h.01M266.2 300.0h.01M262.3 316.8h.01M268.0 321.5h.01M256.9 336.0h.01M263.4 335.4h.01M274.3 298.0h.01M268.7 308.6h.01M264.1 329.0h.01M274.0 358.4h.01M272.6 343.5h.01M270.0 347.6h.01M273.0 346.8h.01M266.5 366.9h.01M269.0 357.5h.01M266.6 369.9h.01M266.5 368.3h.01M275.5 356.6h.01M268.1 360.9h.01M267.8 370.7h.01M271.9 362.4h.01M269.6 358.4h.01M267.4 370.9h.01M266.4 368.0h.01M271.3 341.6h.01M273.5 361.2h.01M276.4 347.6h.01M270.9 343.8h.01M271.5 342.1h.01M275.5 355.5h.01M270.3 345.3h.01M269.0 368.8h.01M275.9 350.9h.01M268.6 350.5h.01M266.4 369.5h.01M270.5 367.8h.01M272.0 363.5h.01M266.3 365.6h.01M275.0 347.5h.01M275.3 356.3h.01M275.7 352.0h.01M268.8 369.7h.01M275.3 350.7h.01M268.7 354.6h.01M265.8 369.1h.01M278.0 346.3h.01M274.6 350.9h.01M272.7 363.3h.01M269.5 348.2h.01M272.5 361.6h.01M272.7 346.7h.01M268.2 357.2h.01M269.7 357.4h.01M269.2 357.2h.01M272.0 363.9h.01M271.3 342.2h.01M267.0 370.3h.01M276.8 347.1h.01M266.6 369.8h.01M275.7 356.9h.01M269.0 357.6h.01M271.1 366.9h.01M271.5 365.5h.01M273.9 353.0h.01M273.8 347.8h.01M274.8 357.9h.01M274.4 358.7h.01M272.1 363.8h.01M270.5 340.3h.01M272.5 342.1h.01M267.5 362.5h.01M277.3 347.1h.01M271.1 342.2h.01M274.8 347.6h.01M272.9 359.0h.01M266.9 364.5h.01M266.3 366.2h.01M271.1 340.9h.01M270.1 346.0h.01M274.9 347.9h.01M274.2 353.6h.01M272.6 361.2h.01M267.2 371.1h.01M270.1 348.4h.01M275.7 355.5h.01M272.5 363.7h.01M271.0 339.9h.01M269.0 353.9h.01M269.9 349.4h.01M270.2 342.0h.01M270.5 347.3h.01M266.0 369.2h.01M268.6 358.6h.01M270.0 343.3h.01M271.3 339.9h.01M277.1 347.3h.01M273.9 347.8h.01M275.9 350.5h.01M268.9 370.0h.01M282.4 341.4h.01M280.6 339.3h.01M282.3 341.9h.01M282.6 339.5h.01M282.8 341.4h.01M280.5 339.8h.01M280.1 340.1h.01M280.8 341.0h.01M298.2 361.6h.01M298.6 375.3h.01M301.6 352.1h.01M308.9 373.9h.01M308.2 345.0h.01M304.8 333.6h.01M308.3 359.3h.01M307.4 334.0h.01M294.7 346.6h.01M295.0 345.2h.01M303.5 341.0h.01M308.1 358.7h.01M295.6 347.5h.01M307.9 339.7h.01M297.4 364.2h.01M304.1 330.8h.01M303.7 382.7h.01M294.7 347.7h.01M292.2 342.2h.01M299.0 359.7h.01M305.7 331.1h.01M293.6 344.5h.01M302.0 379.9h.01M302.3 350.8h.01M304.3 328.7h.01M306.2 329.6h.01M304.1 330.3h.01M294.5 345.0h.01M299.5 356.8h.01M299.9 357.4h.01M308.7 357.9h.01M305.6 329.7h.01M309.7 371.3h.01M298.4 350.2h.01M295.2 348.4h.01M296.0 347.7h.01M299.7 357.7h.01M304.8 328.9h.01M297.3 363.2h.01M309.9 365.4h.01M309.3 342.1h.01M299.9 356.2h.01M298.7 374.5h.01M296.7 368.3h.01M302.8 348.0h.01M292.4 343.0h.01M304.6 328.4h.01M305.6 383.3h.01M295.9 348.7h.01M294.5 345.0h.01M293.2 343.3h.01M309.5 359.6h.01M309.3 372.9h.01M307.6 355.5h.01M300.8 378.6h.01M304.9 329.9h.01M300.8 351.9h.01M308.3 351.3h.01M297.6 362.4h.01M307.5 348.7h.01M298.2 363.0h.01M303.0 348.4h.01M298.4 353.3h.01M309.0 339.6h.01M307.9 376.7h.01M296.9 365.8h.01M299.5 354.3h.01M307.6 379.5h.01M298.0 353.4h.01M307.1 356.0h.01M298.8 361.6h.01M298.2 352.1h.01M309.2 362.4h.01M307.2 354.8h.01M295.3 345.0h.01M295.2 346.6h.01M307.9 336.5h.01M302.8 347.5h.01M308.3 348.3h.01M301.8 380.7h.01M308.2 377.7h.01M306.4 331.7h.01M309.3 372.8h.01M305.9 383.0h.01M309.0 369.9h.01M293.5 344.2h.01M307.2 376.3h.01M301.9 352.3h.01M306.0 332.9h.01M304.5 383.7h.01M297.8 367.4h.01M302.5 349.3h.01M300.3 353.9h.01M308.3 375.2h.01M298.6 361.0h.01M295.2 344.9h.01M302.8 382.2h.01M294.8 348.2h.01M308.3 346.7h.01M299.1 351.9h.01M300.1 356.0h.01M308.0 339.0h.01M297.7 362.1h.01M307.6 353.6h.01M304.2 334.6h.01M295.0 347.9h.01M309.8 365.6h.01M297.6 367.9h.01M307.9 343.4h.01M302.8 348.2h.01M304.1 333.5h.01M309.0 362.4h.01M305.4 382.9h.01M296.3 347.5h.01M301.1 352.6h.01M305.8 384.0h.01M297.8 351.3h.01M306.8 381.2h.01M308.2 344.9h.01M304.9 331.1h.01M293.3 344.1h.01M299.0 350.1h.01M295.5 349.0h.01M299.0 354.4h.01M302.0 380.6h.01M305.2 329.4h.01M299.3 351.8h.01M306.3 332.9h.01M305.3 384.3h.01M309.2 365.7h.01M293.9 344.8h.01M307.8 377.5h.01M307.6 380.3h.01M303.4 381.4h.01M296.3 349.5h.01M297.8 369.8h.01M299.4 350.8h.01M304.0 334.5h.01M297.1 349.0h.01M297.8 365.3h.01M303.4 381.9h.01M295.1 345.6h.01M305.2 384.0h.01M309.7 360.9h.01M306.0 382.6h.01M307.2 337.7h.01M302.7 347.4h.01M304.2 339.4h.01M303.7 347.1h.01M299.3 376.1h.01" stroke="#e8361d" stroke-width="1.25" stroke-linecap="round" fill="none"/>
<path d="M272.6 291.6h.01M262.0 300.2h.01M241.6 294.4h.01M252.1 295.4h.01M257.9 297.4h.01M244.3 292.0h.01M253.5 285.6h.01M251.1 305.6h.01M263.4 296.1h.01M259.6 287.2h.01M251.4 301.9h.01M255.9 291.6h.01M261.7 290.6h.01M244.6 296.4h.01M256.6 292.7h.01M257.2 295.1h.01M254.0 286.9h.01M265.4 294.0h.01M252.1 290.6h.01M271.6 294.4h.01M240.9 293.3h.01M245.3 289.6h.01M255.2 287.5h.01M251.1 294.7h.01M250.1 295.7h.01M273.3 293.3h.01M250.8 289.3h.01M261.7 292.0h.01M245.6 296.1h.01M256.9 293.8h.01M251.7 294.2h.01M245.6 291.0h.01M270.5 290.6h.01M268.2 288.2h.01M246.3 293.7h.01M252.5 293.7h.01M245.3 286.0h.01M247.4 290.6h.01M259.0 288.9h.01M271.2 291.6h.01M247.0 286.9h.01M253.2 283.8h.01M254.2 295.1h.01M244.3 285.4h.01M261.7 297.1h.01M257.9 288.4h.01M267.1 288.2h.01M243.9 298.5h.01M264.7 295.1h.01M261.3 288.9h.01M261.3 297.8h.01M256.6 289.9h.01M247.4 296.1h.01M246.3 286.5h.01M244.6 297.8h.01M265.1 290.6h.01M269.2 288.2h.01M255.9 294.4h.01M254.0 284.8h.01M256.6 288.1h.01M242.2 294.0h.01M254.9 292.7h.01M254.4 286.0h.01M244.8 290.3h.01M260.0 297.8h.01M256.0 290.8h.01M253.5 290.6h.01M254.9 290.3h.01M291.8 260.6h.01M292.4 260.0h.01M291.5 261.4h.01M292.2 261.3h.01M297.3 279.4h.01M297.8 279.5h.01" stroke="#e8361d" stroke-width="1.5" stroke-linecap="round" fill="none"/>
<path d="M278.2 367.8h.01" stroke="#e38a73" stroke-width="1.05" stroke-linecap="round" fill="none"/>
<path d="M276.9 369.4h.01" stroke="#e8361d" stroke-width="1.35" stroke-linecap="round" fill="none"/>
<path d="M254.1 327.3h.01M272.5 297.5h.01M256.3 305.6h.01M247.2 323.0h.01M272.2 305.8h.01M263.6 304.5h.01M249.7 320.7h.01M257.0 313.4h.01M252.4 317.4h.01M249.6 326.7h.01M268.5 302.2h.01M267.3 303.0h.01M250.5 328.8h.01M262.3 323.7h.01M254.6 314.1h.01M252.6 313.2h.01M262.3 321.1h.01M273.0 300.9h.01M253.6 326.3h.01M257.0 322.0h.01M254.3 312.6h.01M251.2 322.9h.01M258.0 310.8h.01M261.1 330.2h.01M255.1 326.9h.01M258.0 318.3h.01M273.9 301.3h.01M266.7 300.7h.01M255.9 305.6h.01M249.8 327.7h.01M271.0 305.3h.01M264.7 309.4h.01M271.0 305.6h.01M255.0 329.8h.01M259.3 305.8h.01M253.3 331.1h.01M260.1 327.1h.01M250.2 317.5h.01M259.2 312.7h.01M252.6 318.6h.01M261.3 304.0h.01M260.7 331.8h.01M271.2 302.0h.01M257.8 305.1h.01M250.0 322.3h.01M256.5 315.5h.01M251.3 312.6h.01M271.9 305.3h.01M244.9 322.0h.01M254.9 327.8h.01M255.8 306.3h.01M262.3 307.4h.01M269.5 305.3h.01M250.1 318.1h.01M246.0 332.4h.01M261.8 311.2h.01M263.5 309.8h.01M251.8 321.4h.01M269.1 305.1h.01M259.9 321.4h.01M274.3 352.8h.01M271.7 357.4h.01M268.8 363.0h.01M272.6 347.7h.01M266.5 369.7h.01M269.5 356.9h.01M274.8 348.0h.01M267.3 365.9h.01M271.7 353.5h.01M275.2 350.0h.01M272.5 358.0h.01M275.1 355.1h.01M272.1 351.3h.01M267.2 367.3h.01M267.4 369.6h.01M270.1 361.2h.01M270.9 342.3h.01M270.3 351.4h.01M309.9 366.0h.01M305.6 351.6h.01M306.4 353.3h.01M304.7 348.4h.01M303.6 343.8h.01M307.7 343.4h.01M304.4 336.5h.01M301.8 369.9h.01M302.9 358.7h.01M307.0 358.5h.01M303.9 345.8h.01M305.8 336.7h.01M304.7 356.9h.01M304.0 358.8h.01" stroke="#b4b4b4" stroke-width="1.05" stroke-linecap="round" fill="none"/>
<path d="M261.9 321.6h.01" stroke="#fff" stroke-width="2.0" stroke-linecap="round"/>
<path d="M263.6 325.3h.01" stroke="#fff" stroke-width="2.2" stroke-linecap="round"/>
<path d="M262.3 318.2h.01" stroke="#fff" stroke-width="1.1" stroke-linecap="round"/>
<path d="M259.5 331.4h.01" stroke="#fff" stroke-width="1.2" stroke-linecap="round"/>
<path d="M262.5 329.4h.01" stroke="#fff" stroke-width="1.5" stroke-linecap="round"/>
<path d="M263.1 334.0h.01" stroke="#fff" stroke-width="1.2" stroke-linecap="round"/>
<path d="M257.6 326.4h.01" stroke="#fff" stroke-width="0.9" stroke-linecap="round"/>
<path d="M264.9 327.4h.01" stroke="#fff" stroke-width="1.3" stroke-linecap="round"/>
<path d="M260.9 323.8h.01" stroke="#fff" stroke-width="1.2" stroke-linecap="round"/>
<rect x="236.3" y="240.4" width="77.3" height="150.3" fill="none" stroke="#444" stroke-width=".75"/>
<path d="M385.2 85.2C386.3 85.2 387.7 85.4 389.1 86.1C390.5 86.8 391.9 87.9 393.1 89.2C394.3 90.5 395.0 91.6 395.7 93.2C396.4 94.7 396.7 96.0 396.8 97.7C396.8 99.4 396.4 100.8 396.0 102.4C395.5 104.0 394.8 104.9 394.3 106.4C393.7 108.0 393.2 109.1 393.0 110.6C392.7 112.2 392.9 113.3 393.2 114.9C393.4 116.4 393.9 117.4 394.3 119.0C394.7 120.6 395.2 122.0 395.4 123.8C395.6 125.5 395.5 126.7 395.4 128.3C395.2 130.0 394.6 132.2 394.3 133.0C394.0 133.8 394.2 133.5 393.8 132.6C393.3 131.8 392.3 129.9 391.7 128.2C391.1 126.6 390.9 125.3 390.4 123.6C390.0 121.9 389.9 120.6 389.4 118.8C389.0 117.0 388.7 115.5 388.0 113.9C387.4 112.4 386.7 110.4 386.0 110.3C385.3 110.1 384.7 111.8 384.1 113.2C383.5 114.7 383.2 116.3 382.7 118.1C382.2 119.8 381.9 121.3 381.4 122.9C380.9 124.5 380.3 126.2 380.0 126.8C379.8 127.5 379.7 127.5 379.9 126.4C380.0 125.3 380.5 122.8 380.8 121.0C381.2 119.1 381.5 118.0 381.8 116.3C382.2 114.5 382.4 113.1 382.6 111.5C382.9 109.8 383.2 108.8 383.1 107.3C383.1 105.8 382.9 104.6 382.6 103.1C382.4 101.6 382.1 100.6 381.8 99.0C381.6 97.4 381.3 96.0 381.2 94.3C381.2 92.6 381.5 91.1 381.8 89.6C382.2 88.2 382.4 87.2 383.0 86.4C383.7 85.6 384.1 85.3 385.2 85.2ZM331.4 125.5C331.5 124.1 331.8 122.4 332.3 121.1C332.9 119.8 333.5 119.2 334.5 118.6C335.4 117.9 336.2 117.6 337.4 117.5C338.7 117.5 340.0 118.0 341.3 118.1C342.7 118.3 343.6 118.2 345.0 118.4C346.4 118.7 347.7 119.1 349.1 119.5C350.4 120.0 351.5 120.3 352.6 120.9C353.7 121.5 354.3 122.1 355.3 122.7C356.2 123.3 356.8 123.9 357.7 124.0C358.7 124.2 359.5 123.4 360.5 123.4C361.4 123.5 362.3 123.9 363.0 124.5C363.8 125.0 364.4 125.6 364.7 126.5C364.9 127.4 364.8 128.5 364.5 129.4C364.2 130.3 363.8 130.9 363.0 131.4C362.3 132.0 361.3 132.0 360.4 132.3C359.4 132.5 358.7 132.9 357.9 132.8C357.1 132.6 356.8 131.4 356.1 131.4C355.4 131.3 354.9 132.0 354.1 132.3C353.2 132.5 352.2 132.5 351.3 132.8C350.4 133.0 349.9 133.3 349.0 133.7C348.1 134.1 347.3 134.8 346.3 135.1C345.3 135.3 344.2 135.3 343.4 135.1C342.7 134.8 342.8 134.1 342.1 133.7C341.4 133.3 340.4 133.0 339.5 133.2C338.6 133.3 337.6 134.1 337.1 134.7C336.6 135.2 336.9 136.1 336.6 136.0C336.3 135.8 336.0 134.6 335.5 133.8C334.9 133.1 334.3 132.9 333.7 132.0C333.0 131.1 332.2 130.1 331.8 129.0C331.4 127.8 331.4 127.0 331.4 125.5ZM354.8 151.5C355.0 151.1 355.9 150.9 356.6 151.1C357.4 151.3 358.5 151.6 358.8 152.4C359.2 153.3 358.6 154.5 358.5 155.8C358.4 157.0 358.2 158.3 358.1 159.3C358.0 160.2 358.0 160.7 357.8 160.9C357.7 161.0 357.6 160.9 357.3 160.2C357.0 159.4 356.7 157.9 356.3 156.7C355.9 155.5 355.6 154.7 355.3 153.7C355.0 152.8 354.5 152.0 354.8 151.5ZM349.4 161.0C349.6 160.0 350.5 160.4 351.3 160.9C352.0 161.3 352.7 162.4 353.4 163.5C354.2 164.6 354.9 165.5 355.2 166.9C355.5 168.2 355.3 169.5 355.3 170.8C355.3 172.1 355.3 173.4 355.0 173.9C354.6 174.4 354.0 174.3 353.4 173.6C352.9 172.9 352.5 171.5 352.0 170.2C351.4 168.8 350.8 168.0 350.3 166.3C349.8 164.6 349.2 162.0 349.4 161.0ZM372.0 170.8C372.3 170.1 373.3 169.9 373.7 170.3C374.1 170.7 374.3 172.0 374.2 172.8C374.1 173.6 373.8 174.4 373.4 174.6C373.0 174.8 372.3 174.7 372.0 174.0C371.7 173.3 371.7 171.5 372.0 170.8ZM357.3 207.5C357.6 206.8 358.0 205.6 358.7 204.8C359.5 204.0 360.8 203.9 361.5 203.0C362.1 202.0 361.9 200.5 362.4 199.8C362.8 199.1 363.4 198.7 364.0 199.1C364.5 199.5 364.5 201.3 365.3 202.1C366.0 202.9 367.1 203.6 367.9 203.5C368.6 203.5 368.8 201.9 369.4 201.7C369.9 201.6 370.4 202.0 370.7 202.9C371.0 203.7 371.2 205.0 371.2 206.4C371.1 207.8 370.8 209.8 370.3 210.7C369.8 211.6 369.2 211.6 368.5 211.4C367.9 211.1 367.7 209.7 366.7 209.2C365.7 208.7 364.2 208.7 362.9 208.7C361.6 208.6 360.4 209.2 359.3 209.2C358.3 209.1 357.6 208.5 357.2 208.2C356.8 207.9 357.0 208.1 357.3 207.5Z" fill="#b4b4b4"/>
<path d="M390.4 121.4h.01M381.7 91.4h.01M381.5 94.3h.01M381.2 91.6h.01M395.0 120.8h.01M381.5 117.4h.01M394.6 90.6h.01M381.9 91.3h.01M383.1 105.3h.01M394.3 118.6h.01M392.9 130.9h.01M383.7 114.8h.01M383.4 108.7h.01M393.1 88.7h.01M395.1 127.4h.01M393.5 110.1h.01M388.1 113.2h.01M381.4 93.5h.01M393.9 119.3h.01M392.9 110.8h.01M380.9 124.9h.01M389.4 118.9h.01M395.9 92.9h.01M390.0 118.2h.01M382.7 120.4h.01M380.8 118.8h.01M393.9 108.9h.01M382.6 103.8h.01M382.2 103.2h.01M388.6 85.9h.01M381.4 118.0h.01M380.6 124.4h.01M386.7 111.2h.01M392.9 89.5h.01M382.7 119.5h.01M388.5 117.8h.01M392.9 88.9h.01M383.6 85.9h.01M394.5 131.4h.01M381.3 122.4h.01M395.3 123.9h.01M382.5 101.9h.01M394.4 132.5h.01M387.4 112.5h.01M379.5 126.8h.01M386.9 112.0h.01M382.4 111.4h.01M382.6 89.1h.01M383.5 104.9h.01M395.3 91.7h.01M385.5 111.4h.01M385.8 110.7h.01M385.7 84.8h.01M395.7 93.0h.01M384.2 114.5h.01M396.4 97.2h.01M387.4 113.9h.01M396.2 95.2h.01M393.2 110.5h.01M394.6 118.3h.01M381.8 116.3h.01M382.8 107.7h.01M396.6 96.7h.01M381.9 89.6h.01M384.2 85.9h.01M381.2 117.8h.01M393.6 132.7h.01M387.9 86.0h.01M394.8 128.7h.01M382.2 118.2h.01M395.5 94.9h.01M383.1 107.5h.01M392.6 130.1h.01M383.1 106.4h.01M382.7 119.5h.01M388.9 117.4h.01M381.5 117.4h.01M393.1 109.4h.01M389.8 119.9h.01M392.9 109.7h.01M380.8 126.7h.01M382.2 90.2h.01M396.0 102.1h.01M390.3 122.2h.01M396.4 95.5h.01M396.7 99.1h.01M381.3 114.5h.01M382.9 107.6h.01M383.5 107.9h.01M380.7 94.0h.01M395.3 123.3h.01M382.3 100.6h.01M393.3 132.9h.01M385.0 111.9h.01M386.1 110.9h.01M380.8 119.9h.01M382.4 91.6h.01M381.8 91.5h.01M390.9 86.9h.01M382.6 112.4h.01M390.2 123.6h.01M396.2 102.0h.01M394.2 133.1h.01M395.4 93.5h.01M383.0 119.3h.01M393.1 110.8h.01M379.9 126.3h.01M390.0 87.3h.01M392.4 129.4h.01M394.0 117.3h.01M383.7 106.3h.01M393.4 108.1h.01M380.4 122.8h.01M389.6 118.2h.01M393.0 113.5h.01M384.5 112.2h.01M394.9 119.5h.01M392.2 110.8h.01M382.7 108.8h.01M382.9 116.9h.01M394.0 131.7h.01M380.0 126.9h.01M392.9 115.0h.01M383.6 86.3h.01M396.6 99.2h.01M386.6 111.3h.01M393.1 111.8h.01M382.5 111.8h.01M395.3 122.6h.01M395.4 126.6h.01M386.2 109.6h.01M381.4 119.3h.01M382.9 86.2h.01M381.5 94.7h.01M393.0 109.3h.01M381.8 97.8h.01M385.2 85.3h.01M384.3 113.0h.01M395.3 105.0h.01M391.0 125.9h.01M381.3 123.7h.01M393.6 114.6h.01M394.9 91.7h.01M392.1 128.2h.01M391.2 126.1h.01M396.0 101.3h.01M381.3 90.9h.01M381.6 88.8h.01M382.1 114.2h.01M388.6 117.3h.01M382.3 115.2h.01M379.7 125.7h.01M393.3 132.3h.01M389.3 86.3h.01M395.7 128.7h.01M382.6 111.1h.01M395.1 90.9h.01M391.2 127.3h.01M380.4 125.5h.01M396.3 97.9h.01M361.4 132.0h.01M355.7 131.1h.01M363.9 125.3h.01M336.3 118.0h.01M334.1 118.5h.01M351.6 120.3h.01M338.6 133.1h.01M346.0 135.6h.01M364.5 127.5h.01M339.0 117.7h.01M337.6 135.1h.01M341.4 133.4h.01M346.3 119.0h.01M337.4 134.8h.01M356.1 131.4h.01M364.7 129.3h.01M338.8 133.3h.01M344.2 135.5h.01M337.3 135.0h.01M362.2 131.4h.01M363.3 125.1h.01M331.6 128.5h.01M337.0 118.3h.01M345.5 119.3h.01M338.6 117.6h.01M354.2 131.8h.01M362.2 124.2h.01M348.2 119.3h.01M351.5 132.7h.01M333.5 131.5h.01M335.2 133.8h.01M337.8 133.8h.01M345.6 135.5h.01M350.1 133.3h.01M331.8 123.3h.01M363.4 124.0h.01M343.7 135.3h.01M350.1 134.0h.01M332.9 120.3h.01M350.2 119.7h.01M352.7 120.7h.01M331.8 126.2h.01M352.7 120.6h.01M336.6 134.7h.01M333.2 120.2h.01M337.8 117.9h.01M334.3 119.6h.01M356.9 123.5h.01M351.7 120.7h.01M360.0 123.6h.01M358.2 131.7h.01M336.5 136.0h.01M358.9 123.7h.01M353.7 121.3h.01M361.6 132.3h.01M341.5 133.5h.01M343.7 118.4h.01M333.0 121.0h.01M364.9 125.5h.01M333.4 120.2h.01M333.5 131.1h.01M339.2 118.4h.01M359.3 132.6h.01M364.6 129.4h.01M337.6 134.6h.01M336.9 134.8h.01M361.8 124.2h.01M332.5 123.6h.01M361.4 131.1h.01M335.1 133.8h.01M348.8 134.5h.01M335.7 135.0h.01M362.3 132.0h.01M357.4 133.0h.01M363.8 130.8h.01M352.8 132.7h.01M356.3 131.9h.01M337.8 134.9h.01M362.5 124.6h.01M336.1 135.4h.01M348.0 119.0h.01M333.8 120.1h.01M361.9 124.0h.01M364.3 129.9h.01M355.1 122.0h.01M340.6 117.5h.01M336.6 133.7h.01M343.3 135.4h.01M355.8 123.0h.01M358.5 133.4h.01M347.4 119.3h.01M332.2 125.1h.01M346.2 118.6h.01M342.0 118.0h.01M364.3 128.8h.01M331.8 124.4h.01M343.2 118.1h.01M333.0 127.8h.01M359.2 133.1h.01M360.4 132.0h.01M341.2 132.8h.01M352.6 132.4h.01M343.4 118.1h.01M350.6 132.4h.01M360.5 123.3h.01M357.7 124.2h.01M333.3 119.9h.01M331.9 125.1h.01M351.5 132.5h.01M335.5 117.9h.01M352.2 133.0h.01M363.6 125.5h.01M337.8 134.3h.01M336.5 135.2h.01M344.9 118.6h.01M362.3 124.6h.01M355.9 123.4h.01M334.8 133.2h.01M350.7 133.1h.01M350.2 133.8h.01M365.0 127.3h.01M333.8 119.4h.01M334.7 133.1h.01M363.6 125.7h.01M347.5 134.9h.01M360.7 124.1h.01M344.7 118.8h.01M348.3 119.4h.01M354.8 132.2h.01M336.1 136.1h.01M339.7 117.7h.01M344.6 118.7h.01M336.7 135.3h.01M337.6 135.2h.01M347.1 119.2h.01M347.5 133.9h.01M363.7 129.5h.01M332.9 132.0h.01M361.1 123.5h.01M364.0 131.0h.01M347.2 133.9h.01M351.5 120.4h.01M358.3 132.5h.01M352.1 133.3h.01M335.3 134.1h.01M361.0 131.9h.01M358.2 123.6h.01M363.6 126.3h.01M331.5 126.5h.01M362.6 131.6h.01M351.0 120.0h.01M341.7 118.7h.01M364.2 129.5h.01M361.2 124.4h.01M335.8 134.8h.01M353.1 121.5h.01M342.1 133.5h.01M358.7 123.7h.01M343.3 134.4h.01M353.1 120.8h.01M355.4 132.0h.01M363.3 123.8h.01M360.5 132.7h.01M363.6 131.5h.01M360.0 132.4h.01M344.8 118.9h.01M343.9 118.6h.01M334.8 133.1h.01M331.2 127.4h.01M335.4 134.2h.01M354.5 152.1h.01M358.7 160.1h.01M357.4 161.0h.01M357.4 160.7h.01M357.6 160.2h.01M357.8 152.2h.01M355.9 156.4h.01M356.3 158.7h.01M355.9 155.1h.01M356.0 151.0h.01M354.9 152.7h.01M357.9 160.6h.01M357.7 159.1h.01M357.9 159.6h.01M354.6 151.4h.01M357.8 159.7h.01M358.6 152.4h.01M356.5 156.2h.01M358.6 152.7h.01M355.6 153.2h.01M356.6 158.1h.01M356.5 159.1h.01M357.5 159.7h.01M355.2 151.0h.01M358.1 158.4h.01M349.7 160.5h.01M355.2 174.7h.01M352.3 161.9h.01M350.2 164.0h.01M354.7 170.7h.01M353.4 163.3h.01M348.8 164.6h.01M351.5 169.1h.01M355.0 172.9h.01M353.7 174.6h.01M351.4 161.0h.01M349.7 163.6h.01M355.3 168.6h.01M355.1 167.9h.01M353.9 174.0h.01M355.3 168.0h.01M354.2 174.0h.01M352.4 170.9h.01M352.6 171.2h.01M351.8 168.8h.01M355.3 166.0h.01M353.5 164.2h.01M352.1 162.2h.01M353.9 173.6h.01M351.3 160.3h.01M349.8 161.6h.01M351.4 169.2h.01M352.0 161.8h.01M355.4 168.1h.01M350.7 166.4h.01M355.2 172.4h.01M351.9 161.8h.01M353.8 174.0h.01M349.5 161.0h.01M350.8 167.5h.01M374.0 174.0h.01M373.6 171.8h.01M371.7 174.1h.01M374.3 173.4h.01M373.4 173.8h.01M373.4 174.5h.01M372.8 174.1h.01M374.2 170.2h.01M358.2 205.6h.01M364.6 209.2h.01M360.6 209.0h.01M367.9 204.2h.01M364.4 199.6h.01M361.8 199.2h.01M371.0 209.0h.01M364.0 199.1h.01M356.4 208.3h.01M370.6 204.6h.01M366.1 209.3h.01M369.2 202.2h.01M370.2 210.6h.01M370.6 209.5h.01M366.3 208.6h.01M370.6 202.1h.01M362.0 200.7h.01M367.5 208.8h.01M363.1 199.9h.01M365.5 209.9h.01M368.6 203.1h.01M361.9 202.4h.01M367.1 209.4h.01M363.5 199.5h.01M369.9 211.2h.01M363.5 199.1h.01M369.7 211.1h.01M357.2 208.2h.01M366.4 202.4h.01M368.9 202.3h.01M367.5 209.6h.01M357.4 207.8h.01M371.2 207.2h.01M365.8 202.1h.01M362.1 201.8h.01M368.9 211.3h.01M365.8 208.8h.01M367.6 208.4h.01M359.6 209.0h.01M362.1 201.0h.01M362.3 200.9h.01M358.4 209.1h.01M367.4 203.3h.01M370.5 209.6h.01M368.9 202.2h.01M362.7 208.4h.01M360.9 209.5h.01M370.4 210.3h.01M366.3 203.5h.01M369.9 202.0h.01M369.7 210.7h.01M369.0 210.9h.01M358.9 208.7h.01M369.2 201.9h.01M368.2 210.6h.01M370.5 205.1h.01M357.3 206.9h.01M370.8 206.1h.01M358.9 209.4h.01M365.4 201.8h.01" stroke="#b4b4b4" stroke-width="1.25" stroke-linecap="round" fill="none"/>
<path d="M333.6 154.5h.01M334.9 154.0h.01M336.7 153.6h.01M338.5 154.0h.01M340.0 152.7h.01M337.6 154.2h.01M354.2 137.3h.01M357.2 136.1h.01M359.4 135.7h.01M361.2 137.8h.01M365.2 136.4h.01M358.2 137.0h.01M345.7 141.0h.01M348.0 140.7h.01M344.0 142.8h.01M350.2 147.6h.01M339.5 151.1h.01M355.5 151.1h.01M359.4 150.6h.01M395.4 164.2h.01M397.2 166.4h.01M396.0 169.6h.01M396.7 172.7h.01M397.2 174.5h.01M396.2 165.1h.01M396.3 191.5h.01M395.4 193.6h.01M391.2 196.4h.01M394.5 199.1h.01M396.0 200.9h.01M397.8 201.8h.01M399.6 201.3h.01M398.2 199.5h.01M397.0 201.4h.01M391.2 211.3h.01M362.3 176.5h.01M362.7 177.1h.01M383.6 179.6h.01M366.3 189.1h.01" stroke="#ababab" stroke-width="1.6" stroke-linecap="round" fill="none"/>
<path d="M333.6 154.5h.01M334.9 154.0h.01M336.7 153.6h.01M338.5 154.0h.01M340.0 152.7h.01M337.6 154.2h.01M354.2 137.3h.01M357.2 136.1h.01M359.4 135.7h.01M361.2 137.8h.01M365.2 136.4h.01M358.2 137.0h.01M345.7 141.0h.01M348.0 140.7h.01M344.0 142.8h.01M395.4 164.2h.01M397.2 166.4h.01M396.0 169.6h.01M396.7 172.7h.01M397.2 174.5h.01M396.2 165.1h.01M396.3 191.5h.01M395.4 193.6h.01M391.2 196.4h.01M394.5 199.1h.01M396.0 200.9h.01M397.8 201.8h.01M399.6 201.3h.01M398.2 199.5h.01M397.0 201.4h.01M391.2 211.3h.01M383.6 179.6h.01M366.3 189.1h.01" stroke="#e8361d" stroke-width="1.6" stroke-linecap="round" fill="none"/>
<path d="M345.5 121.3h.01M346.0 120.6h.01M339.1 130.9h.01M362.3 131.3h.01M337.3 132.7h.01M354.2 128.7h.01M336.0 125.6h.01M343.7 131.8h.01M332.3 121.9h.01M337.1 128.9h.01M334.6 120.9h.01M335.1 125.6h.01M344.5 134.5h.01M352.6 127.7h.01M354.1 131.9h.01M344.9 123.6h.01M359.6 130.2h.01M346.1 122.4h.01M350.0 127.3h.01M344.4 128.5h.01M345.9 132.1h.01M346.9 123.5h.01M349.3 129.3h.01M358.5 127.2h.01M346.0 125.0h.01M333.4 122.6h.01M339.6 130.2h.01M344.6 129.5h.01M351.3 121.9h.01M341.3 132.8h.01M353.2 126.6h.01M336.2 126.2h.01M344.8 124.3h.01M342.7 131.5h.01M351.3 126.2h.01M359.4 125.6h.01M346.1 132.7h.01M332.6 128.6h.01M346.5 125.2h.01M341.3 119.4h.01M347.9 130.4h.01M338.6 124.2h.01M338.5 121.0h.01M362.5 130.5h.01M334.7 131.7h.01M344.2 124.4h.01M336.7 118.1h.01M335.3 132.4h.01M335.8 119.9h.01M358.3 131.5h.01M362.3 126.4h.01M335.1 128.2h.01M344.9 127.4h.01M340.2 123.2h.01M361.4 126.7h.01M334.4 132.2h.01M384.5 87.9h.01M386.1 107.6h.01M391.6 114.2h.01M383.0 95.2h.01M386.4 97.6h.01M388.4 113.7h.01M393.4 95.4h.01M382.2 94.5h.01M391.9 108.3h.01M392.5 127.2h.01M388.3 91.8h.01M391.6 121.1h.01M390.1 106.3h.01M394.1 122.3h.01M391.1 92.7h.01M391.5 92.0h.01M393.8 106.8h.01M386.4 103.7h.01M389.7 117.5h.01M391.4 90.5h.01M387.4 86.6h.01M389.2 96.1h.01M384.6 90.3h.01M385.6 93.8h.01M391.3 89.1h.01M386.4 93.3h.01M390.4 98.6h.01M388.0 102.2h.01M389.7 105.7h.01M392.8 112.8h.01M392.0 115.6h.01M391.6 127.5h.01M390.2 91.8h.01M387.1 95.8h.01M388.0 105.3h.01M388.8 93.9h.01M383.2 95.4h.01M393.9 106.9h.01M395.9 94.0h.01M390.6 102.2h.01M394.1 98.3h.01M389.7 106.1h.01M392.4 99.3h.01M391.5 112.9h.01M393.5 101.2h.01M393.5 93.5h.01M393.6 129.2h.01M390.8 91.3h.01M394.9 92.5h.01M390.8 105.7h.01M389.3 95.7h.01M391.1 109.2h.01M392.9 96.8h.01M388.5 95.3h.01M393.8 93.2h.01M394.1 102.2h.01M385.5 91.2h.01M384.3 86.2h.01M383.3 87.9h.01M390.0 118.6h.01M394.5 128.9h.01M394.9 94.0h.01M390.3 113.2h.01M393.2 125.9h.01M382.7 88.3h.01M394.4 127.2h.01M393.0 111.8h.01M382.1 96.6h.01M391.8 110.3h.01M382.3 118.0h.01M385.1 90.8h.01M388.5 100.8h.01M392.1 104.8h.01M391.0 104.0h.01M385.8 108.0h.01M388.6 94.3h.01M387.3 107.0h.01M389.6 107.8h.01M392.7 115.3h.01M388.9 94.1h.01M386.4 108.0h.01M392.5 102.3h.01M392.5 106.0h.01M388.7 108.1h.01M390.6 100.3h.01M386.6 106.7h.01M388.7 103.9h.01M387.0 86.1h.01M389.8 100.2h.01M392.2 99.7h.01M392.7 127.4h.01M388.7 93.0h.01M388.6 110.7h.01M394.4 124.5h.01M393.0 95.8h.01M391.0 100.7h.01M357.2 157.6h.01M356.9 157.7h.01M356.9 157.4h.01M357.3 158.4h.01M354.1 166.0h.01M354.6 166.4h.01M355.1 170.2h.01M352.4 169.2h.01M352.4 165.9h.01M352.3 167.6h.01M351.7 164.7h.01M352.3 169.2h.01M353.7 173.6h.01M372.9 171.5h.01M373.5 173.7h.01M373.0 172.8h.01M369.7 210.9h.01M369.1 202.5h.01M363.5 200.1h.01M362.0 202.6h.01M364.7 204.5h.01M359.2 208.3h.01M369.8 207.3h.01M367.7 206.4h.01M363.5 202.8h.01M370.1 208.1h.01M363.9 207.7h.01M370.6 207.9h.01M362.6 200.2h.01M362.4 202.7h.01M370.0 206.5h.01M369.9 209.7h.01M363.0 206.4h.01M361.9 202.8h.01M362.2 206.1h.01M365.0 202.4h.01" stroke="#e38a73" stroke-width="1.05" stroke-linecap="round" fill="none"/>
<path d="M357.6 130.6h.01M336.8 122.4h.01M334.8 130.1h.01M347.6 121.6h.01M333.6 122.9h.01M334.6 128.8h.01M348.1 125.0h.01M352.2 129.9h.01M354.4 122.8h.01M357.3 125.8h.01M333.3 129.4h.01M344.8 118.6h.01M349.2 130.2h.01M342.1 131.8h.01M363.4 124.9h.01M345.6 128.6h.01M336.9 118.8h.01M337.2 124.3h.01M341.7 129.0h.01M353.5 129.7h.01M343.5 133.8h.01M357.2 130.3h.01M349.5 120.4h.01M354.4 124.2h.01M344.0 134.7h.01M343.7 134.3h.01M337.8 134.2h.01M363.3 127.6h.01M340.1 124.4h.01M333.8 123.0h.01M334.9 119.0h.01M362.6 129.9h.01M350.9 130.8h.01M355.6 126.6h.01M359.5 130.7h.01M344.7 123.7h.01M352.8 129.7h.01M332.7 127.9h.01M342.3 127.3h.01M337.9 126.5h.01M343.4 123.6h.01M343.6 129.3h.01M335.9 131.5h.01M347.2 129.5h.01M359.7 131.6h.01M346.2 124.0h.01M357.6 128.0h.01M353.8 121.9h.01M344.0 125.6h.01M337.5 126.8h.01M358.7 125.4h.01M335.6 118.2h.01M335.4 122.3h.01M338.5 126.4h.01M356.4 127.6h.01M354.0 131.4h.01M337.9 121.9h.01M351.1 123.6h.01M353.8 127.2h.01M341.9 125.4h.01M355.5 130.5h.01M345.1 131.6h.01M349.1 127.1h.01M338.9 122.8h.01M364.2 126.2h.01M343.5 127.6h.01M340.5 120.3h.01M354.5 126.7h.01M336.9 127.5h.01M361.8 124.9h.01M348.3 122.2h.01M339.8 130.3h.01M338.8 131.6h.01M342.9 132.8h.01M350.6 124.4h.01M334.2 127.0h.01M333.9 124.3h.01M346.0 119.5h.01M340.0 120.7h.01M333.3 121.7h.01M344.5 124.4h.01M358.5 126.9h.01M337.2 125.3h.01M341.7 132.7h.01M386.7 86.9h.01M382.9 112.1h.01M387.5 94.1h.01M389.3 88.5h.01M385.7 89.5h.01M386.8 93.5h.01M385.4 95.1h.01M393.0 118.0h.01M387.1 107.1h.01M388.3 109.9h.01M388.7 92.9h.01M393.0 116.5h.01M385.7 97.9h.01M391.9 111.4h.01M393.2 107.6h.01M385.6 91.5h.01M394.2 126.6h.01M396.7 97.6h.01M394.0 121.3h.01M393.9 106.3h.01M391.7 114.5h.01M391.2 96.1h.01M390.6 93.5h.01M390.9 95.5h.01M390.3 88.2h.01M395.8 98.1h.01M393.6 101.4h.01M395.6 101.3h.01M383.4 106.3h.01M386.7 95.0h.01M385.5 108.0h.01M385.3 87.5h.01M390.2 111.2h.01M387.0 101.7h.01M386.5 92.0h.01M386.8 95.3h.01M386.2 105.7h.01M384.9 109.3h.01M389.8 99.0h.01M392.9 101.7h.01M393.5 128.9h.01M383.8 109.2h.01M386.7 91.0h.01M380.0 125.6h.01M389.8 101.3h.01M383.9 105.8h.01M388.1 95.2h.01M386.1 96.8h.01M383.3 105.2h.01M392.3 122.6h.01M385.1 110.5h.01M387.0 111.6h.01M386.7 98.8h.01M392.7 127.2h.01M392.9 108.7h.01M395.3 99.4h.01M392.4 105.2h.01M386.6 108.8h.01M389.1 93.9h.01M392.9 129.3h.01M392.2 121.3h.01M391.5 100.0h.01M389.5 95.5h.01M386.4 107.6h.01M386.5 87.8h.01M391.8 95.5h.01M386.0 98.8h.01M394.5 121.8h.01M394.2 99.7h.01M391.5 108.0h.01M392.7 90.4h.01M391.8 102.2h.01M393.8 127.5h.01M387.5 88.3h.01M391.9 105.1h.01M393.5 116.8h.01M393.1 94.2h.01M396.3 99.7h.01M393.7 104.3h.01M387.7 111.3h.01M394.3 131.3h.01M386.5 88.4h.01M386.9 100.4h.01M385.8 107.0h.01M383.7 113.8h.01M382.9 116.8h.01M389.4 86.5h.01M390.4 115.1h.01M385.7 98.4h.01M390.1 91.4h.01M392.5 125.5h.01M388.6 103.7h.01M382.3 116.4h.01M384.6 98.3h.01M391.7 106.1h.01M391.5 108.9h.01M388.5 103.0h.01M394.7 129.0h.01M386.6 93.4h.01M391.5 110.3h.01M390.5 90.8h.01M395.9 95.3h.01M386.3 96.5h.01M389.8 106.7h.01M385.9 93.8h.01M386.1 93.4h.01M390.1 99.3h.01M392.1 97.4h.01M391.6 104.0h.01M387.4 97.4h.01M394.2 98.6h.01M386.7 97.6h.01M394.7 127.2h.01M388.2 87.3h.01M393.0 127.2h.01M392.4 94.9h.01M392.3 123.9h.01M391.2 107.2h.01M389.0 99.0h.01M393.3 92.1h.01M391.7 127.6h.01M387.7 107.2h.01M394.5 121.0h.01M392.1 104.2h.01M388.6 103.1h.01M392.5 111.4h.01M386.2 89.4h.01M391.5 108.2h.01M392.5 127.7h.01M393.8 131.3h.01M391.4 108.4h.01M394.5 93.2h.01M391.4 113.4h.01M389.4 94.1h.01M394.4 124.4h.01M387.0 91.0h.01M383.8 90.8h.01M385.5 92.8h.01M393.8 122.8h.01M392.2 118.9h.01M391.2 125.6h.01M390.6 102.5h.01M390.3 105.9h.01M388.4 100.7h.01M387.3 99.8h.01M391.6 113.3h.01M390.8 123.8h.01M381.3 121.7h.01M383.4 102.6h.01M388.7 115.3h.01M388.7 99.3h.01M391.6 120.1h.01M384.6 101.6h.01M385.9 105.1h.01M357.2 159.0h.01M355.7 153.0h.01M355.7 153.7h.01M352.3 168.0h.01M353.1 169.4h.01M353.8 167.6h.01M351.4 165.9h.01M353.8 172.4h.01M354.1 169.3h.01M352.6 164.7h.01M354.4 170.1h.01M353.1 164.0h.01M350.7 161.1h.01M354.2 171.9h.01M354.5 172.0h.01M355.3 170.4h.01M352.3 170.5h.01M352.6 170.5h.01M352.6 164.7h.01M355.2 170.5h.01M354.8 169.0h.01M353.9 170.2h.01M367.6 204.5h.01M367.0 208.4h.01M368.0 205.3h.01M364.9 205.9h.01M362.0 207.8h.01M366.5 205.1h.01M365.2 202.4h.01M361.5 207.6h.01M363.7 203.9h.01M365.3 207.6h.01M362.7 205.7h.01M362.1 202.4h.01M364.1 204.3h.01M367.0 208.7h.01M368.6 203.9h.01M368.6 210.3h.01M364.2 202.6h.01M362.2 208.6h.01M367.8 207.0h.01M364.6 207.1h.01" stroke="#e8361d" stroke-width="1.35" stroke-linecap="round" fill="none"/>
<path d="M355.8 127.0q-1.3 2.6 -.6 5.6" stroke="#fff" stroke-width=".7" fill="none" opacity=".75"/>
<path d="M364.0 203.2h.01" stroke="#fff" stroke-width="1.7" stroke-linecap="round"/>
<path d="M365.2 205.0h.01" stroke="#fff" stroke-width="1" stroke-linecap="round"/>
<rect x="327.2" y="76.8" width="77.3" height="150.3" fill="none" stroke="#444" stroke-width=".75"/>
<path d="M363.6 292.5C363.8 292.7 364.0 294.8 364.4 296.3C364.8 297.9 365.6 299.4 365.6 301.1C365.6 302.8 365.2 304.6 364.5 305.8C363.8 307.0 362.7 307.1 361.9 307.7C361.0 308.3 360.8 309.0 360.1 309.0C359.4 309.0 358.8 307.4 357.9 307.6C357.0 307.8 356.3 309.0 355.4 309.9C354.6 310.9 354.0 311.7 353.3 312.8C352.6 313.9 351.9 314.7 351.8 315.8C351.7 317.0 352.0 318.0 352.6 319.0C353.2 320.0 354.1 321.1 355.0 321.4C356.0 321.7 357.1 320.5 357.8 320.7C358.4 320.8 358.7 321.5 358.5 322.2C358.4 322.9 357.7 323.8 356.9 324.3C356.1 324.9 355.0 324.7 354.2 325.3C353.4 325.8 352.4 326.7 352.5 327.3C352.6 328.0 354.2 328.2 354.7 328.9C355.2 329.7 355.4 330.4 355.3 331.3C355.2 332.3 354.3 332.9 353.9 334.0C353.6 335.1 353.7 336.6 353.3 337.4C352.9 338.2 352.3 338.5 351.7 338.3C351.1 338.2 350.8 337.3 349.9 336.5C349.0 335.8 348.3 334.9 346.9 334.3C345.6 333.8 344.1 333.6 342.5 333.6C340.9 333.6 339.7 334.3 338.3 334.3C336.9 334.3 336.0 334.4 335.1 333.7C334.1 333.0 333.6 332.1 333.2 330.6C332.8 329.0 332.9 327.1 333.0 325.1C333.1 323.1 333.1 321.3 333.5 319.5C333.9 317.8 334.1 316.7 335.1 315.6C336.1 314.6 337.7 314.9 338.9 313.9C340.1 312.8 340.5 311.4 341.5 310.1C342.5 308.7 343.1 307.7 344.2 306.6C345.3 305.6 346.2 305.2 347.6 304.5C348.9 303.9 350.2 303.9 351.8 303.1C353.3 302.4 354.6 301.3 356.1 300.3C357.7 299.3 359.1 298.4 360.4 297.5C361.6 296.5 362.5 296.0 363.1 295.1C363.7 294.2 363.3 292.3 363.6 292.5ZM361.8 339.0C362.0 339.2 362.7 341.2 363.2 342.8C363.6 344.4 363.6 346.8 364.3 347.7C365.0 348.6 366.0 348.1 366.8 347.8C367.6 347.6 368.4 345.9 368.5 346.3C368.5 346.6 367.4 348.4 366.9 349.7C366.3 350.9 365.6 351.8 365.6 353.0C365.5 354.2 366.5 355.0 366.4 356.2C366.2 357.3 365.4 358.1 364.8 359.2C364.2 360.4 363.6 361.3 363.2 362.5C362.8 363.6 363.1 364.6 362.7 365.6C362.2 366.6 361.4 367.0 360.8 367.9C360.2 368.8 359.8 369.7 359.3 370.2C358.7 370.8 358.2 371.2 357.8 371.0C357.3 370.7 356.8 370.0 356.7 368.9C356.7 367.8 357.1 366.4 357.5 365.1C358.0 363.8 358.6 363.2 359.0 361.9C359.5 360.6 359.8 359.3 359.8 357.8C359.9 356.3 359.5 355.3 359.5 353.8C359.6 352.4 359.9 351.3 360.2 349.9C360.6 348.4 361.1 347.4 361.4 346.0C361.7 344.5 361.8 343.2 361.8 341.9C361.9 340.7 361.5 338.9 361.8 339.0ZM374.6 340.1C374.6 340.5 374.3 341.0 374.0 341.3C373.7 341.6 373.2 341.9 372.8 341.9C372.4 341.9 371.9 341.6 371.6 341.3C371.3 341.0 371.1 340.5 371.1 340.1C371.1 339.7 371.3 339.2 371.6 338.9C371.9 338.6 372.4 338.4 372.8 338.4C373.2 338.4 373.7 338.6 374.0 338.9C374.3 339.2 374.6 339.7 374.6 340.1ZM395.8 327.2C396.1 327.2 396.5 329.1 397.0 330.8C397.5 332.5 398.2 334.2 398.6 336.4C399.0 338.6 399.1 340.4 399.2 342.7C399.3 345.0 399.1 346.9 398.9 349.0C398.7 351.0 398.0 351.9 398.1 353.8C398.3 355.8 399.2 357.7 399.7 359.5C400.2 361.3 400.6 361.7 400.8 363.4C401.0 365.2 401.0 366.9 400.8 368.9C400.6 370.9 400.2 372.4 399.7 374.4C399.2 376.4 398.8 378.3 398.1 380.0C397.5 381.7 396.9 383.1 396.3 383.7C395.6 384.2 395.6 383.8 394.8 382.9C394.0 382.1 393.0 380.7 392.0 379.1C391.0 377.5 390.1 376.2 389.4 374.4C388.7 372.5 388.4 370.9 388.3 368.9C388.2 366.9 388.2 365.3 388.6 363.5C388.9 361.6 389.7 360.2 390.2 358.7C390.6 357.2 391.3 356.5 391.0 355.3C390.7 354.1 389.5 353.4 388.5 352.0C387.6 350.5 386.6 348.9 385.6 347.3C384.7 345.7 383.7 344.2 383.3 343.4C382.9 342.6 382.9 342.5 383.5 343.0C384.0 343.5 385.2 344.7 386.3 346.1C387.4 347.6 388.4 349.5 389.5 350.8C390.6 352.2 391.6 353.7 392.4 353.4C393.1 353.0 393.3 351.0 393.7 349.1C394.1 347.1 394.4 345.1 394.6 342.7C394.8 340.4 394.8 338.5 394.9 336.3C395.0 334.1 395.2 332.4 395.4 330.8C395.6 329.1 395.5 327.2 395.8 327.2Z" fill="#e8361d"/>
<path d="M363.5 291.6h.01M352.9 300.2h.01M332.5 294.4h.01M343.0 295.4h.01M348.8 297.4h.01M335.2 292.0h.01M344.4 285.6h.01M342.0 305.6h.01M354.3 296.1h.01M350.5 287.2h.01M342.3 301.9h.01M346.8 291.6h.01M352.6 290.6h.01M335.5 296.4h.01M347.5 292.7h.01M348.1 295.1h.01M344.9 286.9h.01M356.3 294.0h.01M343.0 290.6h.01M362.5 294.4h.01M331.8 293.3h.01M336.2 289.6h.01M346.1 287.5h.01M342.0 294.7h.01M341.0 295.7h.01M364.2 293.3h.01M341.7 289.3h.01M352.6 292.0h.01M336.5 296.1h.01M347.8 293.8h.01M342.6 294.2h.01M336.5 291.0h.01M361.4 290.6h.01M359.1 288.2h.01M337.2 293.7h.01M343.4 293.7h.01M336.2 286.0h.01M338.3 290.6h.01M349.9 288.9h.01M362.1 291.6h.01M337.9 286.9h.01M344.1 283.8h.01M345.1 295.1h.01M335.2 285.4h.01M352.6 297.1h.01M348.8 288.4h.01M358.0 288.2h.01M334.8 298.5h.01M355.6 295.1h.01M352.2 288.9h.01M352.2 297.8h.01M347.5 289.9h.01M338.3 296.1h.01M337.2 286.5h.01M335.5 297.8h.01M356.0 290.6h.01M360.1 288.2h.01M346.8 294.4h.01M344.9 284.8h.01M347.5 288.1h.01M333.1 294.0h.01M345.8 292.7h.01M345.3 286.0h.01M335.7 290.3h.01M350.9 297.8h.01M346.9 290.8h.01M344.4 290.6h.01M345.8 290.3h.01M331.1 293.8h.01M355.0 293.3h.01M349.5 298.5h.01M350.5 295.9h.01M344.1 297.8h.01M382.7 260.6h.01M383.3 260.0h.01M382.4 261.4h.01M383.1 261.3h.01M388.2 279.4h.01M388.7 279.5h.01M369.1 367.8h.01M367.8 369.4h.01M365.9 369.7h.01" stroke="#b4b4b4" stroke-width="1.25" stroke-linecap="round" fill="none"/>
<path d="M357.4 320.5h.01M356.5 300.2h.01M346.9 305.2h.01M340.9 311.3h.01M354.6 331.9h.01M353.0 336.9h.01M362.3 308.2h.01M361.4 308.2h.01M353.6 320.1h.01M352.9 326.2h.01M364.4 296.8h.01M351.9 317.5h.01M348.4 335.6h.01M338.8 333.9h.01M357.9 308.0h.01M356.1 309.8h.01M333.0 331.9h.01M353.1 326.6h.01M354.9 329.6h.01M347.2 333.7h.01M362.6 294.1h.01M340.6 334.3h.01M355.9 324.4h.01M353.9 320.6h.01M338.8 313.4h.01M333.8 320.8h.01M354.7 328.5h.01M358.6 323.5h.01M357.7 299.0h.01M339.8 333.8h.01M348.1 336.5h.01M363.4 293.4h.01M336.3 334.5h.01M345.2 305.9h.01M353.1 325.5h.01M354.4 311.4h.01M362.1 295.7h.01M349.8 304.2h.01M352.8 315.7h.01M356.6 320.9h.01M341.4 334.4h.01M362.4 295.5h.01M349.4 336.3h.01M362.8 307.0h.01M337.4 333.8h.01M362.4 297.0h.01M360.1 308.8h.01M354.0 327.8h.01M348.9 335.7h.01M352.1 338.2h.01M356.2 300.6h.01M357.7 308.7h.01M353.5 319.9h.01M356.1 310.2h.01M333.7 331.4h.01M360.6 309.1h.01M358.2 321.5h.01M360.1 308.9h.01M353.4 325.8h.01M362.2 307.8h.01M347.1 334.4h.01M365.0 298.2h.01M356.1 309.1h.01M351.8 337.9h.01M364.3 297.9h.01M354.5 325.4h.01M363.7 293.6h.01M345.6 306.6h.01M334.4 334.1h.01M349.3 303.8h.01M335.5 315.5h.01M363.9 292.8h.01M334.1 318.2h.01M349.0 335.6h.01M353.3 337.6h.01M354.0 332.9h.01M364.6 295.2h.01M341.9 334.3h.01M349.3 335.7h.01M361.2 296.4h.01M341.3 333.5h.01M343.3 307.4h.01M345.9 305.8h.01M355.1 324.6h.01M354.3 333.3h.01M356.7 301.3h.01M343.0 334.2h.01M333.1 322.6h.01M339.0 334.7h.01M363.3 293.7h.01M339.9 334.5h.01M354.9 310.1h.01M336.1 315.6h.01M339.4 313.1h.01M362.9 294.8h.01M352.5 314.7h.01M336.1 315.4h.01M333.1 326.3h.01M334.2 333.1h.01M357.2 321.3h.01M347.8 335.7h.01M361.1 296.8h.01M339.6 334.1h.01M354.9 328.9h.01M352.9 338.2h.01M364.3 294.0h.01M352.2 302.9h.01M341.9 309.8h.01M364.5 297.9h.01M352.0 303.2h.01M354.6 311.0h.01M357.5 320.6h.01M348.7 335.9h.01M356.1 321.3h.01M357.1 324.3h.01M353.1 336.1h.01M338.2 334.4h.01M356.9 300.1h.01M355.0 320.7h.01M358.1 298.1h.01M358.7 321.1h.01M354.3 325.1h.01M363.7 293.8h.01M345.2 333.8h.01M353.3 334.9h.01M355.7 309.3h.01M353.3 328.3h.01M353.1 335.4h.01M357.1 309.0h.01M356.2 321.4h.01M354.7 329.3h.01M352.7 327.7h.01M352.6 316.8h.01M344.8 306.5h.01M358.5 309.0h.01M355.1 310.6h.01M352.2 314.4h.01M352.7 338.3h.01M360.6 309.2h.01M347.3 304.4h.01M342.6 309.1h.01M364.2 306.6h.01M352.8 302.1h.01M349.8 336.3h.01M357.6 323.5h.01M333.9 330.5h.01M354.1 324.9h.01M342.5 309.2h.01M362.9 293.2h.01M364.7 299.9h.01M354.9 320.9h.01M364.4 297.5h.01M362.9 294.7h.01M344.2 306.6h.01M339.1 313.7h.01M333.3 330.3h.01M351.4 338.3h.01M347.2 334.3h.01M362.9 293.3h.01M335.8 334.2h.01M360.0 297.3h.01M356.8 321.2h.01M361.4 308.4h.01M338.1 334.0h.01M363.9 294.3h.01M362.3 295.5h.01M357.5 307.6h.01M355.4 310.8h.01M362.4 294.9h.01M339.8 313.2h.01M360.7 296.2h.01M347.2 334.9h.01M357.8 321.5h.01M354.8 330.9h.01M333.9 318.9h.01M333.5 322.2h.01M348.9 335.9h.01M353.0 327.5h.01M361.9 307.8h.01M362.8 295.2h.01M364.4 296.3h.01M334.0 318.0h.01M363.2 293.2h.01M357.6 321.7h.01M358.2 321.2h.01M360.2 309.6h.01M354.0 336.8h.01M354.2 311.4h.01M354.4 325.5h.01M353.5 326.4h.01M352.6 315.1h.01M362.2 306.7h.01M333.0 328.6h.01M362.9 294.2h.01M352.3 326.4h.01M363.0 295.1h.01M352.6 302.7h.01M359.2 307.9h.01M349.9 337.3h.01M352.8 314.0h.01M345.9 306.0h.01M357.3 299.5h.01M358.9 298.2h.01M358.3 321.5h.01M347.0 304.4h.01M350.2 303.7h.01M357.2 323.4h.01M363.3 294.8h.01M357.8 298.4h.01M341.8 334.2h.01M363.4 294.5h.01M364.0 306.8h.01M333.4 318.5h.01M349.2 335.5h.01M363.7 294.9h.01M348.9 303.2h.01M363.7 296.5h.01M357.9 307.5h.01M354.2 328.8h.01M355.7 309.4h.01M351.2 303.4h.01M353.5 333.3h.01M364.6 296.9h.01M332.8 328.3h.01M360.1 297.0h.01M358.4 322.5h.01M358.0 307.6h.01M353.1 337.2h.01M365.3 300.6h.01M365.2 303.6h.01M357.2 307.4h.01M358.2 322.8h.01M336.2 314.4h.01M364.9 301.7h.01M360.1 308.9h.01M332.8 325.0h.01M344.3 333.3h.01M334.8 316.7h.01M342.5 333.5h.01M334.8 317.6h.01M353.4 312.6h.01M358.1 308.4h.01M335.5 315.1h.01M354.6 329.0h.01M354.5 332.9h.01M354.9 332.5h.01M341.5 309.7h.01M360.6 308.8h.01M341.5 310.6h.01M356.8 324.5h.01M343.4 307.9h.01M352.2 326.5h.01M357.1 300.0h.01M353.2 316.8h.01M358.9 321.5h.01M347.8 336.0h.01M354.3 335.4h.01M365.2 298.0h.01M359.6 308.6h.01M355.0 329.0h.01M364.9 358.4h.01M363.5 343.5h.01M360.9 347.6h.01M363.9 346.8h.01M357.4 366.9h.01M359.9 357.5h.01M357.5 369.9h.01M357.4 368.3h.01M366.4 356.6h.01M359.0 360.9h.01M358.7 370.7h.01M362.8 362.4h.01M360.5 358.4h.01M358.3 370.9h.01M357.3 368.0h.01M362.2 341.6h.01M364.4 361.2h.01M367.3 347.6h.01M361.8 343.8h.01M362.4 342.1h.01M366.4 355.5h.01M361.2 345.3h.01M359.9 368.8h.01M366.8 350.9h.01M359.5 350.5h.01M357.3 369.5h.01M361.4 367.8h.01M362.9 363.5h.01M357.2 365.6h.01M365.9 347.5h.01M366.2 356.3h.01M366.6 352.0h.01M359.7 369.7h.01M366.2 350.7h.01M359.6 354.6h.01M356.7 369.1h.01M368.9 346.3h.01M365.5 350.9h.01M363.6 363.3h.01M360.4 348.2h.01M363.4 361.6h.01M363.6 346.7h.01M359.1 357.2h.01M360.6 357.4h.01M360.1 357.2h.01M362.9 363.9h.01M362.2 342.2h.01M357.9 370.3h.01M367.7 347.1h.01M357.5 369.8h.01M366.6 356.9h.01M359.9 357.6h.01M362.0 366.9h.01M362.4 365.5h.01M364.8 353.0h.01M364.7 347.8h.01M365.7 357.9h.01M365.3 358.7h.01M363.0 363.8h.01M361.4 340.3h.01M363.4 342.1h.01M358.4 362.5h.01M368.2 347.1h.01M362.0 342.2h.01M365.7 347.6h.01M363.8 359.0h.01M357.8 364.5h.01M357.2 366.2h.01M362.0 340.9h.01M361.0 346.0h.01M365.8 347.9h.01M365.1 353.6h.01M363.5 361.2h.01M358.1 371.1h.01M361.0 348.4h.01M366.6 355.5h.01M363.4 363.7h.01M361.9 339.9h.01M359.9 353.9h.01M360.8 349.4h.01M361.1 342.0h.01M361.4 347.3h.01M356.9 369.2h.01M359.5 358.6h.01M360.9 343.3h.01M362.2 339.9h.01M368.0 347.3h.01M364.8 347.8h.01M366.8 350.5h.01M359.8 370.0h.01M373.3 341.4h.01M371.5 339.3h.01M373.2 341.9h.01M373.5 339.5h.01M373.7 341.4h.01M371.4 339.8h.01M371.0 340.1h.01M371.7 341.0h.01M389.1 361.6h.01M389.5 375.3h.01M392.5 352.1h.01M399.8 373.9h.01M399.1 345.0h.01M395.7 333.6h.01M399.2 359.3h.01M398.3 334.0h.01M385.6 346.6h.01M385.9 345.2h.01M394.4 341.0h.01M399.0 358.7h.01M386.5 347.5h.01M398.8 339.7h.01M388.3 364.2h.01M395.0 330.8h.01M394.6 382.7h.01M385.6 347.7h.01M383.1 342.2h.01M389.9 359.7h.01M396.6 331.1h.01M384.5 344.5h.01M392.9 379.9h.01M393.2 350.8h.01M395.2 328.7h.01M397.1 329.6h.01M395.0 330.3h.01M385.4 345.0h.01M390.4 356.8h.01M390.8 357.4h.01M399.6 357.9h.01M396.5 329.7h.01M400.6 371.3h.01M389.3 350.2h.01M386.1 348.4h.01M386.9 347.7h.01M390.6 357.7h.01M395.7 328.9h.01M388.2 363.2h.01M400.8 365.4h.01M400.2 342.1h.01M390.8 356.2h.01M389.6 374.5h.01M387.6 368.3h.01M393.7 348.0h.01M383.3 343.0h.01M395.5 328.4h.01M396.5 383.3h.01M386.8 348.7h.01M385.4 345.0h.01M384.1 343.3h.01M400.4 359.6h.01M400.2 372.9h.01M398.5 355.5h.01M391.7 378.6h.01M395.8 329.9h.01M391.7 351.9h.01M399.2 351.3h.01M388.5 362.4h.01M398.4 348.7h.01M389.1 363.0h.01M393.9 348.4h.01M389.3 353.3h.01M399.9 339.6h.01M398.8 376.7h.01M387.8 365.8h.01M390.4 354.3h.01M398.5 379.5h.01M388.9 353.4h.01M398.0 356.0h.01M389.7 361.6h.01M389.1 352.1h.01M400.1 362.4h.01M398.1 354.8h.01M386.2 345.0h.01M386.1 346.6h.01M398.8 336.5h.01M393.7 347.5h.01M399.2 348.3h.01M392.7 380.7h.01M399.1 377.7h.01M397.3 331.7h.01M400.2 372.8h.01M396.8 383.0h.01M399.9 369.9h.01M384.4 344.2h.01M398.1 376.3h.01M392.8 352.3h.01M396.9 332.9h.01M395.4 383.7h.01M388.7 367.4h.01M393.4 349.3h.01M391.2 353.9h.01M399.2 375.2h.01M389.5 361.0h.01M386.1 344.9h.01M393.7 382.2h.01M385.7 348.2h.01M399.2 346.7h.01M390.0 351.9h.01M391.0 356.0h.01M398.9 339.0h.01M388.6 362.1h.01M398.5 353.6h.01M395.1 334.6h.01M385.9 347.9h.01M400.7 365.6h.01M388.5 367.9h.01M398.8 343.4h.01M393.7 348.2h.01M395.0 333.5h.01M399.9 362.4h.01M396.3 382.9h.01M387.2 347.5h.01M392.0 352.6h.01M396.7 384.0h.01M388.7 351.3h.01M397.7 381.2h.01M399.1 344.9h.01M395.8 331.1h.01M384.2 344.1h.01M389.9 350.1h.01M386.4 349.0h.01M389.9 354.4h.01M392.9 380.6h.01M396.1 329.4h.01M390.2 351.8h.01M397.2 332.9h.01M396.2 384.3h.01M400.1 365.7h.01M384.8 344.8h.01M398.7 377.5h.01M398.5 380.3h.01M394.3 381.4h.01M387.2 349.5h.01M388.7 369.8h.01M390.3 350.8h.01M394.9 334.5h.01M388.0 349.0h.01M388.7 365.3h.01M394.3 381.9h.01M386.0 345.6h.01M396.1 384.0h.01M400.6 360.9h.01M396.9 382.6h.01M398.1 337.7h.01M393.6 347.4h.01M395.1 339.4h.01M394.6 347.1h.01M390.2 376.1h.01" stroke="#e8361d" stroke-width="1.25" stroke-linecap="round" fill="none"/>
<path d="M363.5 291.6h.01M352.9 300.2h.01M332.5 294.4h.01M343.0 295.4h.01M348.8 297.4h.01M335.2 292.0h.01M344.4 285.6h.01M342.0 305.6h.01M354.3 296.1h.01M350.5 287.2h.01M342.3 301.9h.01M346.8 291.6h.01M352.6 290.6h.01M335.5 296.4h.01M347.5 292.7h.01M348.1 295.1h.01M344.9 286.9h.01M356.3 294.0h.01M343.0 290.6h.01M362.5 294.4h.01M331.8 293.3h.01M336.2 289.6h.01M346.1 287.5h.01M342.0 294.7h.01M341.0 295.7h.01M364.2 293.3h.01M341.7 289.3h.01M352.6 292.0h.01M336.5 296.1h.01M347.8 293.8h.01M342.6 294.2h.01M336.5 291.0h.01M361.4 290.6h.01M359.1 288.2h.01M337.2 293.7h.01M343.4 293.7h.01M336.2 286.0h.01M338.3 290.6h.01M349.9 288.9h.01M362.1 291.6h.01M337.9 286.9h.01M344.1 283.8h.01M345.1 295.1h.01M335.2 285.4h.01M352.6 297.1h.01M348.8 288.4h.01M358.0 288.2h.01M334.8 298.5h.01M355.6 295.1h.01M352.2 288.9h.01M352.2 297.8h.01M347.5 289.9h.01M338.3 296.1h.01M337.2 286.5h.01M335.5 297.8h.01M356.0 290.6h.01M360.1 288.2h.01M346.8 294.4h.01M344.9 284.8h.01M347.5 288.1h.01M333.1 294.0h.01M345.8 292.7h.01M345.3 286.0h.01M335.7 290.3h.01M350.9 297.8h.01M346.9 290.8h.01M344.4 290.6h.01M345.8 290.3h.01M331.1 293.8h.01M355.0 293.3h.01M349.5 298.5h.01M350.5 295.9h.01M344.1 297.8h.01M382.7 260.6h.01M383.3 260.0h.01M382.4 261.4h.01M383.1 261.3h.01M388.2 279.4h.01M388.7 279.5h.01" stroke="#e8361d" stroke-width="1.5" stroke-linecap="round" fill="none"/>
<path d="M369.1 367.8h.01M367.8 369.4h.01M365.9 369.7h.01" stroke="#e8361d" stroke-width="1.35" stroke-linecap="round" fill="none"/>
<path d="M350.3 304.9h.01M345.7 327.1h.01M361.7 304.8h.01M342.1 311.9h.01M352.6 319.4h.01M358.1 303.5h.01M340.0 331.7h.01M335.4 320.0h.01M358.0 365.1h.01M362.8 354.0h.01M364.2 353.5h.01" stroke="#b4b4b4" stroke-width="1.05" stroke-linecap="round" fill="none"/>
<path d="M352.8 321.6h.01" stroke="#fff" stroke-width="2.0" stroke-linecap="round"/>
<path d="M354.5 325.3h.01" stroke="#fff" stroke-width="2.2" stroke-linecap="round"/>
<path d="M353.2 318.2h.01" stroke="#fff" stroke-width="1.1" stroke-linecap="round"/>
<path d="M350.4 331.4h.01" stroke="#fff" stroke-width="1.2" stroke-linecap="round"/>
<path d="M353.4 329.4h.01" stroke="#fff" stroke-width="1.5" stroke-linecap="round"/>
<path d="M354.0 334.0h.01" stroke="#fff" stroke-width="1.2" stroke-linecap="round"/>
<path d="M348.5 326.4h.01" stroke="#fff" stroke-width="0.9" stroke-linecap="round"/>
<path d="M355.8 327.4h.01" stroke="#fff" stroke-width="1.3" stroke-linecap="round"/>
<path d="M351.8 323.8h.01" stroke="#fff" stroke-width="1.2" stroke-linecap="round"/>
<rect x="327.2" y="240.4" width="77.3" height="150.3" fill="none" stroke="#444" stroke-width=".75"/>
<path d="M476.0 85.2C477.1 85.2 478.5 85.4 479.9 86.1C481.3 86.8 482.7 87.9 483.9 89.2C485.1 90.5 485.8 91.6 486.5 93.2C487.2 94.7 487.5 96.0 487.6 97.7C487.6 99.4 487.2 100.8 486.8 102.4C486.3 104.0 485.6 104.9 485.1 106.4C484.5 108.0 484.0 109.1 483.8 110.6C483.5 112.2 483.7 113.3 484.0 114.9C484.2 116.4 484.7 117.4 485.1 119.0C485.5 120.6 486.0 122.0 486.2 123.8C486.4 125.5 486.3 126.7 486.2 128.3C486.0 130.0 485.4 132.2 485.1 133.0C484.8 133.8 485.0 133.5 484.6 132.6C484.1 131.8 483.1 129.9 482.5 128.2C481.9 126.6 481.7 125.3 481.2 123.6C480.8 121.9 480.7 120.6 480.2 118.8C479.8 117.0 479.5 115.5 478.8 113.9C478.2 112.4 477.5 110.4 476.8 110.3C476.1 110.1 475.5 111.8 474.9 113.2C474.3 114.7 474.0 116.3 473.5 118.1C473.0 119.8 472.7 121.3 472.2 122.9C471.7 124.5 471.1 126.2 470.8 126.8C470.6 127.5 470.5 127.5 470.6 126.4C470.8 125.3 471.3 122.8 471.6 121.0C472.0 119.1 472.3 118.0 472.6 116.3C473.0 114.5 473.2 113.1 473.4 111.5C473.7 109.8 474.0 108.8 473.9 107.3C473.9 105.8 473.7 104.6 473.4 103.1C473.2 101.6 472.9 100.6 472.6 99.0C472.4 97.4 472.1 96.0 472.1 94.3C472.0 92.6 472.3 91.1 472.6 89.6C473.0 88.2 473.2 87.2 473.8 86.4C474.5 85.6 474.9 85.3 476.0 85.2ZM422.2 125.5C422.3 124.1 422.6 122.4 423.1 121.1C423.7 119.8 424.3 119.2 425.3 118.6C426.2 117.9 427.0 117.6 428.2 117.5C429.5 117.5 430.8 118.0 432.1 118.1C433.5 118.3 434.4 118.2 435.8 118.4C437.2 118.7 438.5 119.1 439.9 119.5C441.2 120.0 442.3 120.3 443.4 120.9C444.5 121.5 445.1 122.1 446.1 122.7C447.0 123.3 447.6 123.9 448.5 124.0C449.5 124.2 450.3 123.4 451.3 123.4C452.2 123.5 453.1 123.9 453.8 124.5C454.6 125.0 455.2 125.6 455.5 126.5C455.7 127.4 455.6 128.5 455.3 129.4C455.0 130.3 454.6 130.9 453.8 131.4C453.1 132.0 452.1 132.0 451.2 132.3C450.2 132.5 449.5 132.9 448.7 132.8C447.9 132.6 447.6 131.4 446.9 131.4C446.2 131.3 445.7 132.0 444.9 132.3C444.0 132.5 443.0 132.5 442.1 132.8C441.2 133.0 440.7 133.3 439.8 133.7C438.9 134.1 438.1 134.8 437.1 135.1C436.1 135.3 435.0 135.3 434.2 135.1C433.5 134.8 433.6 134.1 432.9 133.7C432.2 133.3 431.2 133.0 430.3 133.2C429.4 133.3 428.4 134.1 427.9 134.7C427.4 135.2 427.7 136.1 427.4 136.0C427.1 135.8 426.8 134.6 426.3 133.8C425.7 133.1 425.1 132.9 424.5 132.0C423.8 131.1 423.0 130.1 422.6 129.0C422.2 127.8 422.2 127.0 422.2 125.5ZM445.6 151.5C445.8 151.1 446.7 150.9 447.4 151.1C448.2 151.3 449.3 151.6 449.6 152.4C450.0 153.3 449.4 154.5 449.3 155.8C449.2 157.0 449.0 158.3 448.9 159.3C448.8 160.2 448.8 160.7 448.6 160.9C448.5 161.0 448.4 160.9 448.1 160.2C447.8 159.4 447.5 157.9 447.1 156.7C446.7 155.5 446.4 154.7 446.1 153.7C445.8 152.8 445.3 152.0 445.6 151.5ZM440.2 161.0C440.4 160.0 441.3 160.4 442.1 160.9C442.8 161.3 443.5 162.4 444.2 163.5C445.0 164.6 445.7 165.5 446.0 166.9C446.3 168.2 446.1 169.5 446.1 170.8C446.1 172.1 446.1 173.4 445.8 173.9C445.4 174.4 444.8 174.3 444.2 173.6C443.7 172.9 443.3 171.5 442.8 170.2C442.2 168.8 441.6 168.0 441.1 166.3C440.6 164.6 440.0 162.0 440.2 161.0ZM462.8 170.8C463.1 170.1 464.1 169.9 464.5 170.3C464.9 170.7 465.1 172.0 465.0 172.8C464.9 173.6 464.6 174.4 464.2 174.6C463.8 174.8 463.1 174.7 462.8 174.0C462.5 173.3 462.5 171.5 462.8 170.8ZM448.1 207.5C448.4 206.8 448.8 205.6 449.5 204.8C450.3 204.0 451.6 203.9 452.3 203.0C452.9 202.0 452.7 200.5 453.2 199.8C453.6 199.1 454.2 198.7 454.8 199.1C455.3 199.5 455.3 201.3 456.1 202.1C456.8 202.9 457.9 203.6 458.7 203.5C459.4 203.5 459.6 201.9 460.2 201.7C460.7 201.6 461.2 202.0 461.5 202.9C461.8 203.7 462.0 205.0 462.0 206.4C461.9 207.8 461.6 209.8 461.1 210.7C460.6 211.6 460.0 211.6 459.3 211.4C458.7 211.1 458.5 209.7 457.5 209.2C456.5 208.7 455.0 208.7 453.7 208.7C452.4 208.6 451.2 209.2 450.1 209.2C449.1 209.1 448.4 208.5 448.0 208.2C447.6 207.9 447.8 208.1 448.1 207.5Z" fill="#b4b4b4"/>
<path d="M481.2 121.4h.01M472.5 91.4h.01M472.3 94.3h.01M472.0 91.6h.01M485.8 120.8h.01M472.3 117.4h.01M485.4 90.6h.01M472.7 91.3h.01M473.9 105.3h.01M485.1 118.6h.01M483.7 130.9h.01M474.5 114.8h.01M474.2 108.7h.01M483.9 88.7h.01M485.9 127.4h.01M484.3 110.1h.01M478.9 113.2h.01M472.2 93.5h.01M484.7 119.3h.01M483.7 110.8h.01M471.7 124.9h.01M480.2 118.9h.01M486.7 92.9h.01M480.8 118.2h.01M473.5 120.4h.01M471.6 118.8h.01M484.7 108.9h.01M473.4 103.8h.01M473.0 103.2h.01M479.4 85.9h.01M472.2 118.0h.01M471.4 124.4h.01M477.5 111.2h.01M483.7 89.5h.01M473.5 119.5h.01M479.3 117.8h.01M483.7 88.9h.01M474.4 85.9h.01M485.3 131.4h.01M472.1 122.4h.01M486.1 123.9h.01M473.3 101.9h.01M485.2 132.5h.01M478.2 112.5h.01M470.3 126.8h.01M477.7 112.0h.01M473.2 111.4h.01M473.4 89.1h.01M474.3 104.9h.01M486.1 91.7h.01M476.3 111.4h.01M476.6 110.7h.01M476.5 84.8h.01M486.5 93.0h.01M475.0 114.5h.01M487.2 97.2h.01M478.2 113.9h.01M487.0 95.2h.01M484.0 110.5h.01M485.4 118.3h.01M472.6 116.3h.01M473.6 107.7h.01M487.4 96.7h.01M472.7 89.6h.01M475.0 85.9h.01M472.0 117.8h.01M484.4 132.7h.01M478.7 86.0h.01M485.6 128.7h.01M473.0 118.2h.01M486.3 94.9h.01M473.9 107.5h.01M483.4 130.1h.01M473.9 106.4h.01M473.5 119.5h.01M479.7 117.4h.01M472.3 117.4h.01M483.9 109.4h.01M480.6 119.9h.01M483.7 109.7h.01M471.6 126.7h.01M473.0 90.2h.01M486.8 102.1h.01M481.1 122.2h.01M487.2 95.5h.01M487.5 99.1h.01M472.1 114.5h.01M473.7 107.6h.01M474.3 107.9h.01M471.5 94.0h.01M486.1 123.3h.01M473.1 100.6h.01M484.1 132.9h.01M475.8 111.9h.01M476.9 110.9h.01M471.6 119.9h.01M473.2 91.6h.01M472.6 91.5h.01M481.7 86.9h.01M473.4 112.4h.01M481.0 123.6h.01M487.0 102.0h.01M485.0 133.1h.01M486.2 93.5h.01M473.8 119.3h.01M483.9 110.8h.01M470.7 126.3h.01M480.8 87.3h.01M483.2 129.4h.01M484.8 117.3h.01M474.5 106.3h.01M484.2 108.1h.01M471.2 122.8h.01M480.4 118.2h.01M483.8 113.5h.01M475.3 112.2h.01M485.7 119.5h.01M483.0 110.8h.01M473.5 108.8h.01M473.7 116.9h.01M484.8 131.7h.01M470.8 126.9h.01M483.7 115.0h.01M474.4 86.3h.01M487.4 99.2h.01M477.4 111.3h.01M483.9 111.8h.01M473.3 111.8h.01M486.1 122.6h.01M486.2 126.6h.01M477.0 109.6h.01M472.2 119.3h.01M473.7 86.2h.01M472.3 94.7h.01M483.8 109.3h.01M472.6 97.8h.01M476.0 85.3h.01M475.1 113.0h.01M486.1 105.0h.01M481.8 125.9h.01M472.1 123.7h.01M484.4 114.6h.01M485.7 91.7h.01M482.9 128.2h.01M482.0 126.1h.01M486.8 101.3h.01M472.1 90.9h.01M472.4 88.8h.01M472.9 114.2h.01M479.4 117.3h.01M473.1 115.2h.01M470.5 125.7h.01M484.1 132.3h.01M480.1 86.3h.01M486.5 128.7h.01M473.4 111.1h.01M485.9 90.9h.01M482.0 127.3h.01M471.2 125.5h.01M487.1 97.9h.01M452.2 132.0h.01M446.5 131.1h.01M454.7 125.3h.01M427.1 118.0h.01M424.9 118.5h.01M442.4 120.3h.01M429.4 133.1h.01M436.8 135.6h.01M455.3 127.5h.01M429.8 117.7h.01M428.4 135.1h.01M432.2 133.4h.01M437.1 119.0h.01M428.2 134.8h.01M446.9 131.4h.01M455.5 129.3h.01M429.6 133.3h.01M435.0 135.5h.01M428.1 135.0h.01M453.0 131.4h.01M454.1 125.1h.01M422.4 128.5h.01M427.8 118.3h.01M436.3 119.3h.01M429.4 117.6h.01M445.0 131.8h.01M453.0 124.2h.01M439.0 119.3h.01M442.3 132.7h.01M424.3 131.5h.01M426.0 133.8h.01M428.6 133.8h.01M436.4 135.5h.01M440.9 133.3h.01M422.6 123.3h.01M454.2 124.0h.01M434.5 135.3h.01M440.9 134.0h.01M423.7 120.3h.01M441.0 119.7h.01M443.5 120.7h.01M422.6 126.2h.01M443.5 120.6h.01M427.4 134.7h.01M424.0 120.2h.01M428.6 117.9h.01M425.1 119.6h.01M447.7 123.5h.01M442.5 120.7h.01M450.8 123.6h.01M449.0 131.7h.01M427.3 136.0h.01M449.7 123.7h.01M444.5 121.3h.01M452.4 132.3h.01M432.3 133.5h.01M434.5 118.4h.01M423.8 121.0h.01M455.7 125.5h.01M424.2 120.2h.01M424.3 131.1h.01M430.0 118.4h.01M450.1 132.6h.01M455.4 129.4h.01M428.4 134.6h.01M427.7 134.8h.01M452.6 124.2h.01M423.3 123.6h.01M452.2 131.1h.01M425.9 133.8h.01M439.6 134.5h.01M426.5 135.0h.01M453.1 132.0h.01M448.2 133.0h.01M454.6 130.8h.01M443.6 132.7h.01M447.1 131.9h.01M428.6 134.9h.01M453.3 124.6h.01M426.9 135.4h.01M438.8 119.0h.01M424.6 120.1h.01M452.7 124.0h.01M455.1 129.9h.01M445.9 122.0h.01M431.4 117.5h.01M427.4 133.7h.01M434.1 135.4h.01M446.6 123.0h.01M449.3 133.4h.01M438.2 119.3h.01M423.0 125.1h.01M437.0 118.6h.01M432.8 118.0h.01M455.1 128.8h.01M422.6 124.4h.01M434.0 118.1h.01M423.8 127.8h.01M450.0 133.1h.01M451.2 132.0h.01M432.0 132.8h.01M443.4 132.4h.01M434.2 118.1h.01M441.4 132.4h.01M451.3 123.3h.01M448.5 124.2h.01M424.1 119.9h.01M422.7 125.1h.01M442.3 132.5h.01M426.3 117.9h.01M443.0 133.0h.01M454.4 125.5h.01M428.6 134.3h.01M427.3 135.2h.01M435.7 118.6h.01M453.1 124.6h.01M446.7 123.4h.01M425.6 133.2h.01M441.5 133.1h.01M441.0 133.8h.01M455.8 127.3h.01M424.6 119.4h.01M425.5 133.1h.01M454.4 125.7h.01M438.3 134.9h.01M451.5 124.1h.01M435.5 118.8h.01M439.1 119.4h.01M445.6 132.2h.01M426.9 136.1h.01M430.5 117.7h.01M435.4 118.7h.01M427.5 135.3h.01M428.4 135.2h.01M437.9 119.2h.01M438.3 133.9h.01M454.5 129.5h.01M423.7 132.0h.01M451.9 123.5h.01M454.8 131.0h.01M438.0 133.9h.01M442.3 120.4h.01M449.1 132.5h.01M442.9 133.3h.01M426.1 134.1h.01M451.8 131.9h.01M449.0 123.6h.01M454.4 126.3h.01M422.3 126.5h.01M453.4 131.6h.01M441.8 120.0h.01M432.5 118.7h.01M455.0 129.5h.01M452.0 124.4h.01M426.6 134.8h.01M443.9 121.5h.01M432.9 133.5h.01M449.5 123.7h.01M434.1 134.4h.01M443.9 120.8h.01M446.2 132.0h.01M454.1 123.8h.01M451.3 132.7h.01M454.4 131.5h.01M450.8 132.4h.01M435.6 118.9h.01M434.7 118.6h.01M425.6 133.1h.01M422.0 127.4h.01M426.2 134.2h.01M445.3 152.1h.01M449.5 160.1h.01M448.2 161.0h.01M448.2 160.7h.01M448.4 160.2h.01M448.6 152.2h.01M446.7 156.4h.01M447.1 158.7h.01M446.7 155.1h.01M446.8 151.0h.01M445.7 152.7h.01M448.7 160.6h.01M448.5 159.1h.01M448.7 159.6h.01M445.4 151.4h.01M448.6 159.7h.01M449.4 152.4h.01M447.3 156.2h.01M449.4 152.7h.01M446.4 153.2h.01M447.4 158.1h.01M447.3 159.1h.01M448.3 159.7h.01M446.0 151.0h.01M448.9 158.4h.01M440.5 160.5h.01M446.0 174.7h.01M443.1 161.9h.01M441.0 164.0h.01M445.5 170.7h.01M444.2 163.3h.01M439.6 164.6h.01M442.3 169.1h.01M445.8 172.9h.01M444.5 174.6h.01M442.2 161.0h.01M440.5 163.6h.01M446.1 168.6h.01M445.9 167.9h.01M444.7 174.0h.01M446.1 168.0h.01M445.0 174.0h.01M443.2 170.9h.01M443.4 171.2h.01M442.6 168.8h.01M446.1 166.0h.01M444.3 164.2h.01M442.9 162.2h.01M444.7 173.6h.01M442.1 160.3h.01M440.6 161.6h.01M442.2 169.2h.01M442.8 161.8h.01M446.2 168.1h.01M441.5 166.4h.01M446.0 172.4h.01M442.7 161.8h.01M444.6 174.0h.01M440.3 161.0h.01M441.6 167.5h.01M464.8 174.0h.01M464.4 171.8h.01M462.5 174.1h.01M465.1 173.4h.01M464.2 173.8h.01M464.2 174.5h.01M463.6 174.1h.01M465.0 170.2h.01M449.0 205.6h.01M455.4 209.2h.01M451.4 209.0h.01M458.7 204.2h.01M455.2 199.6h.01M452.6 199.2h.01M461.8 209.0h.01M454.8 199.1h.01M447.2 208.3h.01M461.4 204.6h.01M456.9 209.3h.01M460.0 202.2h.01M461.0 210.6h.01M461.4 209.5h.01M457.1 208.6h.01M461.4 202.1h.01M452.8 200.7h.01M458.3 208.8h.01M453.9 199.9h.01M456.3 209.9h.01M459.4 203.1h.01M452.7 202.4h.01M457.9 209.4h.01M454.3 199.5h.01M460.7 211.2h.01M454.3 199.1h.01M460.5 211.1h.01M448.0 208.2h.01M457.2 202.4h.01M459.7 202.3h.01M458.3 209.6h.01M448.2 207.8h.01M462.0 207.2h.01M456.6 202.1h.01M452.9 201.8h.01M459.7 211.3h.01M456.6 208.8h.01M458.4 208.4h.01M450.4 209.0h.01M452.9 201.0h.01M453.1 200.9h.01M449.2 209.1h.01M458.2 203.3h.01M461.3 209.6h.01M459.7 202.2h.01M453.5 208.4h.01M451.7 209.5h.01M461.2 210.3h.01M457.1 203.5h.01M460.7 202.0h.01M460.5 210.7h.01M459.8 210.9h.01M449.7 208.7h.01M460.0 201.9h.01M459.0 210.6h.01M461.3 205.1h.01M448.1 206.9h.01M461.6 206.1h.01M449.7 209.4h.01M456.2 201.8h.01" stroke="#b4b4b4" stroke-width="1.25" stroke-linecap="round" fill="none"/>
<path d="M424.4 154.5h.01M425.7 154.0h.01M427.5 153.6h.01M429.3 154.0h.01M430.8 152.7h.01M428.4 154.2h.01M445.0 137.3h.01M448.0 136.1h.01M450.2 135.7h.01M452.0 137.8h.01M456.0 136.4h.01M449.0 137.0h.01M436.5 141.0h.01M438.8 140.7h.01M434.8 142.8h.01M441.0 147.6h.01M430.3 151.1h.01M446.3 151.1h.01M450.2 150.6h.01M486.2 164.2h.01M488.0 166.4h.01M486.8 169.6h.01M487.5 172.7h.01M488.0 174.5h.01M487.0 165.1h.01M487.1 191.5h.01M486.2 193.6h.01M482.0 196.4h.01M485.3 199.1h.01M486.8 200.9h.01M488.6 201.8h.01M490.4 201.3h.01M489.0 199.5h.01M487.8 201.4h.01M482.0 211.3h.01M453.1 176.5h.01M453.5 177.1h.01M474.4 179.6h.01M457.1 189.1h.01" stroke="#ababab" stroke-width="1.6" stroke-linecap="round" fill="none"/>
<path d="M486.2 164.2h.01M488.0 166.4h.01M486.8 169.6h.01M487.5 172.7h.01M488.0 174.5h.01M487.0 165.1h.01M487.1 191.5h.01M486.2 193.6h.01M482.0 196.4h.01M485.3 199.1h.01M486.8 200.9h.01M488.6 201.8h.01M490.4 201.3h.01M489.0 199.5h.01M487.8 201.4h.01M474.4 179.6h.01" stroke="#e8361d" stroke-width="1.6" stroke-linecap="round" fill="none"/>
<path d="M482.7 112.8h.01M485.8 124.3h.01M484.3 121.0h.01M484.5 130.0h.01M485.2 104.2h.01M483.2 117.6h.01M482.4 112.8h.01M484.5 131.3h.01M483.2 108.2h.01M484.1 125.0h.01M483.8 115.5h.01M484.9 119.4h.01M483.9 116.9h.01M485.7 127.8h.01M480.0 88.7h.01M475.0 97.7h.01M479.8 92.4h.01" stroke="#e38a73" stroke-width="1.05" stroke-linecap="round" fill="none"/>
<path d="M483.5 117.9h.01M484.5 119.3h.01M486.0 123.5h.01M484.1 118.5h.01M485.7 126.7h.01M484.4 91.4h.01M486.0 103.3h.01M486.3 103.1h.01M485.1 102.8h.01M485.0 119.7h.01M485.7 126.6h.01M484.5 128.7h.01M484.9 118.6h.01M484.6 123.2h.01M483.9 118.7h.01M483.5 118.6h.01M483.3 113.7h.01M482.1 112.1h.01M484.3 120.4h.01M483.2 113.8h.01M485.6 122.0h.01M483.8 109.0h.01M484.1 106.4h.01M484.1 117.1h.01M483.6 112.4h.01M483.6 112.5h.01M483.7 112.5h.01M483.7 116.3h.01M485.4 103.8h.01M483.0 113.1h.01M482.8 114.1h.01M483.4 118.1h.01M484.8 121.4h.01M484.4 131.0h.01M485.9 125.1h.01M485.5 124.4h.01M482.7 115.9h.01M485.7 123.6h.01M485.3 130.1h.01M486.3 103.1h.01M483.1 116.4h.01M484.5 128.7h.01M485.3 127.8h.01M484.7 122.0h.01M485.0 127.9h.01M484.5 119.2h.01M485.0 103.9h.01M474.5 97.3h.01M474.2 98.0h.01M480.1 92.9h.01" stroke="#e8361d" stroke-width="1.35" stroke-linecap="round" fill="none"/>
<path d="M446.6 127.0q-1.3 2.6 -.6 5.6" stroke="#fff" stroke-width=".7" fill="none" opacity=".75"/>
<path d="M454.8 203.2h.01" stroke="#fff" stroke-width="1.7" stroke-linecap="round"/>
<path d="M456.0 205.0h.01" stroke="#fff" stroke-width="1" stroke-linecap="round"/>
<rect x="418.0" y="76.8" width="77.3" height="150.3" fill="none" stroke="#444" stroke-width=".75"/>
<path d="M454.4 292.5C454.6 292.7 454.8 294.8 455.2 296.3C455.6 297.9 456.4 299.4 456.4 301.1C456.4 302.8 456.0 304.6 455.3 305.8C454.6 307.0 453.5 307.1 452.7 307.7C451.8 308.3 451.6 309.0 450.9 309.0C450.2 309.0 449.6 307.4 448.7 307.6C447.8 307.8 447.1 309.0 446.2 309.9C445.4 310.9 444.8 311.7 444.1 312.8C443.4 313.9 442.7 314.7 442.6 315.8C442.5 317.0 442.8 318.0 443.4 319.0C444.0 320.0 444.9 321.1 445.8 321.4C446.8 321.7 447.9 320.5 448.6 320.7C449.2 320.8 449.5 321.5 449.3 322.2C449.2 322.9 448.5 323.8 447.7 324.3C446.9 324.9 445.8 324.7 445.0 325.3C444.2 325.8 443.2 326.7 443.3 327.3C443.4 328.0 445.0 328.2 445.5 328.9C446.0 329.7 446.2 330.4 446.1 331.3C446.0 332.3 445.1 332.9 444.7 334.0C444.4 335.1 444.5 336.6 444.1 337.4C443.7 338.2 443.1 338.5 442.5 338.3C441.9 338.2 441.6 337.3 440.7 336.5C439.8 335.8 439.1 334.9 437.7 334.3C436.4 333.8 434.9 333.6 433.3 333.6C431.7 333.6 430.5 334.3 429.1 334.3C427.7 334.3 426.8 334.4 425.9 333.7C424.9 333.0 424.4 332.1 424.0 330.6C423.6 329.0 423.7 327.1 423.8 325.1C423.9 323.1 423.9 321.3 424.3 319.5C424.7 317.8 424.9 316.7 425.9 315.6C426.9 314.6 428.5 314.9 429.7 313.9C430.9 312.8 431.3 311.4 432.3 310.1C433.3 308.7 433.9 307.7 435.0 306.6C436.1 305.6 437.0 305.2 438.4 304.5C439.7 303.9 441.0 303.9 442.6 303.1C444.1 302.4 445.4 301.3 446.9 300.3C448.5 299.3 449.9 298.4 451.2 297.5C452.4 296.5 453.3 296.0 453.9 295.1C454.5 294.2 454.1 292.3 454.4 292.5ZM452.6 339.0C452.8 339.2 453.5 341.2 454.0 342.8C454.4 344.4 454.4 346.8 455.1 347.7C455.8 348.6 456.8 348.1 457.6 347.8C458.4 347.6 459.2 345.9 459.3 346.3C459.3 346.6 458.2 348.4 457.7 349.7C457.1 350.9 456.4 351.8 456.4 353.0C456.3 354.2 457.3 355.0 457.2 356.2C457.0 357.3 456.2 358.1 455.6 359.2C455.0 360.4 454.4 361.3 454.0 362.5C453.6 363.6 453.9 364.6 453.5 365.6C453.0 366.6 452.2 367.0 451.6 367.9C451.0 368.8 450.6 369.7 450.1 370.2C449.5 370.8 449.0 371.2 448.6 371.0C448.1 370.7 447.6 370.0 447.5 368.9C447.5 367.8 447.9 366.4 448.3 365.1C448.8 363.8 449.4 363.2 449.8 361.9C450.3 360.6 450.6 359.3 450.6 357.8C450.7 356.3 450.3 355.3 450.3 353.8C450.4 352.4 450.7 351.3 451.0 349.9C451.4 348.4 451.9 347.4 452.2 346.0C452.5 344.5 452.6 343.2 452.6 341.9C452.7 340.7 452.3 338.9 452.6 339.0Z" fill="#b4b4b4"/>
<path d="M486.6 327.2C486.9 327.2 487.3 329.1 487.8 330.8C488.3 332.5 489.0 334.2 489.4 336.4C489.8 338.6 489.9 340.4 490.0 342.7C490.1 345.0 489.9 346.9 489.7 349.0C489.5 351.0 488.8 351.9 488.9 353.8C489.1 355.8 490.0 357.7 490.5 359.5C491.0 361.3 491.4 361.7 491.6 363.4C491.8 365.2 491.8 366.9 491.6 368.9C491.4 370.9 491.0 372.4 490.5 374.4C490.0 376.4 489.6 378.3 488.9 380.0C488.3 381.7 487.7 383.1 487.1 383.7C486.4 384.2 486.4 383.8 485.6 382.9C484.8 382.1 483.8 380.7 482.8 379.1C481.8 377.5 480.9 376.2 480.2 374.4C479.5 372.5 479.2 370.9 479.1 368.9C479.0 366.9 479.0 365.3 479.4 363.5C479.7 361.6 480.5 360.2 481.0 358.7C481.4 357.2 482.1 356.5 481.8 355.3C481.5 354.1 480.3 353.4 479.3 352.0C478.4 350.5 477.4 348.9 476.4 347.3C475.5 345.7 474.5 344.2 474.1 343.4C473.7 342.6 473.7 342.5 474.3 343.0C474.8 343.5 476.0 344.7 477.1 346.1C478.2 347.6 479.2 349.5 480.3 350.8C481.4 352.2 482.4 353.7 483.2 353.4C483.9 353.0 484.1 351.0 484.5 349.1C484.9 347.1 485.2 345.1 485.4 342.7C485.6 340.4 485.6 338.5 485.7 336.3C485.8 334.1 486.0 332.4 486.2 330.8C486.4 329.1 486.3 327.2 486.6 327.2ZM465.4 340.1C465.4 340.5 465.1 341.0 464.8 341.3C464.5 341.6 464.0 341.9 463.6 341.9C463.2 341.9 462.7 341.6 462.4 341.3C462.1 341.0 461.9 340.5 461.9 340.1C461.9 339.7 462.1 339.2 462.4 338.9C462.7 338.6 463.2 338.4 463.6 338.4C464.0 338.4 464.5 338.6 464.8 338.9C465.1 339.2 465.4 339.7 465.4 340.1Z" fill="#e8361d"/>
<path d="M448.2 320.5h.01M447.3 300.2h.01M437.7 305.2h.01M431.7 311.3h.01M445.4 331.9h.01M443.8 336.9h.01M453.1 308.2h.01M452.2 308.2h.01M444.4 320.1h.01M443.7 326.2h.01M455.2 296.8h.01M442.7 317.5h.01M439.2 335.6h.01M429.6 333.9h.01M448.7 308.0h.01M446.9 309.8h.01M423.8 331.9h.01M443.9 326.6h.01M445.7 329.6h.01M438.0 333.7h.01M453.4 294.1h.01M431.4 334.3h.01M446.7 324.4h.01M444.7 320.6h.01M429.6 313.4h.01M424.6 320.8h.01M445.5 328.5h.01M449.4 323.5h.01M448.5 299.0h.01M430.6 333.8h.01M438.9 336.5h.01M454.2 293.4h.01M427.1 334.5h.01M436.0 305.9h.01M443.9 325.5h.01M445.2 311.4h.01M452.9 295.7h.01M440.6 304.2h.01M443.6 315.7h.01M447.4 320.9h.01M432.2 334.4h.01M453.2 295.5h.01M440.2 336.3h.01M453.6 307.0h.01M428.2 333.8h.01M453.2 297.0h.01M450.9 308.8h.01M444.8 327.8h.01M439.7 335.7h.01M442.9 338.2h.01M447.0 300.6h.01M448.5 308.7h.01M444.3 319.9h.01M446.9 310.2h.01M424.5 331.4h.01M451.4 309.1h.01M449.0 321.5h.01M450.9 308.9h.01M444.2 325.8h.01M453.0 307.8h.01M437.9 334.4h.01M455.8 298.2h.01M446.9 309.1h.01M442.6 337.9h.01M455.1 297.9h.01M445.3 325.4h.01M454.5 293.6h.01M436.4 306.6h.01M425.2 334.1h.01M440.1 303.8h.01M426.3 315.5h.01M454.7 292.8h.01M424.9 318.2h.01M439.8 335.6h.01M444.1 337.6h.01M444.8 332.9h.01M455.4 295.2h.01M432.7 334.3h.01M440.1 335.7h.01M452.0 296.4h.01M432.1 333.5h.01M434.1 307.4h.01M436.7 305.8h.01M445.9 324.6h.01M445.1 333.3h.01M447.5 301.3h.01M433.8 334.2h.01M423.9 322.6h.01M429.8 334.7h.01M454.1 293.7h.01M430.7 334.5h.01M445.7 310.1h.01M426.9 315.6h.01M430.2 313.1h.01M453.7 294.8h.01M443.3 314.7h.01M426.9 315.4h.01M423.9 326.3h.01M425.0 333.1h.01M448.0 321.3h.01M438.6 335.7h.01M451.9 296.8h.01M430.4 334.1h.01M445.7 328.9h.01M443.7 338.2h.01M455.1 294.0h.01M443.0 302.9h.01M432.7 309.8h.01M455.3 297.9h.01M442.8 303.2h.01M445.4 311.0h.01M448.3 320.6h.01M439.5 335.9h.01M446.9 321.3h.01M447.9 324.3h.01M443.9 336.1h.01M429.0 334.4h.01M447.7 300.1h.01M445.8 320.7h.01M448.9 298.1h.01M449.5 321.1h.01M445.1 325.1h.01M454.5 293.8h.01M436.0 333.8h.01M444.1 334.9h.01M446.5 309.3h.01M444.1 328.3h.01M443.9 335.4h.01M447.9 309.0h.01M447.0 321.4h.01M445.5 329.3h.01M443.5 327.7h.01M443.4 316.8h.01M435.6 306.5h.01M449.3 309.0h.01M445.9 310.6h.01M443.0 314.4h.01M443.5 338.3h.01M451.4 309.2h.01M438.1 304.4h.01M433.4 309.1h.01M455.0 306.6h.01M443.6 302.1h.01M440.6 336.3h.01M448.4 323.5h.01M424.7 330.5h.01M444.9 324.9h.01M433.3 309.2h.01M453.7 293.2h.01M455.5 299.9h.01M445.7 320.9h.01M455.2 297.5h.01M453.7 294.7h.01M435.0 306.6h.01M429.9 313.7h.01M424.1 330.3h.01M442.2 338.3h.01M438.0 334.3h.01M453.7 293.3h.01M426.6 334.2h.01M450.8 297.3h.01M447.6 321.2h.01M452.2 308.4h.01M428.9 334.0h.01M454.7 294.3h.01M453.1 295.5h.01M448.3 307.6h.01M446.2 310.8h.01M453.2 294.9h.01M430.6 313.2h.01M451.5 296.2h.01M438.0 334.9h.01M448.6 321.5h.01M445.6 330.9h.01M424.7 318.9h.01M424.3 322.2h.01M439.7 335.9h.01M443.8 327.5h.01M452.7 307.8h.01M453.6 295.2h.01M455.2 296.3h.01M424.8 318.0h.01M454.0 293.2h.01M448.4 321.7h.01M449.0 321.2h.01M451.0 309.6h.01M444.8 336.8h.01M445.0 311.4h.01M445.2 325.5h.01M444.3 326.4h.01M443.4 315.1h.01M453.0 306.7h.01M423.8 328.6h.01M453.7 294.2h.01M443.1 326.4h.01M453.8 295.1h.01M443.4 302.7h.01M450.0 307.9h.01M440.7 337.3h.01M443.6 314.0h.01M436.7 306.0h.01M448.1 299.5h.01M449.7 298.2h.01M449.1 321.5h.01M437.8 304.4h.01M441.0 303.7h.01M448.0 323.4h.01M454.1 294.8h.01M448.6 298.4h.01M432.6 334.2h.01M454.2 294.5h.01M454.8 306.8h.01M424.2 318.5h.01M440.0 335.5h.01M454.5 294.9h.01M439.7 303.2h.01M454.5 296.5h.01M448.7 307.5h.01M445.0 328.8h.01M446.5 309.4h.01M442.0 303.4h.01M444.3 333.3h.01M455.4 296.9h.01M423.6 328.3h.01M450.9 297.0h.01M449.2 322.5h.01M448.8 307.6h.01M443.9 337.2h.01M456.1 300.6h.01M456.0 303.6h.01M448.0 307.4h.01M449.0 322.8h.01M427.0 314.4h.01M455.7 301.7h.01M450.9 308.9h.01M423.6 325.0h.01M435.1 333.3h.01M425.6 316.7h.01M433.3 333.5h.01M425.6 317.6h.01M444.2 312.6h.01M448.9 308.4h.01M426.3 315.1h.01M445.4 329.0h.01M445.3 332.9h.01M445.7 332.5h.01M432.3 309.7h.01M451.4 308.8h.01M432.3 310.6h.01M447.6 324.5h.01M434.2 307.9h.01M443.0 326.5h.01M447.9 300.0h.01M444.0 316.8h.01M449.7 321.5h.01M438.6 336.0h.01M445.1 335.4h.01M456.0 298.0h.01M450.4 308.6h.01M445.8 329.0h.01M455.7 358.4h.01M454.3 343.5h.01M451.7 347.6h.01M454.7 346.8h.01M448.2 366.9h.01M450.7 357.5h.01M448.3 369.9h.01M448.2 368.3h.01M457.2 356.6h.01M449.8 360.9h.01M449.5 370.7h.01M453.6 362.4h.01M451.3 358.4h.01M449.1 370.9h.01M448.1 368.0h.01M453.0 341.6h.01M455.2 361.2h.01M458.1 347.6h.01M452.6 343.8h.01M453.2 342.1h.01M457.2 355.5h.01M452.0 345.3h.01M450.7 368.8h.01M457.6 350.9h.01M450.3 350.5h.01M448.1 369.5h.01M452.2 367.8h.01M453.7 363.5h.01M448.0 365.6h.01M456.7 347.5h.01M457.0 356.3h.01M457.4 352.0h.01M450.5 369.7h.01M457.0 350.7h.01M450.4 354.6h.01M447.5 369.1h.01M459.7 346.3h.01M456.3 350.9h.01M454.4 363.3h.01M451.2 348.2h.01M454.2 361.6h.01M454.4 346.7h.01M449.9 357.2h.01M451.4 357.4h.01M450.9 357.2h.01M453.7 363.9h.01M453.0 342.2h.01M448.7 370.3h.01M458.5 347.1h.01M448.3 369.8h.01M457.4 356.9h.01M450.7 357.6h.01M452.8 366.9h.01M453.2 365.5h.01M455.6 353.0h.01M455.5 347.8h.01M456.5 357.9h.01M456.1 358.7h.01M453.8 363.8h.01M452.2 340.3h.01M454.2 342.1h.01M449.2 362.5h.01M459.0 347.1h.01M452.8 342.2h.01M456.5 347.6h.01M454.6 359.0h.01M448.6 364.5h.01M448.0 366.2h.01M452.8 340.9h.01M451.8 346.0h.01M456.6 347.9h.01M455.9 353.6h.01M454.3 361.2h.01M448.9 371.1h.01M451.8 348.4h.01M457.4 355.5h.01M454.2 363.7h.01M452.7 339.9h.01M450.7 353.9h.01M451.6 349.4h.01M451.9 342.0h.01M452.2 347.3h.01M447.7 369.2h.01M450.3 358.6h.01M451.7 343.3h.01M453.0 339.9h.01M458.8 347.3h.01M455.6 347.8h.01M457.6 350.5h.01M450.6 370.0h.01M454.3 291.6h.01M443.7 300.2h.01M423.3 294.4h.01M433.8 295.4h.01M439.6 297.4h.01M426.0 292.0h.01M435.2 285.6h.01M432.8 305.6h.01M445.1 296.1h.01M441.3 287.2h.01M433.1 301.9h.01M437.6 291.6h.01M443.4 290.6h.01M426.3 296.4h.01M438.3 292.7h.01M438.9 295.1h.01M435.7 286.9h.01M447.1 294.0h.01M433.8 290.6h.01M453.3 294.4h.01M422.6 293.3h.01M427.0 289.6h.01M436.9 287.5h.01M432.8 294.7h.01M431.8 295.7h.01M455.0 293.3h.01M432.5 289.3h.01M443.4 292.0h.01M427.3 296.1h.01M438.6 293.8h.01M433.4 294.2h.01M427.3 291.0h.01M452.2 290.6h.01M449.9 288.2h.01M428.0 293.7h.01M434.2 293.7h.01M427.0 286.0h.01M429.1 290.6h.01M440.7 288.9h.01M452.9 291.6h.01M428.7 286.9h.01M434.9 283.8h.01M435.9 295.1h.01M426.0 285.4h.01M443.4 297.1h.01M439.6 288.4h.01M448.8 288.2h.01M425.6 298.5h.01M446.4 295.1h.01M443.0 288.9h.01M443.0 297.8h.01M438.3 289.9h.01M429.1 296.1h.01M428.0 286.5h.01M426.3 297.8h.01M446.8 290.6h.01M450.9 288.2h.01M437.6 294.4h.01M435.7 284.8h.01M438.3 288.1h.01M423.9 294.0h.01M436.6 292.7h.01M436.1 286.0h.01M426.5 290.3h.01M441.7 297.8h.01M437.7 290.8h.01M435.2 290.6h.01M436.6 290.3h.01M421.9 293.8h.01M445.8 293.3h.01M440.3 298.5h.01M441.3 295.9h.01M434.9 297.8h.01M473.5 260.6h.01M474.1 260.0h.01M473.2 261.4h.01M473.9 261.3h.01M479.0 279.4h.01M479.5 279.5h.01M459.9 367.8h.01M458.6 369.4h.01M456.7 369.7h.01" stroke="#b4b4b4" stroke-width="1.25" stroke-linecap="round" fill="none"/>
<path d="M464.1 341.4h.01M462.3 339.3h.01M464.0 341.9h.01M464.3 339.5h.01M464.5 341.4h.01M462.2 339.8h.01M461.8 340.1h.01M462.5 341.0h.01M479.9 361.6h.01M480.3 375.3h.01M483.3 352.1h.01M490.6 373.9h.01M489.9 345.0h.01M486.5 333.6h.01M490.0 359.3h.01M489.1 334.0h.01M476.4 346.6h.01M476.7 345.2h.01M485.2 341.0h.01M489.8 358.7h.01M477.3 347.5h.01M489.6 339.7h.01M479.1 364.2h.01M485.8 330.8h.01M485.4 382.7h.01M476.4 347.7h.01M473.9 342.2h.01M480.7 359.7h.01M487.4 331.1h.01M475.3 344.5h.01M483.7 379.9h.01M484.0 350.8h.01M486.0 328.7h.01M487.9 329.6h.01M485.8 330.3h.01M476.2 345.0h.01M481.2 356.8h.01M481.6 357.4h.01M490.4 357.9h.01M487.3 329.7h.01M491.4 371.3h.01M480.1 350.2h.01M476.9 348.4h.01M477.7 347.7h.01M481.4 357.7h.01M486.5 328.9h.01M479.0 363.2h.01M491.6 365.4h.01M491.0 342.1h.01M481.6 356.2h.01M480.4 374.5h.01M478.4 368.3h.01M484.5 348.0h.01M474.1 343.0h.01M486.3 328.4h.01M487.3 383.3h.01M477.6 348.7h.01M476.2 345.0h.01M474.9 343.3h.01M491.2 359.6h.01M491.0 372.9h.01M489.3 355.5h.01M482.5 378.6h.01M486.6 329.9h.01M482.5 351.9h.01M490.0 351.3h.01M479.3 362.4h.01M489.2 348.7h.01M479.9 363.0h.01M484.7 348.4h.01M480.1 353.3h.01M490.7 339.6h.01M489.6 376.7h.01M478.6 365.8h.01M481.2 354.3h.01M489.3 379.5h.01M479.7 353.4h.01M488.8 356.0h.01M480.5 361.6h.01M479.9 352.1h.01M490.9 362.4h.01M488.9 354.8h.01M477.0 345.0h.01M476.9 346.6h.01M489.6 336.5h.01M484.5 347.5h.01M490.0 348.3h.01M483.5 380.7h.01M489.9 377.7h.01M488.1 331.7h.01M491.0 372.8h.01M487.6 383.0h.01M490.7 369.9h.01M475.2 344.2h.01M488.9 376.3h.01M483.6 352.3h.01M487.7 332.9h.01M486.2 383.7h.01M479.5 367.4h.01M484.2 349.3h.01M482.0 353.9h.01M490.0 375.2h.01M480.3 361.0h.01M476.9 344.9h.01M484.5 382.2h.01M476.5 348.2h.01M490.0 346.7h.01M480.8 351.9h.01M481.8 356.0h.01M489.7 339.0h.01M479.4 362.1h.01M489.3 353.6h.01M485.9 334.6h.01M476.7 347.9h.01M491.5 365.6h.01M479.3 367.9h.01M489.6 343.4h.01M484.5 348.2h.01M485.8 333.5h.01M490.7 362.4h.01M487.1 382.9h.01M478.0 347.5h.01M482.8 352.6h.01M487.5 384.0h.01M479.5 351.3h.01M488.5 381.2h.01M489.9 344.9h.01M486.6 331.1h.01M475.0 344.1h.01M480.7 350.1h.01M477.2 349.0h.01M480.7 354.4h.01M483.7 380.6h.01M486.9 329.4h.01M481.0 351.8h.01M488.0 332.9h.01M487.0 384.3h.01M490.9 365.7h.01M475.6 344.8h.01M489.5 377.5h.01M489.3 380.3h.01M485.1 381.4h.01M478.0 349.5h.01M479.5 369.8h.01M481.1 350.8h.01M485.7 334.5h.01M478.8 349.0h.01M479.5 365.3h.01M485.1 381.9h.01M476.8 345.6h.01M486.9 384.0h.01M491.4 360.9h.01M487.7 382.6h.01M488.9 337.7h.01M484.4 347.4h.01M485.9 339.4h.01M485.4 347.1h.01M481.0 376.1h.01" stroke="#e8361d" stroke-width="1.25" stroke-linecap="round" fill="none"/>
<path d="M454.3 291.6h.01M443.7 300.2h.01M423.3 294.4h.01M433.8 295.4h.01M439.6 297.4h.01M426.0 292.0h.01M435.2 285.6h.01M432.8 305.6h.01M445.1 296.1h.01M441.3 287.2h.01M433.1 301.9h.01M437.6 291.6h.01M443.4 290.6h.01M426.3 296.4h.01M438.3 292.7h.01M438.9 295.1h.01M435.7 286.9h.01M447.1 294.0h.01M433.8 290.6h.01M453.3 294.4h.01M479.0 279.4h.01M479.5 279.5h.01" stroke="#e8361d" stroke-width="1.5" stroke-linecap="round" fill="none"/>
<path d="M429.9 327.9h.01M441.5 324.2h.01M425.0 320.6h.01M437.1 321.5h.01M438.6 331.0h.01M442.8 303.3h.01M432.5 319.2h.01M445.8 306.5h.01M454.9 302.9h.01M442.8 313.6h.01M437.6 310.1h.01M445.6 305.4h.01M439.6 307.8h.01M424.9 318.1h.01M431.8 324.3h.01M441.2 320.4h.01M443.1 330.6h.01M448.4 303.2h.01M452.2 305.2h.01M452.5 301.6h.01M435.3 307.3h.01M434.8 333.7h.01M443.8 308.9h.01M444.3 333.7h.01M450.2 302.3h.01M440.0 329.4h.01M436.6 312.1h.01M429.0 333.2h.01M424.5 324.2h.01M431.3 311.7h.01M429.9 333.8h.01M447.7 307.8h.01M431.6 323.0h.01M451.2 298.9h.01M440.0 306.2h.01M442.2 323.3h.01M449.1 306.1h.01M454.4 295.9h.01M444.6 331.4h.01M427.6 325.5h.01M435.0 324.9h.01M451.6 301.7h.01M437.0 309.1h.01M445.7 321.5h.01M433.3 315.8h.01M433.9 309.2h.01M439.5 312.9h.01M432.3 310.9h.01M448.5 305.2h.01M451.9 304.9h.01M447.7 301.0h.01M426.7 323.9h.01M433.6 318.5h.01M432.0 330.1h.01M434.4 315.4h.01M436.1 326.0h.01M447.8 305.0h.01M440.7 305.0h.01M424.9 319.8h.01M435.8 327.9h.01M443.0 314.7h.01M435.1 331.1h.01M433.5 322.2h.01M435.8 317.8h.01M434.8 330.0h.01M437.3 318.7h.01M436.5 325.7h.01M439.8 322.9h.01M426.3 319.7h.01M441.4 317.9h.01M443.2 311.1h.01M437.4 308.7h.01M433.6 328.8h.01M449.5 306.4h.01M443.8 330.3h.01M440.2 323.5h.01M451.1 304.6h.01M434.4 319.9h.01M439.9 308.8h.01M438.4 312.3h.01M429.3 321.8h.01M444.2 306.3h.01M437.2 322.6h.01M445.8 304.0h.01M439.8 319.3h.01M443.2 325.4h.01M442.6 319.6h.01M444.6 329.3h.01M426.9 318.4h.01M450.9 302.3h.01M451.7 355.2h.01M454.0 354.0h.01M450.2 368.6h.01M451.9 364.6h.01M449.9 363.3h.01M452.2 352.0h.01M451.7 350.4h.01M454.6 357.0h.01M452.7 360.2h.01M453.4 358.6h.01M451.6 355.2h.01M450.5 362.7h.01M456.3 355.9h.01M452.1 350.9h.01M453.4 364.0h.01M452.7 346.9h.01M452.5 364.7h.01M455.4 353.4h.01M451.0 365.7h.01M456.2 351.6h.01M453.0 366.1h.01M451.5 350.5h.01M455.7 355.8h.01M456.1 354.3h.01M450.6 368.2h.01M450.4 363.1h.01M449.5 369.2h.01M456.8 349.8h.01M453.0 350.5h.01M453.5 344.9h.01M457.6 348.6h.01M450.2 362.2h.01M453.7 342.3h.01M448.3 369.8h.01M451.6 358.0h.01M454.4 361.2h.01M452.6 357.1h.01M457.0 347.8h.01M451.0 362.8h.01M451.5 367.9h.01M455.2 354.2h.01M451.1 365.7h.01M451.9 348.3h.01M452.8 350.9h.01M453.1 341.2h.01M451.6 361.9h.01M453.0 355.6h.01M453.1 353.0h.01M449.1 367.6h.01M453.8 345.5h.01M450.7 362.9h.01M452.8 343.8h.01M450.2 364.3h.01M455.9 357.8h.01M448.7 369.1h.01M455.9 354.3h.01M451.8 348.6h.01M449.1 368.6h.01M455.2 356.1h.01M451.3 367.4h.01M455.9 358.5h.01M452.7 340.7h.01M450.2 369.4h.01M450.3 363.3h.01M453.0 365.4h.01M454.4 360.2h.01M456.4 355.2h.01M454.3 357.1h.01M453.3 347.8h.01M451.0 350.0h.01M452.7 343.5h.01M454.7 348.3h.01M451.6 365.0h.01M454.5 350.4h.01M450.5 364.6h.01M455.2 348.5h.01M456.8 354.8h.01M452.2 364.1h.01M448.1 369.4h.01M451.7 360.6h.01M453.6 358.7h.01M452.2 349.2h.01M453.3 354.3h.01M448.4 369.4h.01M452.0 364.7h.01M454.6 348.0h.01M454.1 357.6h.01M450.1 361.5h.01M450.5 360.4h.01M452.0 356.5h.01M453.7 358.9h.01M453.5 362.8h.01M455.4 348.1h.01M450.3 360.2h.01M452.1 365.6h.01M453.1 345.3h.01M455.3 359.3h.01M453.9 352.2h.01M453.8 344.9h.01M452.8 353.9h.01M454.0 345.6h.01M455.5 356.6h.01M450.1 368.0h.01M455.3 357.7h.01M452.9 346.4h.01M455.5 358.7h.01M452.6 365.5h.01M451.3 351.7h.01M450.2 361.7h.01M452.0 364.1h.01M450.9 362.8h.01M450.6 364.1h.01M453.2 356.5h.01M450.7 362.7h.01M452.3 366.4h.01M452.1 360.4h.01M453.8 361.7h.01" stroke="#e38a73" stroke-width="1.05" stroke-linecap="round" fill="none"/>
<path d="M433.4 310.2h.01M432.7 328.4h.01M444.0 303.9h.01M427.7 331.6h.01M434.8 329.8h.01M428.2 329.8h.01M440.9 307.9h.01M441.1 308.6h.01M427.3 317.1h.01M439.5 327.5h.01M440.4 328.1h.01M443.7 310.7h.01M436.2 330.3h.01M445.1 310.1h.01M451.3 302.4h.01M425.8 330.6h.01M442.9 328.4h.01M438.7 322.8h.01M451.0 308.4h.01M436.2 330.8h.01M430.7 333.0h.01M452.6 300.9h.01M431.9 330.2h.01M451.6 307.9h.01M440.7 315.8h.01M444.0 332.8h.01M443.0 332.9h.01M444.1 323.6h.01M435.4 330.8h.01M438.9 326.6h.01M453.4 304.0h.01M429.5 316.0h.01M436.0 314.6h.01M447.5 299.9h.01M425.8 319.1h.01M432.7 315.0h.01M441.4 314.8h.01M425.1 330.0h.01M438.4 308.5h.01M436.6 327.9h.01M432.4 329.5h.01M431.3 316.8h.01M446.7 300.9h.01M430.3 317.7h.01M430.8 322.0h.01M438.2 332.1h.01M429.3 330.2h.01M436.9 319.8h.01M439.1 324.8h.01M433.3 331.2h.01M439.9 320.6h.01M440.5 331.2h.01M440.6 334.3h.01M437.5 314.6h.01M439.1 323.1h.01M437.1 322.0h.01M424.9 331.8h.01M445.5 309.3h.01M426.3 321.5h.01M425.3 331.3h.01M437.3 314.8h.01M437.0 307.5h.01M429.8 330.3h.01M442.8 324.6h.01M440.5 332.9h.01M442.9 335.1h.01M451.6 297.4h.01M448.8 306.2h.01M439.6 326.6h.01M433.1 329.8h.01M446.1 323.8h.01M443.3 305.9h.01M452.2 297.6h.01M434.4 310.5h.01M442.8 332.9h.01M438.4 320.0h.01M441.2 307.6h.01M442.3 304.7h.01M454.7 294.1h.01M438.1 324.4h.01M435.9 330.3h.01M446.1 307.9h.01M439.8 328.7h.01M454.1 298.8h.01M443.0 331.6h.01M450.7 304.4h.01M448.2 301.3h.01M448.3 300.1h.01M434.5 331.3h.01M435.7 325.3h.01M437.4 328.1h.01M435.0 309.2h.01M434.9 316.8h.01M454.9 295.1h.01M438.8 309.9h.01M423.9 325.1h.01M430.6 315.7h.01M439.9 321.6h.01M451.5 301.0h.01M452.1 305.1h.01M451.4 302.9h.01M433.5 320.7h.01M442.3 303.7h.01M434.7 314.4h.01M432.9 312.1h.01M428.4 323.9h.01M435.0 327.4h.01M437.1 327.7h.01M455.9 302.8h.01M436.3 322.4h.01M431.3 327.3h.01M430.7 325.9h.01M441.5 305.5h.01M454.2 300.9h.01M438.4 309.2h.01M427.5 326.5h.01M440.7 310.6h.01M436.1 308.6h.01M440.2 308.3h.01M430.0 329.8h.01M436.1 332.4h.01M441.5 315.1h.01M429.1 320.2h.01M431.6 323.3h.01M442.4 317.2h.01M428.1 323.6h.01M443.0 326.8h.01M440.9 334.3h.01M434.8 309.6h.01M443.1 307.9h.01M431.0 326.2h.01M452.1 296.8h.01M445.0 304.1h.01M438.9 318.2h.01M454.0 304.3h.01M432.5 332.6h.01M436.0 317.4h.01M440.2 322.3h.01M438.6 316.2h.01M434.2 313.0h.01M426.8 317.6h.01M438.6 334.9h.01M424.3 320.5h.01M429.0 319.5h.01M441.4 326.7h.01M451.0 299.7h.01M427.9 316.4h.01M454.5 295.8h.01M433.6 313.8h.01M435.2 332.0h.01M448.5 307.6h.01M440.2 330.8h.01M432.2 311.9h.01M429.6 331.0h.01M430.4 323.9h.01M427.2 316.5h.01M438.0 318.7h.01M427.5 321.6h.01M427.0 316.8h.01M425.0 325.2h.01M451.7 360.2h.01M448.3 369.9h.01M452.6 360.4h.01M450.1 361.1h.01M451.2 361.9h.01M456.8 356.4h.01M450.5 362.6h.01M453.0 365.4h.01M456.9 349.5h.01M449.9 365.0h.01M452.5 366.4h.01M451.0 352.0h.01M452.8 360.4h.01M452.4 351.0h.01M454.3 350.6h.01M457.7 348.6h.01M453.6 351.2h.01M450.2 363.6h.01M455.1 354.7h.01M453.6 358.3h.01M452.8 347.7h.01M451.3 355.2h.01M452.4 347.3h.01M455.9 348.6h.01M449.4 363.7h.01M455.3 353.0h.01M451.0 351.8h.01M452.3 348.3h.01M451.3 354.0h.01M452.1 358.9h.01M453.1 354.3h.01M450.0 366.5h.01M451.7 357.0h.01M456.1 357.2h.01M451.5 349.6h.01M452.2 353.4h.01M453.4 344.3h.01M451.5 365.6h.01M453.1 342.1h.01M454.5 346.9h.01M450.9 366.9h.01M454.5 353.7h.01M454.8 357.3h.01M454.2 351.1h.01M452.5 352.7h.01M452.3 353.3h.01M452.9 363.0h.01M450.3 367.3h.01M455.3 350.3h.01M448.3 367.2h.01M453.8 345.0h.01M451.2 365.2h.01M456.2 355.8h.01M452.0 363.5h.01M450.2 361.6h.01M453.3 354.5h.01M450.8 361.6h.01M451.9 348.1h.01M453.8 349.6h.01M454.7 346.6h.01M449.1 367.2h.01M452.7 365.0h.01M454.8 358.9h.01M449.9 364.1h.01M455.1 356.6h.01M454.8 358.4h.01M449.6 367.4h.01M452.5 355.1h.01M451.9 350.8h.01M453.7 342.1h.01M450.9 362.3h.01M456.1 358.1h.01M453.8 349.3h.01M452.8 341.3h.01M454.8 347.4h.01M451.3 363.2h.01M453.0 354.4h.01M455.7 352.0h.01M453.6 358.9h.01M456.8 356.0h.01M450.7 353.9h.01M454.4 360.2h.01M450.8 361.9h.01M454.7 360.4h.01M448.5 364.8h.01M453.7 353.2h.01M451.3 349.7h.01M451.7 366.9h.01M453.1 357.1h.01M453.5 360.2h.01M456.0 357.2h.01M456.6 355.4h.01M454.2 348.8h.01M452.2 366.3h.01M450.3 368.0h.01M456.3 356.3h.01M451.6 351.2h.01M452.2 354.4h.01M451.3 367.4h.01M449.5 363.7h.01M448.8 369.9h.01M450.2 368.7h.01M450.2 366.0h.01M452.4 364.9h.01M454.4 357.9h.01M449.3 369.3h.01M450.7 355.3h.01M450.9 359.2h.01M453.6 363.0h.01M452.7 340.0h.01M452.0 366.3h.01M453.1 351.2h.01M449.0 369.2h.01M454.0 344.2h.01M453.2 348.9h.01M454.4 345.5h.01M450.5 360.8h.01M451.6 362.8h.01M452.9 365.9h.01M452.5 354.8h.01M451.9 347.5h.01M452.8 363.4h.01M455.5 354.4h.01M452.1 363.6h.01M457.5 348.9h.01M455.1 350.8h.01M455.2 351.9h.01M456.4 351.4h.01M451.4 361.6h.01M450.2 367.2h.01M452.9 361.8h.01M455.5 359.2h.01M454.4 359.9h.01M452.2 349.8h.01M449.1 363.9h.01M450.7 362.2h.01M452.2 362.8h.01M451.9 364.5h.01M450.6 363.0h.01M454.2 349.5h.01M452.5 356.0h.01M455.5 357.2h.01M455.3 358.2h.01M456.0 350.2h.01M453.3 341.9h.01M458.5 347.2h.01M452.9 361.8h.01M452.8 343.6h.01M451.8 355.0h.01M450.5 355.7h.01M454.1 358.5h.01M451.3 363.3h.01M451.2 355.2h.01M453.9 360.5h.01M448.9 367.3h.01M449.5 364.2h.01M452.0 364.4h.01M450.6 368.8h.01M453.7 358.6h.01M451.4 353.0h.01M450.7 355.3h.01M451.6 355.6h.01M452.6 351.2h.01M452.5 364.8h.01M457.9 347.8h.01M455.0 348.6h.01M455.2 348.9h.01M451.0 350.7h.01M451.9 354.9h.01M456.0 354.2h.01M457.2 348.6h.01M453.7 358.3h.01M452.9 365.3h.01M453.6 352.8h.01M452.4 355.5h.01M448.3 366.8h.01M453.0 350.4h.01M449.8 370.2h.01M448.4 366.9h.01M456.4 357.5h.01M449.0 370.3h.01M451.3 350.4h.01M452.0 356.0h.01" stroke="#e8361d" stroke-width="1.35" stroke-linecap="round" fill="none"/>
<path d="M486.7 357.7h.01M487.9 354.1h.01M484.4 375.9h.01M486.2 353.4h.01M487.4 354.9h.01M484.3 377.0h.01M486.3 352.7h.01M490.8 372.3h.01M487.1 371.6h.01M482.1 370.8h.01" stroke="#b4b4b4" stroke-width="1.05" stroke-linecap="round" fill="none"/>
<path d="M443.6 321.6h.01" stroke="#fff" stroke-width="2.0" stroke-linecap="round"/>
<path d="M445.3 325.3h.01" stroke="#fff" stroke-width="2.2" stroke-linecap="round"/>
<path d="M444.0 318.2h.01" stroke="#fff" stroke-width="1.1" stroke-linecap="round"/>
<path d="M441.2 331.4h.01" stroke="#fff" stroke-width="1.2" stroke-linecap="round"/>
<path d="M444.2 329.4h.01" stroke="#fff" stroke-width="1.5" stroke-linecap="round"/>
<path d="M444.8 334.0h.01" stroke="#fff" stroke-width="1.2" stroke-linecap="round"/>
<path d="M439.3 326.4h.01" stroke="#fff" stroke-width="0.9" stroke-linecap="round"/>
<path d="M446.6 327.4h.01" stroke="#fff" stroke-width="1.3" stroke-linecap="round"/>
<path d="M442.6 323.8h.01" stroke="#fff" stroke-width="1.2" stroke-linecap="round"/>
<rect x="418.0" y="240.4" width="77.3" height="150.3" fill="none" stroke="#444" stroke-width=".75"/>
<path d="M566.9 85.2C568.0 85.2 569.4 85.4 570.8 86.1C572.2 86.8 573.6 87.9 574.8 89.2C576.0 90.5 576.7 91.6 577.4 93.2C578.1 94.7 578.4 96.0 578.5 97.7C578.5 99.4 578.1 100.8 577.7 102.4C577.2 104.0 576.5 104.9 576.0 106.4C575.4 108.0 574.9 109.1 574.7 110.6C574.4 112.2 574.6 113.3 574.9 114.9C575.1 116.4 575.6 117.4 576.0 119.0C576.4 120.6 576.9 122.0 577.1 123.8C577.3 125.5 577.2 126.7 577.1 128.3C576.9 130.0 576.3 132.2 576.0 133.0C575.7 133.8 575.9 133.5 575.5 132.6C575.0 131.8 574.0 129.9 573.4 128.2C572.8 126.6 572.6 125.3 572.1 123.6C571.7 121.9 571.6 120.6 571.1 118.8C570.7 117.0 570.4 115.5 569.7 113.9C569.1 112.4 568.4 110.4 567.7 110.3C567.0 110.1 566.4 111.8 565.8 113.2C565.2 114.7 564.9 116.3 564.4 118.1C563.9 119.8 563.6 121.3 563.1 122.9C562.6 124.5 562.0 126.2 561.7 126.8C561.5 127.5 561.4 127.5 561.5 126.4C561.7 125.3 562.2 122.8 562.5 121.0C562.9 119.1 563.2 118.0 563.5 116.3C563.9 114.5 564.1 113.1 564.3 111.5C564.6 109.8 564.9 108.8 564.9 107.3C564.8 105.8 564.6 104.6 564.3 103.1C564.1 101.6 563.8 100.6 563.5 99.0C563.3 97.4 563.0 96.0 562.9 94.3C562.9 92.6 563.2 91.1 563.5 89.6C563.9 88.2 564.1 87.2 564.7 86.4C565.4 85.6 565.8 85.3 566.9 85.2ZM513.1 125.5C513.2 124.1 513.5 122.4 514.0 121.1C514.6 119.8 515.2 119.2 516.2 118.6C517.1 117.9 517.9 117.6 519.1 117.5C520.4 117.5 521.7 118.0 523.0 118.1C524.4 118.3 525.3 118.2 526.7 118.4C528.1 118.7 529.4 119.1 530.8 119.5C532.1 120.0 533.2 120.3 534.3 120.9C535.4 121.5 536.0 122.1 537.0 122.7C537.9 123.3 538.5 123.9 539.4 124.0C540.4 124.2 541.2 123.4 542.2 123.4C543.1 123.5 544.0 123.9 544.7 124.5C545.5 125.0 546.1 125.6 546.4 126.5C546.6 127.4 546.5 128.5 546.2 129.4C545.9 130.3 545.5 130.9 544.7 131.4C544.0 132.0 543.0 132.0 542.1 132.3C541.1 132.5 540.4 132.9 539.6 132.8C538.8 132.6 538.5 131.4 537.8 131.4C537.1 131.3 536.6 132.0 535.8 132.3C534.9 132.5 533.9 132.5 533.0 132.8C532.1 133.0 531.6 133.3 530.7 133.7C529.8 134.1 529.0 134.8 528.0 135.1C527.0 135.3 525.9 135.3 525.1 135.1C524.4 134.8 524.5 134.1 523.8 133.7C523.1 133.3 522.1 133.0 521.2 133.2C520.3 133.3 519.3 134.1 518.8 134.7C518.3 135.2 518.6 136.1 518.3 136.0C518.0 135.8 517.7 134.6 517.2 133.8C516.6 133.1 516.0 132.9 515.4 132.0C514.7 131.1 513.9 130.1 513.5 129.0C513.1 127.8 513.1 127.0 513.1 125.5ZM536.5 151.5C536.7 151.1 537.6 150.9 538.3 151.1C539.1 151.3 540.2 151.6 540.5 152.4C540.9 153.3 540.3 154.5 540.2 155.8C540.1 157.0 539.9 158.3 539.8 159.3C539.7 160.2 539.7 160.7 539.5 160.9C539.4 161.0 539.3 160.9 539.0 160.2C538.7 159.4 538.4 157.9 538.0 156.7C537.6 155.5 537.3 154.7 537.0 153.7C536.7 152.8 536.2 152.0 536.5 151.5ZM531.1 161.0C531.3 160.0 532.2 160.4 533.0 160.9C533.7 161.3 534.4 162.4 535.1 163.5C535.9 164.6 536.6 165.5 536.9 166.9C537.2 168.2 537.0 169.5 537.0 170.8C537.0 172.1 537.0 173.4 536.7 173.9C536.3 174.4 535.7 174.3 535.1 173.6C534.6 172.9 534.2 171.5 533.7 170.2C533.1 168.8 532.5 168.0 532.0 166.3C531.5 164.6 530.9 162.0 531.1 161.0ZM553.7 170.8C554.0 170.1 555.0 169.9 555.4 170.3C555.8 170.7 556.0 172.0 555.9 172.8C555.8 173.6 555.5 174.4 555.1 174.6C554.7 174.8 554.0 174.7 553.7 174.0C553.4 173.3 553.4 171.5 553.7 170.8ZM539.0 207.5C539.3 206.8 539.7 205.6 540.4 204.8C541.2 204.0 542.5 203.9 543.2 203.0C543.8 202.0 543.6 200.5 544.1 199.8C544.5 199.1 545.1 198.7 545.7 199.1C546.2 199.5 546.2 201.3 547.0 202.1C547.7 202.9 548.8 203.6 549.6 203.5C550.3 203.5 550.5 201.9 551.1 201.7C551.6 201.6 552.1 202.0 552.4 202.9C552.7 203.7 552.9 205.0 552.9 206.4C552.8 207.8 552.5 209.8 552.0 210.7C551.5 211.6 550.9 211.6 550.2 211.4C549.6 211.1 549.4 209.7 548.4 209.2C547.4 208.7 545.9 208.7 544.6 208.7C543.3 208.6 542.1 209.2 541.0 209.2C540.0 209.1 539.3 208.5 538.9 208.2C538.5 207.9 538.7 208.1 539.0 207.5Z" fill="#b4b4b4"/>
<path d="M572.1 121.4h.01M563.4 91.4h.01M563.2 94.3h.01M562.9 91.6h.01M576.7 120.8h.01M563.2 117.4h.01M576.3 90.6h.01M563.6 91.3h.01M564.8 105.3h.01M576.0 118.6h.01M574.6 130.9h.01M565.4 114.8h.01M565.1 108.7h.01M574.8 88.7h.01M576.8 127.4h.01M575.2 110.1h.01M569.8 113.2h.01M563.1 93.5h.01M575.6 119.3h.01M574.6 110.8h.01M562.6 124.9h.01M571.1 118.9h.01M577.6 92.9h.01M571.7 118.2h.01M564.4 120.4h.01M562.5 118.8h.01M575.6 108.9h.01M564.3 103.8h.01M563.9 103.2h.01M570.3 85.9h.01M563.1 118.0h.01M562.3 124.4h.01M568.4 111.2h.01M574.6 89.5h.01M564.4 119.5h.01M570.2 117.8h.01M574.6 88.9h.01M565.3 85.9h.01M576.2 131.4h.01M563.0 122.4h.01M577.0 123.9h.01M564.2 101.9h.01M576.1 132.5h.01M569.1 112.5h.01M561.2 126.8h.01M568.6 112.0h.01M564.1 111.4h.01M564.3 89.1h.01M565.2 104.9h.01M577.0 91.7h.01M567.2 111.4h.01M567.5 110.7h.01M567.4 84.8h.01M577.4 93.0h.01M565.9 114.5h.01M578.1 97.2h.01M569.1 113.9h.01M577.9 95.2h.01M574.9 110.5h.01M576.3 118.3h.01M563.5 116.3h.01M564.5 107.7h.01M578.3 96.7h.01M563.6 89.6h.01M565.9 85.9h.01M562.9 117.8h.01M575.3 132.7h.01M569.6 86.0h.01M576.5 128.7h.01M563.9 118.2h.01M577.2 94.9h.01M564.8 107.5h.01M574.3 130.1h.01M564.8 106.4h.01M564.4 119.5h.01M570.6 117.4h.01M563.2 117.4h.01M574.8 109.4h.01M571.5 119.9h.01M574.6 109.7h.01M562.5 126.7h.01M563.9 90.2h.01M577.7 102.1h.01M572.0 122.2h.01M578.1 95.5h.01M578.4 99.1h.01M563.0 114.5h.01M564.6 107.6h.01M565.2 107.9h.01M562.4 94.0h.01M577.0 123.3h.01M564.0 100.6h.01M575.0 132.9h.01M566.7 111.9h.01M567.8 110.9h.01M562.5 119.9h.01M564.1 91.6h.01M563.5 91.5h.01M572.6 86.9h.01M564.3 112.4h.01M571.9 123.6h.01M577.9 102.0h.01M575.9 133.1h.01M577.1 93.5h.01M564.7 119.3h.01M574.8 110.8h.01M561.6 126.3h.01M571.7 87.3h.01M574.1 129.4h.01M575.7 117.3h.01M565.4 106.3h.01M575.1 108.1h.01M562.1 122.8h.01M571.3 118.2h.01M574.7 113.5h.01M566.2 112.2h.01M576.6 119.5h.01M573.9 110.8h.01M564.4 108.8h.01M564.6 116.9h.01M575.7 131.7h.01M561.7 126.9h.01M574.6 115.0h.01M565.3 86.3h.01M578.3 99.2h.01M568.3 111.3h.01M574.8 111.8h.01M564.2 111.8h.01M577.0 122.6h.01M577.1 126.6h.01M567.9 109.6h.01M563.1 119.3h.01M564.6 86.2h.01M563.2 94.7h.01M574.7 109.3h.01M563.5 97.8h.01M566.9 85.3h.01M566.0 113.0h.01M577.0 105.0h.01M572.7 125.9h.01M563.0 123.7h.01M575.3 114.6h.01M576.6 91.7h.01M573.8 128.2h.01M572.9 126.1h.01M577.7 101.3h.01M563.0 90.9h.01M563.3 88.8h.01M563.8 114.2h.01M570.3 117.3h.01M564.0 115.2h.01M561.4 125.7h.01M575.0 132.3h.01M571.0 86.3h.01M577.4 128.7h.01M564.3 111.1h.01M576.8 90.9h.01M572.9 127.3h.01M562.1 125.5h.01M578.0 97.9h.01M543.1 132.0h.01M537.4 131.1h.01M545.6 125.3h.01M518.0 118.0h.01M515.8 118.5h.01M533.3 120.3h.01M520.3 133.1h.01M527.7 135.6h.01M546.2 127.5h.01M520.7 117.7h.01M519.3 135.1h.01M523.1 133.4h.01M528.0 119.0h.01M519.1 134.8h.01M537.8 131.4h.01M546.4 129.3h.01M520.5 133.3h.01M525.9 135.5h.01M519.0 135.0h.01M543.9 131.4h.01M545.0 125.1h.01M513.3 128.5h.01M518.7 118.3h.01M527.2 119.3h.01M520.3 117.6h.01M535.9 131.8h.01M543.9 124.2h.01M529.9 119.3h.01M533.2 132.7h.01M515.2 131.5h.01M516.9 133.8h.01M519.5 133.8h.01M527.3 135.5h.01M531.8 133.3h.01M513.5 123.3h.01M545.1 124.0h.01M525.4 135.3h.01M531.8 134.0h.01M514.6 120.3h.01M531.9 119.7h.01M534.4 120.7h.01M513.5 126.2h.01M534.4 120.6h.01M518.3 134.7h.01M514.9 120.2h.01M519.5 117.9h.01M516.0 119.6h.01M538.6 123.5h.01M533.4 120.7h.01M541.7 123.6h.01M539.9 131.7h.01M518.2 136.0h.01M540.6 123.7h.01M535.4 121.3h.01M543.3 132.3h.01M523.2 133.5h.01M525.4 118.4h.01M514.7 121.0h.01M546.6 125.5h.01M515.1 120.2h.01M515.2 131.1h.01M520.9 118.4h.01M541.0 132.6h.01M546.3 129.4h.01M519.3 134.6h.01M518.6 134.8h.01M543.5 124.2h.01M514.2 123.6h.01M543.1 131.1h.01M516.8 133.8h.01M530.5 134.5h.01M517.4 135.0h.01M544.0 132.0h.01M539.1 133.0h.01M545.5 130.8h.01M534.5 132.7h.01M538.0 131.9h.01M519.5 134.9h.01M544.2 124.6h.01M517.8 135.4h.01M529.7 119.0h.01M515.5 120.1h.01M543.6 124.0h.01M546.0 129.9h.01M536.8 122.0h.01M522.3 117.5h.01M518.3 133.7h.01M525.0 135.4h.01M537.5 123.0h.01M540.2 133.4h.01M529.1 119.3h.01M513.9 125.1h.01M527.9 118.6h.01M523.7 118.0h.01M546.0 128.8h.01M513.5 124.4h.01M524.9 118.1h.01M514.7 127.8h.01M540.9 133.1h.01M542.1 132.0h.01M522.9 132.8h.01M534.3 132.4h.01M525.1 118.1h.01M532.3 132.4h.01M542.2 123.3h.01M539.4 124.2h.01M515.0 119.9h.01M513.6 125.1h.01M533.2 132.5h.01M517.2 117.9h.01M533.9 133.0h.01M545.3 125.5h.01M519.5 134.3h.01M518.2 135.2h.01M526.6 118.6h.01M544.0 124.6h.01M537.6 123.4h.01M516.5 133.2h.01M532.4 133.1h.01M531.9 133.8h.01M546.7 127.3h.01M515.5 119.4h.01M516.4 133.1h.01M545.3 125.7h.01M529.2 134.9h.01M542.4 124.1h.01M526.4 118.8h.01M530.0 119.4h.01M536.5 132.2h.01M517.8 136.1h.01M521.4 117.7h.01M526.3 118.7h.01M518.4 135.3h.01M519.3 135.2h.01M528.8 119.2h.01M529.2 133.9h.01M545.4 129.5h.01M514.6 132.0h.01M542.8 123.5h.01M545.7 131.0h.01M528.9 133.9h.01M533.2 120.4h.01M540.0 132.5h.01M533.8 133.3h.01M517.0 134.1h.01M542.7 131.9h.01M539.9 123.6h.01M545.3 126.3h.01M513.2 126.5h.01M544.3 131.6h.01M532.7 120.0h.01M523.4 118.7h.01M545.9 129.5h.01M542.9 124.4h.01M517.5 134.8h.01M534.8 121.5h.01M523.8 133.5h.01M540.4 123.7h.01M525.0 134.4h.01M534.8 120.8h.01M537.1 132.0h.01M545.0 123.8h.01M542.2 132.7h.01M545.3 131.5h.01M541.7 132.4h.01M526.5 118.9h.01M525.6 118.6h.01M516.5 133.1h.01M512.9 127.4h.01M517.1 134.2h.01M536.2 152.1h.01M540.4 160.1h.01M539.1 161.0h.01M539.1 160.7h.01M539.3 160.2h.01M539.5 152.2h.01M537.6 156.4h.01M538.0 158.7h.01M537.6 155.1h.01M537.7 151.0h.01M536.6 152.7h.01M539.6 160.6h.01M539.4 159.1h.01M539.6 159.6h.01M536.3 151.4h.01M539.5 159.7h.01M540.3 152.4h.01M538.2 156.2h.01M540.3 152.7h.01M537.3 153.2h.01M538.3 158.1h.01M538.2 159.1h.01M539.2 159.7h.01M536.9 151.0h.01M539.8 158.4h.01M531.4 160.5h.01M536.9 174.7h.01M534.0 161.9h.01M531.9 164.0h.01M536.4 170.7h.01M535.1 163.3h.01M530.5 164.6h.01M533.2 169.1h.01M536.7 172.9h.01M535.4 174.6h.01M533.1 161.0h.01M531.4 163.6h.01M537.0 168.6h.01M536.8 167.9h.01M535.6 174.0h.01M537.0 168.0h.01M535.9 174.0h.01M534.1 170.9h.01M534.3 171.2h.01M533.5 168.8h.01M537.0 166.0h.01M535.2 164.2h.01M533.8 162.2h.01M535.6 173.6h.01M533.0 160.3h.01M531.5 161.6h.01M533.1 169.2h.01M533.7 161.8h.01M537.1 168.1h.01M532.4 166.4h.01M536.9 172.4h.01M533.6 161.8h.01M535.5 174.0h.01M531.2 161.0h.01M532.5 167.5h.01M555.7 174.0h.01M555.3 171.8h.01M553.4 174.1h.01M556.0 173.4h.01M555.1 173.8h.01M555.1 174.5h.01M554.5 174.1h.01M555.9 170.2h.01M539.9 205.6h.01M546.3 209.2h.01M542.3 209.0h.01M549.6 204.2h.01M546.1 199.6h.01M543.5 199.2h.01M552.7 209.0h.01M545.7 199.1h.01M538.1 208.3h.01M552.3 204.6h.01M547.8 209.3h.01M550.9 202.2h.01M551.9 210.6h.01M552.3 209.5h.01M548.0 208.6h.01M552.3 202.1h.01M543.7 200.7h.01M549.2 208.8h.01M544.8 199.9h.01M547.2 209.9h.01M550.3 203.1h.01M543.6 202.4h.01M548.8 209.4h.01M545.2 199.5h.01M551.6 211.2h.01M545.2 199.1h.01M551.4 211.1h.01M538.9 208.2h.01M548.1 202.4h.01M550.6 202.3h.01M549.2 209.6h.01M539.1 207.8h.01M552.9 207.2h.01M547.5 202.1h.01M543.8 201.8h.01M550.6 211.3h.01M547.5 208.8h.01M549.3 208.4h.01M541.3 209.0h.01M543.8 201.0h.01M544.0 200.9h.01M540.1 209.1h.01M549.1 203.3h.01M552.2 209.6h.01M550.6 202.2h.01M544.4 208.4h.01M542.6 209.5h.01M552.1 210.3h.01M548.0 203.5h.01M551.6 202.0h.01M551.4 210.7h.01M550.7 210.9h.01M540.6 208.7h.01M550.9 201.9h.01M549.9 210.6h.01M552.2 205.1h.01M539.0 206.9h.01M552.5 206.1h.01M540.6 209.4h.01M547.1 201.8h.01" stroke="#b4b4b4" stroke-width="1.25" stroke-linecap="round" fill="none"/>
<path d="M515.3 154.5h.01M516.6 154.0h.01M518.4 153.6h.01M520.2 154.0h.01M521.7 152.7h.01M519.3 154.2h.01M535.9 137.3h.01M538.9 136.1h.01M541.1 135.7h.01M542.9 137.8h.01M546.9 136.4h.01M539.9 137.0h.01M527.4 141.0h.01M529.7 140.7h.01M525.7 142.8h.01M531.9 147.6h.01M521.2 151.1h.01M537.2 151.1h.01M541.1 150.6h.01M577.1 164.2h.01M578.9 166.4h.01M577.7 169.6h.01M578.4 172.7h.01M578.9 174.5h.01M577.9 165.1h.01M578.0 191.5h.01M577.1 193.6h.01M572.9 196.4h.01M576.2 199.1h.01M577.7 200.9h.01M579.5 201.8h.01M581.3 201.3h.01M579.9 199.5h.01M578.7 201.4h.01M572.9 211.3h.01M544.0 176.5h.01M544.4 177.1h.01M565.3 179.6h.01M548.0 189.1h.01" stroke="#ababab" stroke-width="1.6" stroke-linecap="round" fill="none"/>
<path d="M540.2 154.3h.01M539.4 153.7h.01M538.8 154.7h.01M531.8 163.6h.01M533.5 164.4h.01M518.4 128.9h.01" stroke="#e38a73" stroke-width="1.05" stroke-linecap="round" fill="none"/>
<path d="M539.9 157.9h.01M531.9 164.8h.01M515.0 131.3h.01M542.9 123.8h.01" stroke="#e8361d" stroke-width="1.35" stroke-linecap="round" fill="none"/>
<path d="M537.5 127.0q-1.3 2.6 -.6 5.6" stroke="#fff" stroke-width=".7" fill="none" opacity=".75"/>
<path d="M545.7 203.2h.01" stroke="#fff" stroke-width="1.7" stroke-linecap="round"/>
<path d="M546.9 205.0h.01" stroke="#fff" stroke-width="1" stroke-linecap="round"/>
<rect x="508.9" y="76.8" width="77.3" height="150.3" fill="none" stroke="#444" stroke-width=".75"/>
<path d="M545.3 292.5C545.5 292.7 545.7 294.8 546.1 296.3C546.5 297.9 547.3 299.4 547.3 301.1C547.3 302.8 546.9 304.6 546.2 305.8C545.5 307.0 544.4 307.1 543.6 307.7C542.7 308.3 542.5 309.0 541.8 309.0C541.1 309.0 540.5 307.4 539.6 307.6C538.7 307.8 538.0 309.0 537.1 309.9C536.3 310.9 535.7 311.7 535.0 312.8C534.3 313.9 533.6 314.7 533.5 315.8C533.4 317.0 533.7 318.0 534.3 319.0C534.9 320.0 535.8 321.1 536.7 321.4C537.7 321.7 538.8 320.5 539.5 320.7C540.1 320.8 540.4 321.5 540.2 322.2C540.1 322.9 539.4 323.8 538.6 324.3C537.8 324.9 536.7 324.7 535.9 325.3C535.1 325.8 534.1 326.7 534.2 327.3C534.3 328.0 535.9 328.2 536.4 328.9C536.9 329.7 537.1 330.4 537.0 331.3C536.9 332.3 536.0 332.9 535.6 334.0C535.3 335.1 535.4 336.6 535.0 337.4C534.6 338.2 534.0 338.5 533.4 338.3C532.8 338.2 532.5 337.3 531.6 336.5C530.7 335.8 530.0 334.9 528.6 334.3C527.3 333.8 525.8 333.6 524.2 333.6C522.6 333.6 521.4 334.3 520.0 334.3C518.6 334.3 517.7 334.4 516.8 333.7C515.8 333.0 515.3 332.1 514.9 330.6C514.5 329.0 514.6 327.1 514.7 325.1C514.8 323.1 514.8 321.3 515.2 319.5C515.6 317.8 515.8 316.7 516.8 315.6C517.8 314.6 519.4 314.9 520.6 313.9C521.8 312.8 522.2 311.4 523.2 310.1C524.2 308.7 524.8 307.7 525.9 306.6C527.0 305.6 527.9 305.2 529.3 304.5C530.6 303.9 531.9 303.9 533.5 303.1C535.0 302.4 536.3 301.3 537.8 300.3C539.4 299.3 540.8 298.4 542.1 297.5C543.3 296.5 544.2 296.0 544.8 295.1C545.4 294.2 545.0 292.3 545.3 292.5ZM543.5 339.0C543.7 339.2 544.4 341.2 544.9 342.8C545.3 344.4 545.3 346.8 546.0 347.7C546.7 348.6 547.7 348.1 548.5 347.8C549.3 347.6 550.1 345.9 550.2 346.3C550.2 346.6 549.1 348.4 548.6 349.7C548.0 350.9 547.3 351.8 547.3 353.0C547.2 354.2 548.2 355.0 548.1 356.2C547.9 357.3 547.1 358.1 546.5 359.2C545.9 360.4 545.3 361.3 544.9 362.5C544.5 363.6 544.8 364.6 544.4 365.6C543.9 366.6 543.1 367.0 542.5 367.9C541.9 368.8 541.5 369.7 541.0 370.2C540.4 370.8 539.9 371.2 539.5 371.0C539.0 370.7 538.5 370.0 538.4 368.9C538.4 367.8 538.8 366.4 539.2 365.1C539.7 363.8 540.3 363.2 540.7 361.9C541.2 360.6 541.5 359.3 541.5 357.8C541.6 356.3 541.2 355.3 541.2 353.8C541.3 352.4 541.6 351.3 541.9 349.9C542.3 348.4 542.8 347.4 543.1 346.0C543.4 344.5 543.5 343.2 543.5 341.9C543.6 340.7 543.2 338.9 543.5 339.0ZM556.3 340.1C556.3 340.5 556.0 341.0 555.7 341.3C555.4 341.6 554.9 341.9 554.5 341.9C554.1 341.9 553.6 341.6 553.3 341.3C553.0 341.0 552.8 340.5 552.8 340.1C552.8 339.7 553.0 339.2 553.3 338.9C553.6 338.6 554.1 338.4 554.5 338.4C554.9 338.4 555.4 338.6 555.7 338.9C556.0 339.2 556.3 339.7 556.3 340.1ZM577.5 327.2C577.8 327.2 578.2 329.1 578.7 330.8C579.2 332.5 579.9 334.2 580.3 336.4C580.7 338.6 580.8 340.4 580.9 342.7C581.0 345.0 580.8 346.9 580.6 349.0C580.4 351.0 579.7 351.9 579.8 353.8C580.0 355.8 580.9 357.7 581.4 359.5C581.9 361.3 582.3 361.7 582.5 363.4C582.7 365.2 582.7 366.9 582.5 368.9C582.3 370.9 581.9 372.4 581.4 374.4C580.9 376.4 580.5 378.3 579.8 380.0C579.2 381.7 578.6 383.1 578.0 383.7C577.3 384.2 577.3 383.8 576.5 382.9C575.7 382.1 574.7 380.7 573.7 379.1C572.7 377.5 571.8 376.2 571.1 374.4C570.4 372.5 570.1 370.9 570.0 368.9C569.9 366.9 569.9 365.3 570.3 363.5C570.6 361.6 571.4 360.2 571.9 358.7C572.3 357.2 573.0 356.5 572.7 355.3C572.4 354.1 571.2 353.4 570.2 352.0C569.3 350.5 568.3 348.9 567.3 347.3C566.4 345.7 565.4 344.2 565.0 343.4C564.6 342.6 564.6 342.5 565.2 343.0C565.7 343.5 566.9 344.7 568.0 346.1C569.1 347.6 570.1 349.5 571.2 350.8C572.3 352.2 573.3 353.7 574.1 353.4C574.8 353.0 575.0 351.0 575.4 349.1C575.8 347.1 576.1 345.1 576.3 342.7C576.5 340.4 576.5 338.5 576.6 336.3C576.7 334.1 576.9 332.4 577.1 330.8C577.3 329.1 577.2 327.2 577.5 327.2Z" fill="#b4b4b4"/>
<path d="M539.1 320.5h.01M538.2 300.2h.01M528.6 305.2h.01M522.6 311.3h.01M536.3 331.9h.01M534.7 336.9h.01M544.0 308.2h.01M543.1 308.2h.01M535.3 320.1h.01M534.6 326.2h.01M546.1 296.8h.01M533.6 317.5h.01M530.1 335.6h.01M520.5 333.9h.01M539.6 308.0h.01M537.8 309.8h.01M514.7 331.9h.01M534.8 326.6h.01M536.6 329.6h.01M528.9 333.7h.01M544.3 294.1h.01M522.3 334.3h.01M537.6 324.4h.01M535.6 320.6h.01M520.5 313.4h.01M515.5 320.8h.01M536.4 328.5h.01M540.3 323.5h.01M539.4 299.0h.01M521.5 333.8h.01M529.8 336.5h.01M545.1 293.4h.01M518.0 334.5h.01M526.9 305.9h.01M534.8 325.5h.01M536.1 311.4h.01M543.8 295.7h.01M531.5 304.2h.01M534.5 315.7h.01M538.3 320.9h.01M523.1 334.4h.01M544.1 295.5h.01M531.1 336.3h.01M544.5 307.0h.01M519.1 333.8h.01M544.1 297.0h.01M541.8 308.8h.01M535.7 327.8h.01M530.6 335.7h.01M533.8 338.2h.01M537.9 300.6h.01M539.4 308.7h.01M535.2 319.9h.01M537.8 310.2h.01M515.4 331.4h.01M542.3 309.1h.01M539.9 321.5h.01M541.8 308.9h.01M535.1 325.8h.01M543.9 307.8h.01M528.8 334.4h.01M546.7 298.2h.01M537.8 309.1h.01M533.5 337.9h.01M546.0 297.9h.01M536.2 325.4h.01M545.4 293.6h.01M527.3 306.6h.01M516.1 334.1h.01M531.0 303.8h.01M517.2 315.5h.01M545.6 292.8h.01M515.8 318.2h.01M530.7 335.6h.01M535.0 337.6h.01M535.7 332.9h.01M546.3 295.2h.01M523.6 334.3h.01M531.0 335.7h.01M542.9 296.4h.01M523.0 333.5h.01M525.0 307.4h.01M527.6 305.8h.01M536.8 324.6h.01M536.0 333.3h.01M538.4 301.3h.01M524.7 334.2h.01M514.8 322.6h.01M520.7 334.7h.01M545.0 293.7h.01M521.6 334.5h.01M536.6 310.1h.01M517.8 315.6h.01M521.1 313.1h.01M544.6 294.8h.01M534.2 314.7h.01M517.8 315.4h.01M514.8 326.3h.01M515.9 333.1h.01M538.9 321.3h.01M529.5 335.7h.01M542.8 296.8h.01M521.3 334.1h.01M536.6 328.9h.01M534.6 338.2h.01M546.0 294.0h.01M533.9 302.9h.01M523.6 309.8h.01M546.2 297.9h.01M533.7 303.2h.01M536.3 311.0h.01M539.2 320.6h.01M530.4 335.9h.01M537.8 321.3h.01M538.8 324.3h.01M534.8 336.1h.01M519.9 334.4h.01M538.6 300.1h.01M536.7 320.7h.01M539.8 298.1h.01M540.4 321.1h.01M536.0 325.1h.01M545.4 293.8h.01M526.9 333.8h.01M535.0 334.9h.01M537.4 309.3h.01M535.0 328.3h.01M534.8 335.4h.01M538.8 309.0h.01M537.9 321.4h.01M536.4 329.3h.01M534.4 327.7h.01M534.3 316.8h.01M526.5 306.5h.01M540.2 309.0h.01M536.8 310.6h.01M533.9 314.4h.01M534.4 338.3h.01M542.3 309.2h.01M529.0 304.4h.01M524.3 309.1h.01M545.9 306.6h.01M534.5 302.1h.01M531.5 336.3h.01M539.3 323.5h.01M515.6 330.5h.01M535.8 324.9h.01M524.2 309.2h.01M544.6 293.2h.01M546.4 299.9h.01M536.6 320.9h.01M546.1 297.5h.01M544.6 294.7h.01M525.9 306.6h.01M520.8 313.7h.01M515.0 330.3h.01M533.1 338.3h.01M528.9 334.3h.01M544.6 293.3h.01M517.5 334.2h.01M541.7 297.3h.01M538.5 321.2h.01M543.1 308.4h.01M519.8 334.0h.01M545.6 294.3h.01M544.0 295.5h.01M539.2 307.6h.01M537.1 310.8h.01M544.1 294.9h.01M521.5 313.2h.01M542.4 296.2h.01M528.9 334.9h.01M539.5 321.5h.01M536.5 330.9h.01M515.6 318.9h.01M515.2 322.2h.01M530.6 335.9h.01M534.7 327.5h.01M543.6 307.8h.01M544.5 295.2h.01M546.1 296.3h.01M515.7 318.0h.01M544.9 293.2h.01M539.3 321.7h.01M539.9 321.2h.01M541.9 309.6h.01M535.7 336.8h.01M535.9 311.4h.01M536.1 325.5h.01M535.2 326.4h.01M534.3 315.1h.01M543.9 306.7h.01M514.7 328.6h.01M544.6 294.2h.01M534.0 326.4h.01M544.7 295.1h.01M534.3 302.7h.01M540.9 307.9h.01M531.6 337.3h.01M534.5 314.0h.01M527.6 306.0h.01M539.0 299.5h.01M540.6 298.2h.01M540.0 321.5h.01M528.7 304.4h.01M531.9 303.7h.01M538.9 323.4h.01M545.0 294.8h.01M539.5 298.4h.01M523.5 334.2h.01M545.1 294.5h.01M545.7 306.8h.01M515.1 318.5h.01M530.9 335.5h.01M545.4 294.9h.01M530.6 303.2h.01M545.4 296.5h.01M539.6 307.5h.01M535.9 328.8h.01M537.4 309.4h.01M532.9 303.4h.01M535.2 333.3h.01M546.3 296.9h.01M514.5 328.3h.01M541.8 297.0h.01M540.1 322.5h.01M539.7 307.6h.01M534.8 337.2h.01M547.0 300.6h.01M546.9 303.6h.01M538.9 307.4h.01M539.9 322.8h.01M517.9 314.4h.01M546.6 301.7h.01M541.8 308.9h.01M514.5 325.0h.01M526.0 333.3h.01M516.5 316.7h.01M524.2 333.5h.01M516.5 317.6h.01M535.1 312.6h.01M539.8 308.4h.01M517.2 315.1h.01M536.3 329.0h.01M536.2 332.9h.01M536.6 332.5h.01M523.2 309.7h.01M542.3 308.8h.01M523.2 310.6h.01M538.5 324.5h.01M525.1 307.9h.01M533.9 326.5h.01M538.8 300.0h.01M534.9 316.8h.01M540.6 321.5h.01M529.5 336.0h.01M536.0 335.4h.01M546.9 298.0h.01M541.3 308.6h.01M536.7 329.0h.01M546.6 358.4h.01M545.2 343.5h.01M542.6 347.6h.01M545.6 346.8h.01M539.1 366.9h.01M541.6 357.5h.01M539.2 369.9h.01M539.1 368.3h.01M548.1 356.6h.01M540.7 360.9h.01M540.4 370.7h.01M544.5 362.4h.01M542.2 358.4h.01M540.0 370.9h.01M539.0 368.0h.01M543.9 341.6h.01M546.1 361.2h.01M549.0 347.6h.01M543.5 343.8h.01M544.1 342.1h.01M548.1 355.5h.01M542.9 345.3h.01M541.6 368.8h.01M548.5 350.9h.01M541.2 350.5h.01M539.0 369.5h.01M543.1 367.8h.01M544.6 363.5h.01M538.9 365.6h.01M547.6 347.5h.01M547.9 356.3h.01M548.3 352.0h.01M541.4 369.7h.01M547.9 350.7h.01M541.3 354.6h.01M538.4 369.1h.01M550.6 346.3h.01M547.2 350.9h.01M545.3 363.3h.01M542.1 348.2h.01M545.1 361.6h.01M545.3 346.7h.01M540.8 357.2h.01M542.3 357.4h.01M541.8 357.2h.01M544.6 363.9h.01M543.9 342.2h.01M539.6 370.3h.01M549.4 347.1h.01M539.2 369.8h.01M548.3 356.9h.01M541.6 357.6h.01M543.7 366.9h.01M544.1 365.5h.01M546.5 353.0h.01M546.4 347.8h.01M547.4 357.9h.01M547.0 358.7h.01M544.7 363.8h.01M543.1 340.3h.01M545.1 342.1h.01M540.1 362.5h.01M549.9 347.1h.01M543.7 342.2h.01M547.4 347.6h.01M545.5 359.0h.01M539.5 364.5h.01M538.9 366.2h.01M543.7 340.9h.01M542.7 346.0h.01M547.5 347.9h.01M546.8 353.6h.01M545.2 361.2h.01M539.8 371.1h.01M542.7 348.4h.01M548.3 355.5h.01M545.1 363.7h.01M543.6 339.9h.01M541.6 353.9h.01M542.5 349.4h.01M542.8 342.0h.01M543.1 347.3h.01M538.6 369.2h.01M541.2 358.6h.01M542.6 343.3h.01M543.9 339.9h.01M549.7 347.3h.01M546.5 347.8h.01M548.5 350.5h.01M541.5 370.0h.01M555.0 341.4h.01M553.2 339.3h.01M554.9 341.9h.01M555.2 339.5h.01M555.4 341.4h.01M553.1 339.8h.01M552.7 340.1h.01M553.4 341.0h.01M570.8 361.6h.01M571.2 375.3h.01M574.2 352.1h.01M581.5 373.9h.01M580.8 345.0h.01M577.4 333.6h.01M580.9 359.3h.01M580.0 334.0h.01M567.3 346.6h.01M567.6 345.2h.01M576.1 341.0h.01M580.7 358.7h.01M568.2 347.5h.01M580.5 339.7h.01M570.0 364.2h.01M576.7 330.8h.01M576.3 382.7h.01M567.3 347.7h.01M564.8 342.2h.01M571.6 359.7h.01M578.3 331.1h.01M566.2 344.5h.01M574.6 379.9h.01M574.9 350.8h.01M576.9 328.7h.01M578.8 329.6h.01M576.7 330.3h.01M567.1 345.0h.01M572.1 356.8h.01M572.5 357.4h.01M581.3 357.9h.01M578.2 329.7h.01M582.3 371.3h.01M571.0 350.2h.01M567.8 348.4h.01M568.6 347.7h.01M572.3 357.7h.01M577.4 328.9h.01M569.9 363.2h.01M582.5 365.4h.01M581.9 342.1h.01M572.5 356.2h.01M571.3 374.5h.01M569.3 368.3h.01M575.4 348.0h.01M565.0 343.0h.01M577.2 328.4h.01M578.2 383.3h.01M568.5 348.7h.01M567.1 345.0h.01M565.8 343.3h.01M582.1 359.6h.01M581.9 372.9h.01M580.2 355.5h.01M573.4 378.6h.01M577.5 329.9h.01M573.4 351.9h.01M580.9 351.3h.01M570.2 362.4h.01M580.1 348.7h.01M570.8 363.0h.01M575.6 348.4h.01M571.0 353.3h.01M581.6 339.6h.01M580.5 376.7h.01M569.5 365.8h.01M572.1 354.3h.01M580.2 379.5h.01M570.6 353.4h.01M579.7 356.0h.01M571.4 361.6h.01M570.8 352.1h.01M581.8 362.4h.01M579.8 354.8h.01M567.9 345.0h.01M567.8 346.6h.01M580.5 336.5h.01M575.4 347.5h.01M580.9 348.3h.01M574.4 380.7h.01M580.8 377.7h.01M579.0 331.7h.01M581.9 372.8h.01M578.5 383.0h.01M581.6 369.9h.01M566.1 344.2h.01M579.8 376.3h.01M574.5 352.3h.01M578.6 332.9h.01M577.1 383.7h.01M570.4 367.4h.01M575.1 349.3h.01M572.9 353.9h.01M580.9 375.2h.01M571.2 361.0h.01M567.8 344.9h.01M575.4 382.2h.01M567.4 348.2h.01M580.9 346.7h.01M571.7 351.9h.01M572.7 356.0h.01M580.6 339.0h.01M570.3 362.1h.01M580.2 353.6h.01M576.8 334.6h.01M567.6 347.9h.01M582.4 365.6h.01M570.2 367.9h.01M580.5 343.4h.01M575.4 348.2h.01M576.7 333.5h.01M581.6 362.4h.01M578.0 382.9h.01M568.9 347.5h.01M573.7 352.6h.01M578.4 384.0h.01M570.4 351.3h.01M579.4 381.2h.01M580.8 344.9h.01M577.5 331.1h.01M565.9 344.1h.01M571.6 350.1h.01M568.1 349.0h.01M571.6 354.4h.01M574.6 380.6h.01M577.8 329.4h.01M571.9 351.8h.01M578.9 332.9h.01M577.9 384.3h.01M581.8 365.7h.01M566.5 344.8h.01M580.4 377.5h.01M580.2 380.3h.01M576.0 381.4h.01M568.9 349.5h.01M570.4 369.8h.01M572.0 350.8h.01M576.6 334.5h.01M569.7 349.0h.01M570.4 365.3h.01M576.0 381.9h.01M567.7 345.6h.01M577.8 384.0h.01M582.3 360.9h.01M578.6 382.6h.01M579.8 337.7h.01M575.3 347.4h.01M576.8 339.4h.01M576.3 347.1h.01M571.9 376.1h.01M564.4 260.6h.01M565.0 260.0h.01M564.1 261.4h.01M564.8 261.3h.01M569.9 279.4h.01M570.4 279.5h.01M550.8 367.8h.01M549.5 369.4h.01M547.6 369.7h.01" stroke="#b4b4b4" stroke-width="1.25" stroke-linecap="round" fill="none"/>
<path d="M545.2 291.6h.01M534.6 300.2h.01M514.2 294.4h.01M524.7 295.4h.01M530.5 297.4h.01M516.9 292.0h.01M526.1 285.6h.01M523.7 305.6h.01M536.0 296.1h.01M532.2 287.2h.01M524.0 301.9h.01M528.5 291.6h.01M534.3 290.6h.01M517.2 296.4h.01M529.2 292.7h.01M529.8 295.1h.01M526.6 286.9h.01M538.0 294.0h.01M524.7 290.6h.01M544.2 294.4h.01M513.5 293.3h.01M517.9 289.6h.01M527.8 287.5h.01M523.7 294.7h.01M522.7 295.7h.01M545.9 293.3h.01M523.4 289.3h.01M534.3 292.0h.01M518.2 296.1h.01M529.5 293.8h.01M524.3 294.2h.01M518.2 291.0h.01M543.1 290.6h.01M540.8 288.2h.01M518.9 293.7h.01M525.1 293.7h.01M517.9 286.0h.01M520.0 290.6h.01M531.6 288.9h.01M543.8 291.6h.01M519.6 286.9h.01M525.8 283.8h.01M526.8 295.1h.01M516.9 285.4h.01M534.3 297.1h.01M530.5 288.4h.01M539.7 288.2h.01M516.5 298.5h.01M537.3 295.1h.01M533.9 288.9h.01M533.9 297.8h.01M529.2 289.9h.01M520.0 296.1h.01M518.9 286.5h.01M517.2 297.8h.01M537.7 290.6h.01M541.8 288.2h.01M528.5 294.4h.01M526.6 284.8h.01M529.2 288.1h.01M514.8 294.0h.01M527.5 292.7h.01M527.0 286.0h.01M517.4 290.3h.01M532.6 297.8h.01M528.6 290.8h.01M526.1 290.6h.01M527.5 290.3h.01M512.8 293.8h.01M536.7 293.3h.01M531.2 298.5h.01M532.2 295.9h.01M525.8 297.8h.01" stroke="#b0b0b0" stroke-width="1.35" stroke-linecap="round" fill="none"/>
<path d="M540.8 298.5h.01M534.7 305.2h.01M530.0 318.4h.01M525.2 307.6h.01M521.4 328.9h.01M541.3 366.1h.01" stroke="#e38a73" stroke-width="1.05" stroke-linecap="round" fill="none"/>
<path d="M547.3 349.7h.01" stroke="#e8361d" stroke-width="1.35" stroke-linecap="round" fill="none"/>
<path d="M534.5 321.6h.01" stroke="#fff" stroke-width="2.0" stroke-linecap="round"/>
<path d="M536.2 325.3h.01" stroke="#fff" stroke-width="2.2" stroke-linecap="round"/>
<path d="M534.9 318.2h.01" stroke="#fff" stroke-width="1.1" stroke-linecap="round"/>
<path d="M532.1 331.4h.01" stroke="#fff" stroke-width="1.2" stroke-linecap="round"/>
<path d="M535.1 329.4h.01" stroke="#fff" stroke-width="1.5" stroke-linecap="round"/>
<path d="M535.7 334.0h.01" stroke="#fff" stroke-width="1.2" stroke-linecap="round"/>
<path d="M530.2 326.4h.01" stroke="#fff" stroke-width="0.9" stroke-linecap="round"/>
<path d="M537.5 327.4h.01" stroke="#fff" stroke-width="1.3" stroke-linecap="round"/>
<path d="M533.5 323.8h.01" stroke="#fff" stroke-width="1.2" stroke-linecap="round"/>
<rect x="508.9" y="240.4" width="77.3" height="150.3" fill="none" stroke="#444" stroke-width=".75"/>
</g></svg>
  <div class="side">
    <div class="lab" style="top:10.0px">Select Plot Type:</div>
    <div class="radio on" style="top:29.8px"></div><div class="rl" style="top:26.0px">Feature Plot</div>
    <div class="radio" style="top:54px"></div><div class="rl" style="top:50.1px">Dot Plot</div>
    <div class="radio" style="top:77.8px"></div><div class="rl" style="top:73.7px">Violin Plot</div>

    <div class="lab" style="top:109.9px">Width (px)</div>
    <div class="irs" style="top:132.7px">
      <span class="mm min">400</span><span class="mm max">2000</span>
      <div class="line"></div><div class="bar" style="width:136.5px"></div>
      <span class="val" style="left:136.5px">800</span><div class="h" style="left:136.5px"></div>
    </div>

    <div class="lab" style="top:176.1px">Height (px)</div>
    <div class="irs" style="top:198.7px">
      <span class="mm min">300</span><span class="mm max">2000</span>
      <div class="line"></div><div class="bar" style="width:68.5px"></div>
      <span class="val" style="left:68.5px">500</span><div class="h" style="left:68.5px"></div>
    </div>

    <div class="lab" style="top:241.9px">Max Features to Display</div>
    <div class="irs" style="top:264.7px">
      <span class="mm min">1</span><span class="mm max">10</span>
      <div class="line"></div><div class="bar" style="width:293.6px"></div>
      <i class="tk M" style="left:7.5px"></i><span class="tl" style="left:8.0px">1</span><i class="tk m" style="left:26.5px"></i><i class="tk m" style="left:45.6px"></i><i class="tk M" style="left:64.6px"></i><span class="tl" style="left:65.1px">2</span><i class="tk m" style="left:83.6px"></i><i class="tk m" style="left:102.7px"></i><i class="tk M" style="left:121.7px"></i><span class="tl" style="left:122.2px">3</span><i class="tk m" style="left:140.8px"></i><i class="tk m" style="left:159.8px"></i><i class="tk M" style="left:178.8px"></i><span class="tl" style="left:179.3px">4</span><i class="tk m" style="left:197.9px"></i><i class="tk m" style="left:216.9px"></i><i class="tk M" style="left:235.9px"></i><span class="tl" style="left:236.4px">5</span><i class="tk m" style="left:255.0px"></i><i class="tk m" style="left:274.0px"></i><i class="tk M" style="left:293.1px"></i><span class="tl" style="left:293.6px">6</span><i class="tk m" style="left:312.1px"></i><i class="tk m" style="left:331.1px"></i><i class="tk M" style="left:350.2px"></i><span class="tl" style="left:350.7px">7</span><i class="tk m" style="left:369.2px"></i><i class="tk m" style="left:388.2px"></i><i class="tk M" style="left:407.3px"></i><span class="tl" style="left:407.8px">8</span><i class="tk m" style="left:426.3px"></i><i class="tk m" style="left:445.4px"></i><i class="tk M" style="left:464.4px"></i><span class="tl" style="left:464.9px">9</span><i class="tk m" style="left:483.4px"></i><i class="tk m" style="left:502.5px"></i><i class="tk M" style="left:521.5px"></i><span class="tl" style="left:522.0px">10</span>
      <span class="val" style="left:293.6px">6</span><div class="h" style="left:293.6px"></div>
    </div>
  </div>
</div>
</body>
</html>
